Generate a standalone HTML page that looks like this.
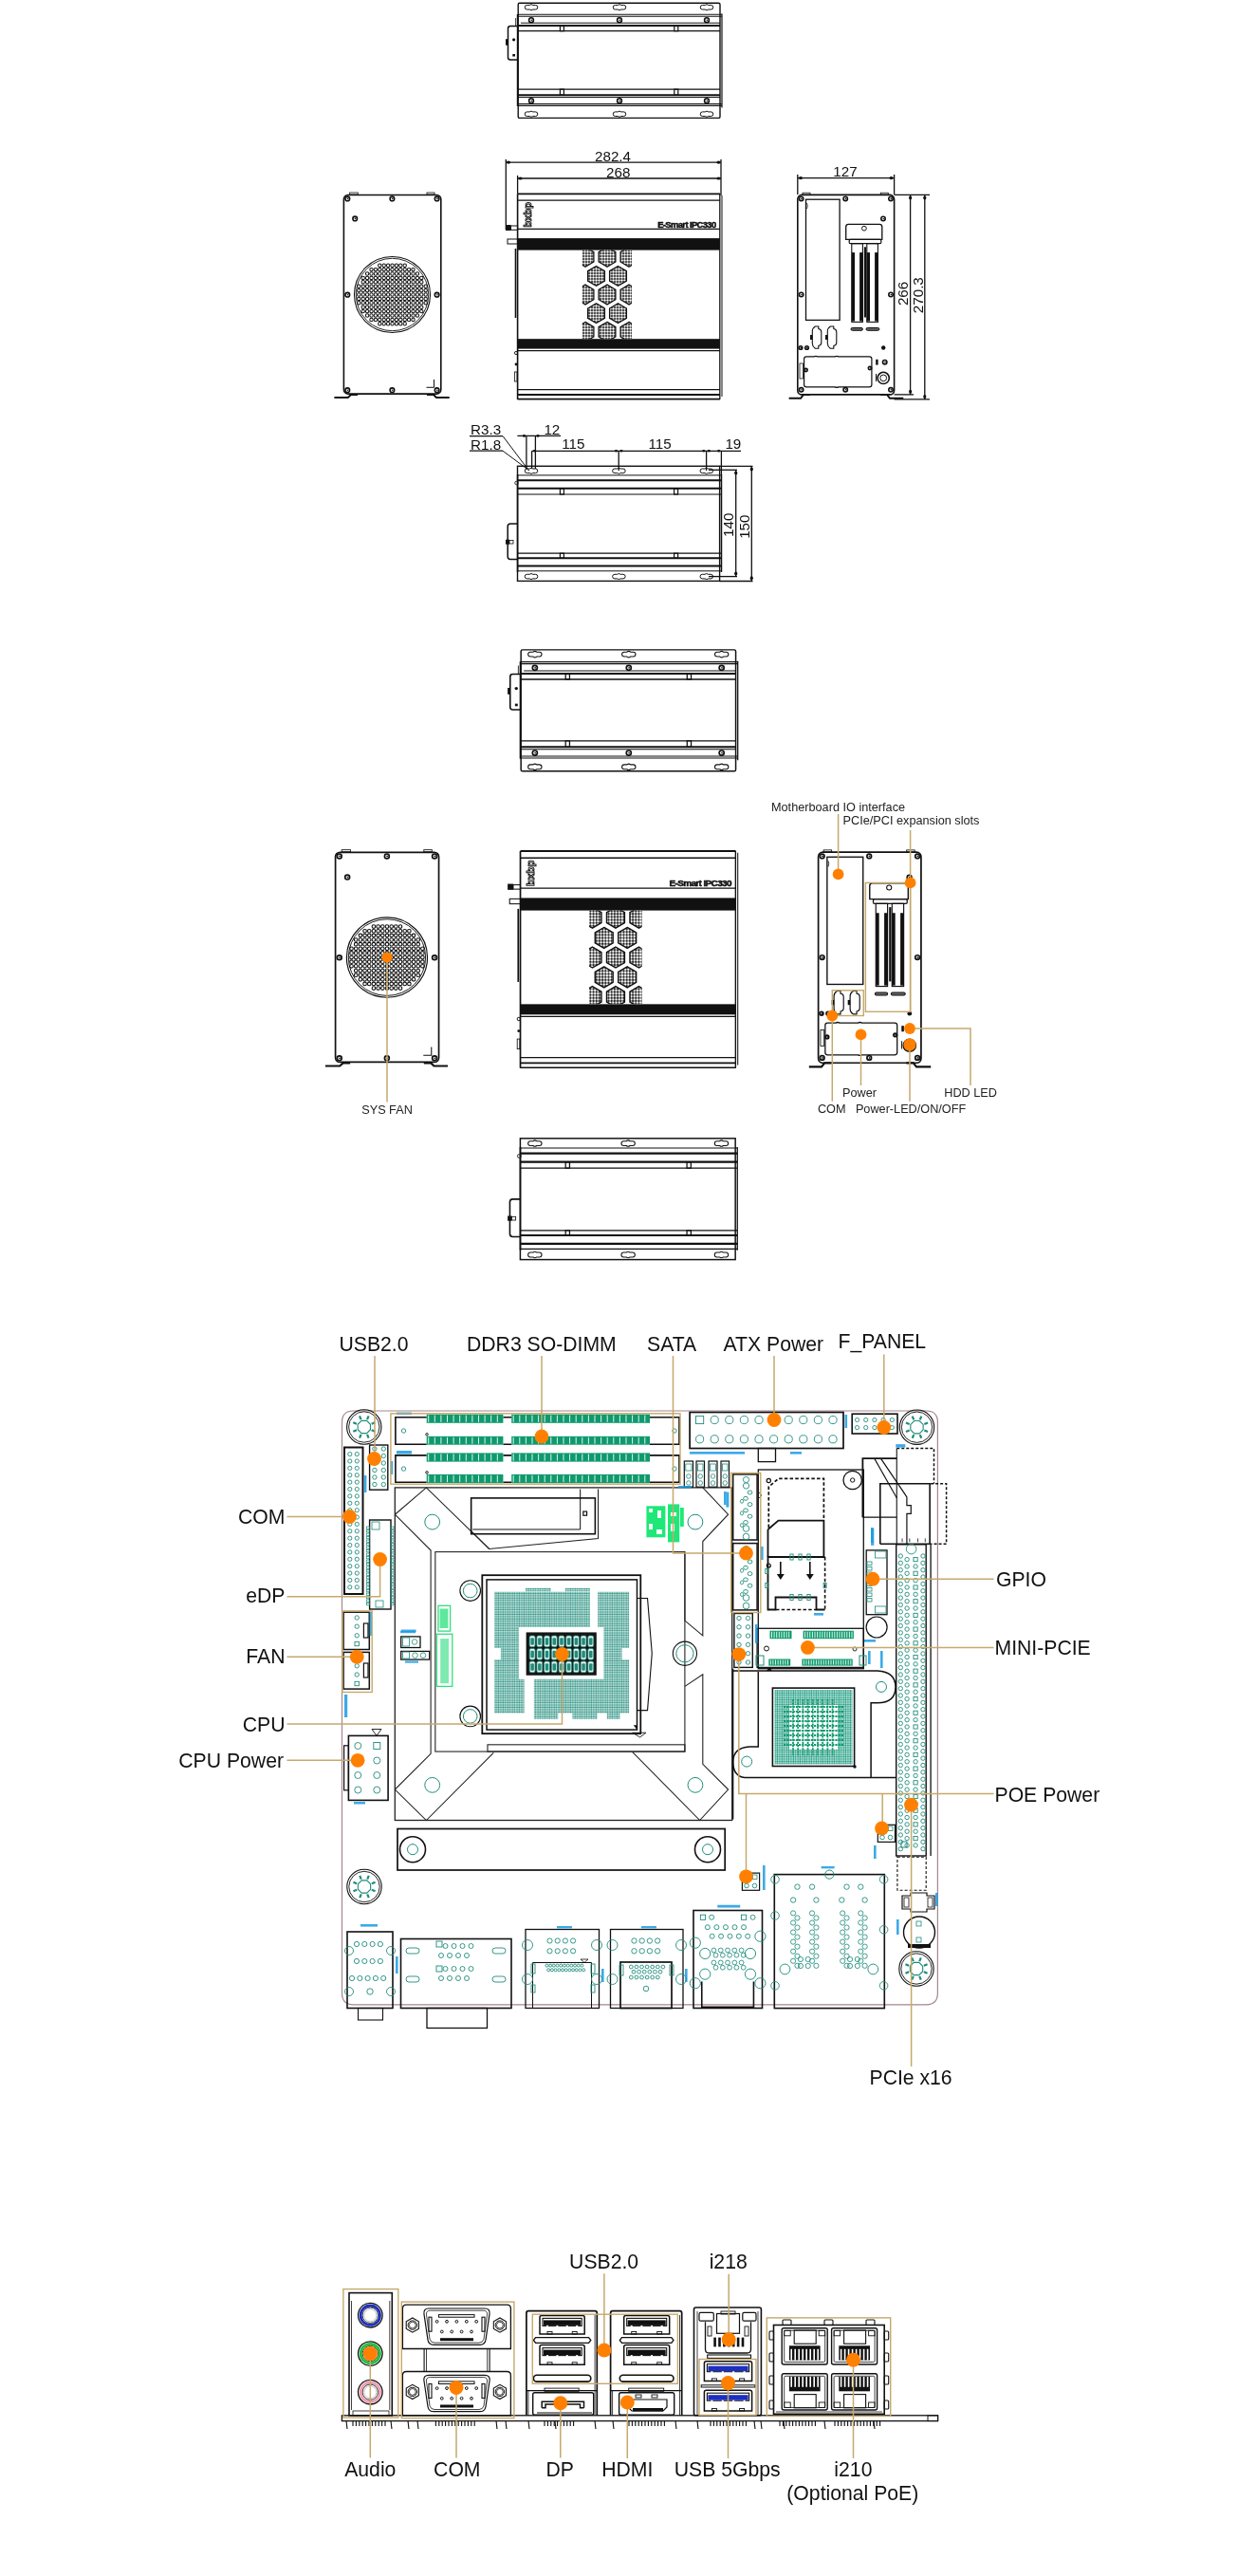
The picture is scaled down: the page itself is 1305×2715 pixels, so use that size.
<!DOCTYPE html>
<html><head><meta charset="utf-8"><style>
html,body{margin:0;padding:0;background:#fff;width:1305px;height:2715px;overflow:hidden}
svg{display:block;font-family:"Liberation Sans",sans-serif;will-change:transform}
</style></head><body>
<svg width="1305" height="2715" viewBox="0 0 1305 2715"><defs><pattern id="mesh" width="3" height="3" patternUnits="userSpaceOnUse"><rect width="3" height="3" fill="#111"/><circle cx="1.5" cy="1.5" r="1.22" fill="#fff"/></pattern><pattern id="pinpat" width="2.45" height="2.45" patternUnits="userSpaceOnUse"><rect x="0.25" y="0.3" width="1.85" height="1.75" fill="#1a8a78"/></pattern><pattern id="bgapat" width="2.4" height="2.4" patternUnits="userSpaceOnUse"><rect x="0.2" y="0.2" width="1.9" height="1.9" rx="0.5" fill="#12987a"/></pattern></defs><g id="topA"><rect x="546.2" y="3.2" width="212.8" height="121.2" rx="1.5" fill="none" stroke="#111" stroke-width="1.4"/><line x1="761" y1="14.5" x2="761" y2="113.5" stroke="#111" stroke-width="1.2"/><line x1="545.6" y1="15" x2="545.6" y2="112" stroke="#111" stroke-width="1.6"/><line x1="545.6" y1="15.3" x2="761" y2="15.3" stroke="#111" stroke-width="1.1"/><line x1="545.6" y1="17.2" x2="761" y2="17.2" stroke="#111" stroke-width="1.1"/><line x1="549" y1="24.2" x2="759" y2="24.2" stroke="#111" stroke-width="1"/><line x1="545.6" y1="27" x2="759" y2="27" stroke="#111" stroke-width="2"/><line x1="545.6" y1="32.7" x2="759" y2="32.7" stroke="#111" stroke-width="1.2"/><line x1="545.6" y1="94.1" x2="759" y2="94.1" stroke="#111" stroke-width="1.2"/><line x1="545.6" y1="100.2" x2="759" y2="100.2" stroke="#111" stroke-width="2"/><line x1="545.6" y1="102.6" x2="759" y2="102.6" stroke="#111" stroke-width="1"/><line x1="545.6" y1="109.5" x2="761" y2="109.5" stroke="#111" stroke-width="1.1"/><line x1="545.6" y1="111.4" x2="761" y2="111.4" stroke="#111" stroke-width="1.1"/><path d="M555.55,5.4 L558.2,5.4 Q560,3.9 561.8,5.4 L564.45,5.4 A2.3,2.3 0 0 1 564.45,10 L561.8,10 Q560,11.5 558.2,10 L555.55,10 A2.3,2.3 0 0 1 555.55,5.4 Z" fill="none" stroke="#111" stroke-width="1"/><path d="M555.55,117.9 L558.2,117.9 Q560,116.4 561.8,117.9 L564.45,117.9 A2.3,2.3 0 0 1 564.45,122.5 L561.8,122.5 Q560,124 558.2,122.5 L555.55,122.5 A2.3,2.3 0 0 1 555.55,117.9 Z" fill="none" stroke="#111" stroke-width="1"/><circle cx="560" cy="21.2" r="2.4" fill="none" stroke="#111" stroke-width="1.6"/><circle cx="560.3" cy="21.2" r="0.8" fill="#111"/><circle cx="560" cy="106.2" r="2.4" fill="none" stroke="#111" stroke-width="1.6"/><circle cx="560.3" cy="106.2" r="0.8" fill="#111"/><path d="M648.55,5.4 L651.2,5.4 Q653,3.9 654.8,5.4 L657.45,5.4 A2.3,2.3 0 0 1 657.45,10 L654.8,10 Q653,11.5 651.2,10 L648.55,10 A2.3,2.3 0 0 1 648.55,5.4 Z" fill="none" stroke="#111" stroke-width="1"/><path d="M648.55,117.9 L651.2,117.9 Q653,116.4 654.8,117.9 L657.45,117.9 A2.3,2.3 0 0 1 657.45,122.5 L654.8,122.5 Q653,124 651.2,122.5 L648.55,122.5 A2.3,2.3 0 0 1 648.55,117.9 Z" fill="none" stroke="#111" stroke-width="1"/><circle cx="653" cy="21.2" r="2.4" fill="none" stroke="#111" stroke-width="1.6"/><circle cx="653.3" cy="21.2" r="0.8" fill="#111"/><circle cx="653" cy="106.2" r="2.4" fill="none" stroke="#111" stroke-width="1.6"/><circle cx="653.3" cy="106.2" r="0.8" fill="#111"/><path d="M740.55,5.4 L743.2,5.4 Q745,3.9 746.8,5.4 L749.45,5.4 A2.3,2.3 0 0 1 749.45,10 L746.8,10 Q745,11.5 743.2,10 L740.55,10 A2.3,2.3 0 0 1 740.55,5.4 Z" fill="none" stroke="#111" stroke-width="1"/><path d="M740.55,117.9 L743.2,117.9 Q745,116.4 746.8,117.9 L749.45,117.9 A2.3,2.3 0 0 1 749.45,122.5 L746.8,122.5 Q745,124 743.2,122.5 L740.55,122.5 A2.3,2.3 0 0 1 740.55,117.9 Z" fill="none" stroke="#111" stroke-width="1"/><circle cx="745" cy="21.2" r="2.4" fill="none" stroke="#111" stroke-width="1.6"/><circle cx="745.3" cy="21.2" r="0.8" fill="#111"/><circle cx="745" cy="106.2" r="2.4" fill="none" stroke="#111" stroke-width="1.6"/><circle cx="745.3" cy="106.2" r="0.8" fill="#111"/><rect x="590.4" y="27.5" width="4" height="5.2" rx="0" fill="none" stroke="#111" stroke-width="1.2"/><rect x="590.4" y="94.1" width="4" height="6.1" rx="0" fill="none" stroke="#111" stroke-width="1.2"/><rect x="710.8" y="27.5" width="4" height="5.2" rx="0" fill="none" stroke="#111" stroke-width="1.2"/><rect x="710.8" y="94.1" width="4" height="6.1" rx="0" fill="none" stroke="#111" stroke-width="1.2"/><path d="M546,27.5 L538,27.5 Q535.5,27.5 535.5,30 L535.5,60.5 Q535.5,63 538,63 L546,63" fill="none" stroke="#111" stroke-width="1.5"/><rect x="533" y="41.2" width="2.5" height="6.5" rx="0" fill="#111" stroke="#111" stroke-width="0"/><circle cx="541.6" cy="41.8" r="1.6" fill="#111"/><rect x="540.3" y="57" width="2.7" height="2.5" rx="0" fill="#111" stroke="#111" stroke-width="0"/><line x1="543.6" y1="19" x2="543.6" y2="27.5" stroke="#111" stroke-width="0.8"/></g><g id="topB"><rect x="545.5" y="491.3" width="213.1" height="121.1" rx="0" fill="none" stroke="#111" stroke-width="1.4"/><line x1="760.6" y1="500" x2="760.6" y2="603" stroke="#111" stroke-width="1.2"/><line x1="545.6" y1="500" x2="545.6" y2="603" stroke="#111" stroke-width="1.6"/><line x1="545.6" y1="500.9" x2="760.6" y2="500.9" stroke="#111" stroke-width="1"/><line x1="545.6" y1="506.3" x2="760.6" y2="506.3" stroke="#111" stroke-width="2"/><line x1="545.6" y1="514.8" x2="760.6" y2="514.8" stroke="#111" stroke-width="2"/><line x1="545.6" y1="521" x2="760.6" y2="521" stroke="#111" stroke-width="1.2"/><line x1="545.6" y1="583.2" x2="760.6" y2="583.2" stroke="#111" stroke-width="1.2"/><line x1="545.6" y1="588.2" x2="760.6" y2="588.2" stroke="#111" stroke-width="2"/><line x1="545.6" y1="596.6" x2="760.6" y2="596.6" stroke="#111" stroke-width="2"/><line x1="545.6" y1="601.8" x2="760.6" y2="601.8" stroke="#111" stroke-width="1"/><path d="M555.55,494 L558.2,494 Q560,492.5 561.8,494 L564.45,494 A2.3,2.3 0 0 1 564.45,498.6 L561.8,498.6 Q560,500.1 558.2,498.6 L555.55,498.6 A2.3,2.3 0 0 1 555.55,494 Z" fill="none" stroke="#111" stroke-width="1"/><path d="M555.55,605.3 L558.2,605.3 Q560,603.8 561.8,605.3 L564.45,605.3 A2.3,2.3 0 0 1 564.45,609.9 L561.8,609.9 Q560,611.4 558.2,609.9 L555.55,609.9 A2.3,2.3 0 0 1 555.55,605.3 Z" fill="none" stroke="#111" stroke-width="1"/><path d="M647.95,494 L650.6,494 Q652.4,492.5 654.2,494 L656.85,494 A2.3,2.3 0 0 1 656.85,498.6 L654.2,498.6 Q652.4,500.1 650.6,498.6 L647.95,498.6 A2.3,2.3 0 0 1 647.95,494 Z" fill="none" stroke="#111" stroke-width="1"/><path d="M647.95,605.3 L650.6,605.3 Q652.4,603.8 654.2,605.3 L656.85,605.3 A2.3,2.3 0 0 1 656.85,609.9 L654.2,609.9 Q652.4,611.4 650.6,609.9 L647.95,609.9 A2.3,2.3 0 0 1 647.95,605.3 Z" fill="none" stroke="#111" stroke-width="1"/><path d="M740.35,494 L743,494 Q744.8,492.5 746.6,494 L749.25,494 A2.3,2.3 0 0 1 749.25,498.6 L746.6,498.6 Q744.8,500.1 743,498.6 L740.35,498.6 A2.3,2.3 0 0 1 740.35,494 Z" fill="none" stroke="#111" stroke-width="1"/><path d="M740.35,605.3 L743,605.3 Q744.8,603.8 746.6,605.3 L749.25,605.3 A2.3,2.3 0 0 1 749.25,609.9 L746.6,609.9 Q744.8,611.4 743,609.9 L740.35,609.9 A2.3,2.3 0 0 1 740.35,605.3 Z" fill="none" stroke="#111" stroke-width="1"/><rect x="590.4" y="515" width="4" height="6" rx="0" fill="none" stroke="#111" stroke-width="1.2"/><rect x="590.4" y="583.2" width="4" height="5" rx="0" fill="none" stroke="#111" stroke-width="1.2"/><rect x="710.6" y="515" width="4" height="6" rx="0" fill="none" stroke="#111" stroke-width="1.2"/><rect x="710.6" y="583.2" width="4" height="5" rx="0" fill="none" stroke="#111" stroke-width="1.2"/><path d="M545.6,552 L538,552 Q535.2,552 535.2,555 L535.2,586.6 Q535.2,589.6 538,589.6 L545.6,589.6" fill="none" stroke="#111" stroke-width="1.5"/><rect x="533" y="568.7" width="4" height="5" rx="0" fill="#111" stroke="#111" stroke-width="0"/><rect x="537" y="569.5" width="4" height="3.5" rx="0" fill="none" stroke="#111" stroke-width="0.8"/><circle cx="544.5" cy="509" r="1.8" fill="none" stroke="#111" stroke-width="0.8"/></g><g id="side"><rect x="362.4" y="205.5" width="102.4" height="209.6" rx="4.5" fill="none" stroke="#111" stroke-width="1.6"/><rect x="368.6" y="203" width="8.7" height="2" rx="0" fill="none" stroke="#111" stroke-width="0.8"/><rect x="450" y="203" width="8" height="2" rx="0" fill="none" stroke="#111" stroke-width="0.8"/><circle cx="366.3" cy="209.4" r="2.3" fill="none" stroke="#111" stroke-width="1.6"/><circle cx="366.6" cy="209.4" r="0.8" fill="#111"/><circle cx="413.4" cy="209.4" r="2.3" fill="none" stroke="#111" stroke-width="1.6"/><circle cx="413.7" cy="209.4" r="0.8" fill="#111"/><circle cx="460.6" cy="209.4" r="2.3" fill="none" stroke="#111" stroke-width="1.6"/><circle cx="460.9" cy="209.4" r="0.8" fill="#111"/><circle cx="366.3" cy="310.7" r="2.3" fill="none" stroke="#111" stroke-width="1.6"/><circle cx="366.6" cy="310.7" r="0.8" fill="#111"/><circle cx="460.6" cy="310.7" r="2.3" fill="none" stroke="#111" stroke-width="1.6"/><circle cx="460.9" cy="310.7" r="0.8" fill="#111"/><circle cx="366.3" cy="411.2" r="2.3" fill="none" stroke="#111" stroke-width="1.6"/><circle cx="366.6" cy="411.2" r="0.8" fill="#111"/><circle cx="413.4" cy="411.2" r="2.3" fill="none" stroke="#111" stroke-width="1.6"/><circle cx="413.7" cy="411.2" r="0.8" fill="#111"/><circle cx="460.6" cy="411.2" r="2.3" fill="none" stroke="#111" stroke-width="1.6"/><circle cx="460.9" cy="411.2" r="0.8" fill="#111"/><circle cx="374.2" cy="230.4" r="2.3" fill="none" stroke="#111" stroke-width="1.6"/><circle cx="374.5" cy="230.4" r="0.8" fill="#111"/><circle cx="413.5" cy="310.5" r="40" fill="none" stroke="#111" stroke-width="1.1"/><circle cx="413.5" cy="310.5" r="38.2" fill="none" stroke="#111" stroke-width="0.9"/><circle cx="378.3" cy="301.7" r="1.7" fill="none" stroke="#111" stroke-width="1.05"/><circle cx="378.3" cy="306.1" r="1.7" fill="none" stroke="#111" stroke-width="1.05"/><circle cx="378.3" cy="310.5" r="1.7" fill="none" stroke="#111" stroke-width="1.05"/><circle cx="378.3" cy="314.9" r="1.7" fill="none" stroke="#111" stroke-width="1.05"/><circle cx="378.3" cy="319.3" r="1.7" fill="none" stroke="#111" stroke-width="1.05"/><circle cx="382.7" cy="292.9" r="1.7" fill="none" stroke="#111" stroke-width="1.05"/><circle cx="382.7" cy="297.3" r="1.7" fill="none" stroke="#111" stroke-width="1.05"/><circle cx="382.7" cy="301.7" r="1.7" fill="none" stroke="#111" stroke-width="1.05"/><circle cx="382.7" cy="306.1" r="1.7" fill="none" stroke="#111" stroke-width="1.05"/><circle cx="382.7" cy="310.5" r="1.7" fill="none" stroke="#111" stroke-width="1.05"/><circle cx="382.7" cy="314.9" r="1.7" fill="none" stroke="#111" stroke-width="1.05"/><circle cx="382.7" cy="319.3" r="1.7" fill="none" stroke="#111" stroke-width="1.05"/><circle cx="382.7" cy="323.7" r="1.7" fill="none" stroke="#111" stroke-width="1.05"/><circle cx="382.7" cy="328.1" r="1.7" fill="none" stroke="#111" stroke-width="1.05"/><circle cx="387.1" cy="288.5" r="1.7" fill="none" stroke="#111" stroke-width="1.05"/><circle cx="387.1" cy="292.9" r="1.7" fill="none" stroke="#111" stroke-width="1.05"/><circle cx="387.1" cy="297.3" r="1.7" fill="none" stroke="#111" stroke-width="1.05"/><circle cx="387.1" cy="301.7" r="1.7" fill="none" stroke="#111" stroke-width="1.05"/><circle cx="387.1" cy="306.1" r="1.7" fill="none" stroke="#111" stroke-width="1.05"/><circle cx="387.1" cy="310.5" r="1.7" fill="none" stroke="#111" stroke-width="1.05"/><circle cx="387.1" cy="314.9" r="1.7" fill="none" stroke="#111" stroke-width="1.05"/><circle cx="387.1" cy="319.3" r="1.7" fill="none" stroke="#111" stroke-width="1.05"/><circle cx="387.1" cy="323.7" r="1.7" fill="none" stroke="#111" stroke-width="1.05"/><circle cx="387.1" cy="328.1" r="1.7" fill="none" stroke="#111" stroke-width="1.05"/><circle cx="387.1" cy="332.5" r="1.7" fill="none" stroke="#111" stroke-width="1.05"/><circle cx="391.5" cy="284.1" r="1.7" fill="none" stroke="#111" stroke-width="1.05"/><circle cx="391.5" cy="288.5" r="1.7" fill="none" stroke="#111" stroke-width="1.05"/><circle cx="391.5" cy="292.9" r="1.7" fill="none" stroke="#111" stroke-width="1.05"/><circle cx="391.5" cy="297.3" r="1.7" fill="none" stroke="#111" stroke-width="1.05"/><circle cx="391.5" cy="301.7" r="1.7" fill="none" stroke="#111" stroke-width="1.05"/><circle cx="391.5" cy="306.1" r="1.7" fill="none" stroke="#111" stroke-width="1.05"/><circle cx="391.5" cy="310.5" r="1.7" fill="none" stroke="#111" stroke-width="1.05"/><circle cx="391.5" cy="314.9" r="1.7" fill="none" stroke="#111" stroke-width="1.05"/><circle cx="391.5" cy="319.3" r="1.7" fill="none" stroke="#111" stroke-width="1.05"/><circle cx="391.5" cy="323.7" r="1.7" fill="none" stroke="#111" stroke-width="1.05"/><circle cx="391.5" cy="328.1" r="1.7" fill="none" stroke="#111" stroke-width="1.05"/><circle cx="391.5" cy="332.5" r="1.7" fill="none" stroke="#111" stroke-width="1.05"/><circle cx="391.5" cy="336.9" r="1.7" fill="none" stroke="#111" stroke-width="1.05"/><circle cx="395.9" cy="284.1" r="1.7" fill="none" stroke="#111" stroke-width="1.05"/><circle cx="395.9" cy="288.5" r="1.7" fill="none" stroke="#111" stroke-width="1.05"/><circle cx="395.9" cy="292.9" r="1.7" fill="none" stroke="#111" stroke-width="1.05"/><circle cx="395.9" cy="297.3" r="1.7" fill="none" stroke="#111" stroke-width="1.05"/><circle cx="395.9" cy="301.7" r="1.7" fill="none" stroke="#111" stroke-width="1.05"/><circle cx="395.9" cy="306.1" r="1.7" fill="none" stroke="#111" stroke-width="1.05"/><circle cx="395.9" cy="310.5" r="1.7" fill="none" stroke="#111" stroke-width="1.05"/><circle cx="395.9" cy="314.9" r="1.7" fill="none" stroke="#111" stroke-width="1.05"/><circle cx="395.9" cy="319.3" r="1.7" fill="none" stroke="#111" stroke-width="1.05"/><circle cx="395.9" cy="323.7" r="1.7" fill="none" stroke="#111" stroke-width="1.05"/><circle cx="395.9" cy="328.1" r="1.7" fill="none" stroke="#111" stroke-width="1.05"/><circle cx="395.9" cy="332.5" r="1.7" fill="none" stroke="#111" stroke-width="1.05"/><circle cx="395.9" cy="336.9" r="1.7" fill="none" stroke="#111" stroke-width="1.05"/><circle cx="400.3" cy="279.7" r="1.7" fill="none" stroke="#111" stroke-width="1.05"/><circle cx="400.3" cy="284.1" r="1.7" fill="none" stroke="#111" stroke-width="1.05"/><circle cx="400.3" cy="288.5" r="1.7" fill="none" stroke="#111" stroke-width="1.05"/><circle cx="400.3" cy="292.9" r="1.7" fill="none" stroke="#111" stroke-width="1.05"/><circle cx="400.3" cy="297.3" r="1.7" fill="none" stroke="#111" stroke-width="1.05"/><circle cx="400.3" cy="301.7" r="1.7" fill="none" stroke="#111" stroke-width="1.05"/><circle cx="400.3" cy="306.1" r="1.7" fill="none" stroke="#111" stroke-width="1.05"/><circle cx="400.3" cy="310.5" r="1.7" fill="none" stroke="#111" stroke-width="1.05"/><circle cx="400.3" cy="314.9" r="1.7" fill="none" stroke="#111" stroke-width="1.05"/><circle cx="400.3" cy="319.3" r="1.7" fill="none" stroke="#111" stroke-width="1.05"/><circle cx="400.3" cy="323.7" r="1.7" fill="none" stroke="#111" stroke-width="1.05"/><circle cx="400.3" cy="328.1" r="1.7" fill="none" stroke="#111" stroke-width="1.05"/><circle cx="400.3" cy="332.5" r="1.7" fill="none" stroke="#111" stroke-width="1.05"/><circle cx="400.3" cy="336.9" r="1.7" fill="none" stroke="#111" stroke-width="1.05"/><circle cx="400.3" cy="341.3" r="1.7" fill="none" stroke="#111" stroke-width="1.05"/><circle cx="404.7" cy="279.7" r="1.7" fill="none" stroke="#111" stroke-width="1.05"/><circle cx="404.7" cy="284.1" r="1.7" fill="none" stroke="#111" stroke-width="1.05"/><circle cx="404.7" cy="288.5" r="1.7" fill="none" stroke="#111" stroke-width="1.05"/><circle cx="404.7" cy="292.9" r="1.7" fill="none" stroke="#111" stroke-width="1.05"/><circle cx="404.7" cy="297.3" r="1.7" fill="none" stroke="#111" stroke-width="1.05"/><circle cx="404.7" cy="301.7" r="1.7" fill="none" stroke="#111" stroke-width="1.05"/><circle cx="404.7" cy="306.1" r="1.7" fill="none" stroke="#111" stroke-width="1.05"/><circle cx="404.7" cy="310.5" r="1.7" fill="none" stroke="#111" stroke-width="1.05"/><circle cx="404.7" cy="314.9" r="1.7" fill="none" stroke="#111" stroke-width="1.05"/><circle cx="404.7" cy="319.3" r="1.7" fill="none" stroke="#111" stroke-width="1.05"/><circle cx="404.7" cy="323.7" r="1.7" fill="none" stroke="#111" stroke-width="1.05"/><circle cx="404.7" cy="328.1" r="1.7" fill="none" stroke="#111" stroke-width="1.05"/><circle cx="404.7" cy="332.5" r="1.7" fill="none" stroke="#111" stroke-width="1.05"/><circle cx="404.7" cy="336.9" r="1.7" fill="none" stroke="#111" stroke-width="1.05"/><circle cx="404.7" cy="341.3" r="1.7" fill="none" stroke="#111" stroke-width="1.05"/><circle cx="409.1" cy="279.7" r="1.7" fill="none" stroke="#111" stroke-width="1.05"/><circle cx="409.1" cy="284.1" r="1.7" fill="none" stroke="#111" stroke-width="1.05"/><circle cx="409.1" cy="288.5" r="1.7" fill="none" stroke="#111" stroke-width="1.05"/><circle cx="409.1" cy="292.9" r="1.7" fill="none" stroke="#111" stroke-width="1.05"/><circle cx="409.1" cy="297.3" r="1.7" fill="none" stroke="#111" stroke-width="1.05"/><circle cx="409.1" cy="301.7" r="1.7" fill="none" stroke="#111" stroke-width="1.05"/><circle cx="409.1" cy="306.1" r="1.7" fill="none" stroke="#111" stroke-width="1.05"/><circle cx="409.1" cy="310.5" r="1.7" fill="none" stroke="#111" stroke-width="1.05"/><circle cx="409.1" cy="314.9" r="1.7" fill="none" stroke="#111" stroke-width="1.05"/><circle cx="409.1" cy="319.3" r="1.7" fill="none" stroke="#111" stroke-width="1.05"/><circle cx="409.1" cy="323.7" r="1.7" fill="none" stroke="#111" stroke-width="1.05"/><circle cx="409.1" cy="328.1" r="1.7" fill="none" stroke="#111" stroke-width="1.05"/><circle cx="409.1" cy="332.5" r="1.7" fill="none" stroke="#111" stroke-width="1.05"/><circle cx="409.1" cy="336.9" r="1.7" fill="none" stroke="#111" stroke-width="1.05"/><circle cx="409.1" cy="341.3" r="1.7" fill="none" stroke="#111" stroke-width="1.05"/><circle cx="413.5" cy="279.7" r="1.7" fill="none" stroke="#111" stroke-width="1.05"/><circle cx="413.5" cy="284.1" r="1.7" fill="none" stroke="#111" stroke-width="1.05"/><circle cx="413.5" cy="288.5" r="1.7" fill="none" stroke="#111" stroke-width="1.05"/><circle cx="413.5" cy="292.9" r="1.7" fill="none" stroke="#111" stroke-width="1.05"/><circle cx="413.5" cy="297.3" r="1.7" fill="none" stroke="#111" stroke-width="1.05"/><circle cx="413.5" cy="301.7" r="1.7" fill="none" stroke="#111" stroke-width="1.05"/><circle cx="413.5" cy="306.1" r="1.7" fill="none" stroke="#111" stroke-width="1.05"/><circle cx="413.5" cy="310.5" r="1.7" fill="none" stroke="#111" stroke-width="1.05"/><circle cx="413.5" cy="314.9" r="1.7" fill="none" stroke="#111" stroke-width="1.05"/><circle cx="413.5" cy="319.3" r="1.7" fill="none" stroke="#111" stroke-width="1.05"/><circle cx="413.5" cy="323.7" r="1.7" fill="none" stroke="#111" stroke-width="1.05"/><circle cx="413.5" cy="328.1" r="1.7" fill="none" stroke="#111" stroke-width="1.05"/><circle cx="413.5" cy="332.5" r="1.7" fill="none" stroke="#111" stroke-width="1.05"/><circle cx="413.5" cy="336.9" r="1.7" fill="none" stroke="#111" stroke-width="1.05"/><circle cx="413.5" cy="341.3" r="1.7" fill="none" stroke="#111" stroke-width="1.05"/><circle cx="417.9" cy="279.7" r="1.7" fill="none" stroke="#111" stroke-width="1.05"/><circle cx="417.9" cy="284.1" r="1.7" fill="none" stroke="#111" stroke-width="1.05"/><circle cx="417.9" cy="288.5" r="1.7" fill="none" stroke="#111" stroke-width="1.05"/><circle cx="417.9" cy="292.9" r="1.7" fill="none" stroke="#111" stroke-width="1.05"/><circle cx="417.9" cy="297.3" r="1.7" fill="none" stroke="#111" stroke-width="1.05"/><circle cx="417.9" cy="301.7" r="1.7" fill="none" stroke="#111" stroke-width="1.05"/><circle cx="417.9" cy="306.1" r="1.7" fill="none" stroke="#111" stroke-width="1.05"/><circle cx="417.9" cy="310.5" r="1.7" fill="none" stroke="#111" stroke-width="1.05"/><circle cx="417.9" cy="314.9" r="1.7" fill="none" stroke="#111" stroke-width="1.05"/><circle cx="417.9" cy="319.3" r="1.7" fill="none" stroke="#111" stroke-width="1.05"/><circle cx="417.9" cy="323.7" r="1.7" fill="none" stroke="#111" stroke-width="1.05"/><circle cx="417.9" cy="328.1" r="1.7" fill="none" stroke="#111" stroke-width="1.05"/><circle cx="417.9" cy="332.5" r="1.7" fill="none" stroke="#111" stroke-width="1.05"/><circle cx="417.9" cy="336.9" r="1.7" fill="none" stroke="#111" stroke-width="1.05"/><circle cx="417.9" cy="341.3" r="1.7" fill="none" stroke="#111" stroke-width="1.05"/><circle cx="422.3" cy="279.7" r="1.7" fill="none" stroke="#111" stroke-width="1.05"/><circle cx="422.3" cy="284.1" r="1.7" fill="none" stroke="#111" stroke-width="1.05"/><circle cx="422.3" cy="288.5" r="1.7" fill="none" stroke="#111" stroke-width="1.05"/><circle cx="422.3" cy="292.9" r="1.7" fill="none" stroke="#111" stroke-width="1.05"/><circle cx="422.3" cy="297.3" r="1.7" fill="none" stroke="#111" stroke-width="1.05"/><circle cx="422.3" cy="301.7" r="1.7" fill="none" stroke="#111" stroke-width="1.05"/><circle cx="422.3" cy="306.1" r="1.7" fill="none" stroke="#111" stroke-width="1.05"/><circle cx="422.3" cy="310.5" r="1.7" fill="none" stroke="#111" stroke-width="1.05"/><circle cx="422.3" cy="314.9" r="1.7" fill="none" stroke="#111" stroke-width="1.05"/><circle cx="422.3" cy="319.3" r="1.7" fill="none" stroke="#111" stroke-width="1.05"/><circle cx="422.3" cy="323.7" r="1.7" fill="none" stroke="#111" stroke-width="1.05"/><circle cx="422.3" cy="328.1" r="1.7" fill="none" stroke="#111" stroke-width="1.05"/><circle cx="422.3" cy="332.5" r="1.7" fill="none" stroke="#111" stroke-width="1.05"/><circle cx="422.3" cy="336.9" r="1.7" fill="none" stroke="#111" stroke-width="1.05"/><circle cx="422.3" cy="341.3" r="1.7" fill="none" stroke="#111" stroke-width="1.05"/><circle cx="426.7" cy="279.7" r="1.7" fill="none" stroke="#111" stroke-width="1.05"/><circle cx="426.7" cy="284.1" r="1.7" fill="none" stroke="#111" stroke-width="1.05"/><circle cx="426.7" cy="288.5" r="1.7" fill="none" stroke="#111" stroke-width="1.05"/><circle cx="426.7" cy="292.9" r="1.7" fill="none" stroke="#111" stroke-width="1.05"/><circle cx="426.7" cy="297.3" r="1.7" fill="none" stroke="#111" stroke-width="1.05"/><circle cx="426.7" cy="301.7" r="1.7" fill="none" stroke="#111" stroke-width="1.05"/><circle cx="426.7" cy="306.1" r="1.7" fill="none" stroke="#111" stroke-width="1.05"/><circle cx="426.7" cy="310.5" r="1.7" fill="none" stroke="#111" stroke-width="1.05"/><circle cx="426.7" cy="314.9" r="1.7" fill="none" stroke="#111" stroke-width="1.05"/><circle cx="426.7" cy="319.3" r="1.7" fill="none" stroke="#111" stroke-width="1.05"/><circle cx="426.7" cy="323.7" r="1.7" fill="none" stroke="#111" stroke-width="1.05"/><circle cx="426.7" cy="328.1" r="1.7" fill="none" stroke="#111" stroke-width="1.05"/><circle cx="426.7" cy="332.5" r="1.7" fill="none" stroke="#111" stroke-width="1.05"/><circle cx="426.7" cy="336.9" r="1.7" fill="none" stroke="#111" stroke-width="1.05"/><circle cx="426.7" cy="341.3" r="1.7" fill="none" stroke="#111" stroke-width="1.05"/><circle cx="431.1" cy="284.1" r="1.7" fill="none" stroke="#111" stroke-width="1.05"/><circle cx="431.1" cy="288.5" r="1.7" fill="none" stroke="#111" stroke-width="1.05"/><circle cx="431.1" cy="292.9" r="1.7" fill="none" stroke="#111" stroke-width="1.05"/><circle cx="431.1" cy="297.3" r="1.7" fill="none" stroke="#111" stroke-width="1.05"/><circle cx="431.1" cy="301.7" r="1.7" fill="none" stroke="#111" stroke-width="1.05"/><circle cx="431.1" cy="306.1" r="1.7" fill="none" stroke="#111" stroke-width="1.05"/><circle cx="431.1" cy="310.5" r="1.7" fill="none" stroke="#111" stroke-width="1.05"/><circle cx="431.1" cy="314.9" r="1.7" fill="none" stroke="#111" stroke-width="1.05"/><circle cx="431.1" cy="319.3" r="1.7" fill="none" stroke="#111" stroke-width="1.05"/><circle cx="431.1" cy="323.7" r="1.7" fill="none" stroke="#111" stroke-width="1.05"/><circle cx="431.1" cy="328.1" r="1.7" fill="none" stroke="#111" stroke-width="1.05"/><circle cx="431.1" cy="332.5" r="1.7" fill="none" stroke="#111" stroke-width="1.05"/><circle cx="431.1" cy="336.9" r="1.7" fill="none" stroke="#111" stroke-width="1.05"/><circle cx="435.5" cy="284.1" r="1.7" fill="none" stroke="#111" stroke-width="1.05"/><circle cx="435.5" cy="288.5" r="1.7" fill="none" stroke="#111" stroke-width="1.05"/><circle cx="435.5" cy="292.9" r="1.7" fill="none" stroke="#111" stroke-width="1.05"/><circle cx="435.5" cy="297.3" r="1.7" fill="none" stroke="#111" stroke-width="1.05"/><circle cx="435.5" cy="301.7" r="1.7" fill="none" stroke="#111" stroke-width="1.05"/><circle cx="435.5" cy="306.1" r="1.7" fill="none" stroke="#111" stroke-width="1.05"/><circle cx="435.5" cy="310.5" r="1.7" fill="none" stroke="#111" stroke-width="1.05"/><circle cx="435.5" cy="314.9" r="1.7" fill="none" stroke="#111" stroke-width="1.05"/><circle cx="435.5" cy="319.3" r="1.7" fill="none" stroke="#111" stroke-width="1.05"/><circle cx="435.5" cy="323.7" r="1.7" fill="none" stroke="#111" stroke-width="1.05"/><circle cx="435.5" cy="328.1" r="1.7" fill="none" stroke="#111" stroke-width="1.05"/><circle cx="435.5" cy="332.5" r="1.7" fill="none" stroke="#111" stroke-width="1.05"/><circle cx="435.5" cy="336.9" r="1.7" fill="none" stroke="#111" stroke-width="1.05"/><circle cx="439.9" cy="288.5" r="1.7" fill="none" stroke="#111" stroke-width="1.05"/><circle cx="439.9" cy="292.9" r="1.7" fill="none" stroke="#111" stroke-width="1.05"/><circle cx="439.9" cy="297.3" r="1.7" fill="none" stroke="#111" stroke-width="1.05"/><circle cx="439.9" cy="301.7" r="1.7" fill="none" stroke="#111" stroke-width="1.05"/><circle cx="439.9" cy="306.1" r="1.7" fill="none" stroke="#111" stroke-width="1.05"/><circle cx="439.9" cy="310.5" r="1.7" fill="none" stroke="#111" stroke-width="1.05"/><circle cx="439.9" cy="314.9" r="1.7" fill="none" stroke="#111" stroke-width="1.05"/><circle cx="439.9" cy="319.3" r="1.7" fill="none" stroke="#111" stroke-width="1.05"/><circle cx="439.9" cy="323.7" r="1.7" fill="none" stroke="#111" stroke-width="1.05"/><circle cx="439.9" cy="328.1" r="1.7" fill="none" stroke="#111" stroke-width="1.05"/><circle cx="439.9" cy="332.5" r="1.7" fill="none" stroke="#111" stroke-width="1.05"/><circle cx="444.3" cy="292.9" r="1.7" fill="none" stroke="#111" stroke-width="1.05"/><circle cx="444.3" cy="297.3" r="1.7" fill="none" stroke="#111" stroke-width="1.05"/><circle cx="444.3" cy="301.7" r="1.7" fill="none" stroke="#111" stroke-width="1.05"/><circle cx="444.3" cy="306.1" r="1.7" fill="none" stroke="#111" stroke-width="1.05"/><circle cx="444.3" cy="310.5" r="1.7" fill="none" stroke="#111" stroke-width="1.05"/><circle cx="444.3" cy="314.9" r="1.7" fill="none" stroke="#111" stroke-width="1.05"/><circle cx="444.3" cy="319.3" r="1.7" fill="none" stroke="#111" stroke-width="1.05"/><circle cx="444.3" cy="323.7" r="1.7" fill="none" stroke="#111" stroke-width="1.05"/><circle cx="444.3" cy="328.1" r="1.7" fill="none" stroke="#111" stroke-width="1.05"/><circle cx="448.7" cy="301.7" r="1.7" fill="none" stroke="#111" stroke-width="1.05"/><circle cx="448.7" cy="306.1" r="1.7" fill="none" stroke="#111" stroke-width="1.05"/><circle cx="448.7" cy="310.5" r="1.7" fill="none" stroke="#111" stroke-width="1.05"/><circle cx="448.7" cy="314.9" r="1.7" fill="none" stroke="#111" stroke-width="1.05"/><circle cx="448.7" cy="319.3" r="1.7" fill="none" stroke="#111" stroke-width="1.05"/><path d="M457.5,400 L457.5,408.3 L449.5,408.3" fill="none" stroke="#111" stroke-width="1"/><path d="M352.4,419 L366.7,419 L370,416 L377,416" fill="none" stroke="#111" stroke-width="2"/><path d="M450,416 L457,416 L460,419 L473.7,419" fill="none" stroke="#111" stroke-width="2"/></g><g id="front"><line x1="545.6" y1="204.3" x2="759" y2="204.3" stroke="#111" stroke-width="1.8"/><line x1="545.6" y1="204.3" x2="545.6" y2="421" stroke="#111" stroke-width="1.6"/><line x1="758.8" y1="204.3" x2="758.8" y2="421" stroke="#111" stroke-width="1.3"/><line x1="761" y1="206" x2="761" y2="418" stroke="#111" stroke-width="1"/><line x1="545.6" y1="211.1" x2="759" y2="211.1" stroke="#111" stroke-width="1.3"/><line x1="545.6" y1="241.4" x2="759" y2="241.4" stroke="#111" stroke-width="1.2"/><rect x="545.6" y="251.1" width="213.2" height="12.5" rx="0" fill="#111" stroke="#111" stroke-width="0"/><rect x="545.6" y="357.2" width="213.2" height="10.4" rx="0" fill="#111" stroke="#111" stroke-width="0"/><line x1="545.6" y1="369.6" x2="759" y2="369.6" stroke="#111" stroke-width="1.2"/><line x1="545.6" y1="410.6" x2="759" y2="410.6" stroke="#111" stroke-width="1.2"/><line x1="545.6" y1="416" x2="759" y2="416" stroke="#111" stroke-width="1.8"/><line x1="545.6" y1="420.6" x2="759" y2="420.6" stroke="#111" stroke-width="1.6"/><clipPath id="hexclip"><rect x="613.8" y="263.6" width="52.2" height="93.6"/></clipPath><g clip-path="url(#hexclip)"><path d="M617,260.4 L625.9,265.6 L625.9,276 L617,281.2 L608.1,276 L608.1,265.6 Z" fill="url(#mesh)" stroke="#111" stroke-width="1.3"/><path d="M640,260.4 L648.9,265.6 L648.9,276 L640,281.2 L631.1,276 L631.1,265.6 Z" fill="url(#mesh)" stroke="#111" stroke-width="1.3"/><path d="M663,260.4 L671.9,265.6 L671.9,276 L663,281.2 L654.1,276 L654.1,265.6 Z" fill="url(#mesh)" stroke="#111" stroke-width="1.3"/><path d="M628.5,280.5 L637.4,285.7 L637.4,296.1 L628.5,301.3 L619.6,296.1 L619.6,285.7 Z" fill="url(#mesh)" stroke="#111" stroke-width="1.3"/><path d="M651.5,280.5 L660.4,285.7 L660.4,296.1 L651.5,301.3 L642.6,296.1 L642.6,285.7 Z" fill="url(#mesh)" stroke="#111" stroke-width="1.3"/><path d="M617,300.1 L625.9,305.3 L625.9,315.7 L617,320.9 L608.1,315.7 L608.1,305.3 Z" fill="url(#mesh)" stroke="#111" stroke-width="1.3"/><path d="M640,300.1 L648.9,305.3 L648.9,315.7 L640,320.9 L631.1,315.7 L631.1,305.3 Z" fill="url(#mesh)" stroke="#111" stroke-width="1.3"/><path d="M663,300.1 L671.9,305.3 L671.9,315.7 L663,320.9 L654.1,315.7 L654.1,305.3 Z" fill="url(#mesh)" stroke="#111" stroke-width="1.3"/><path d="M628.5,319.8 L637.4,325 L637.4,335.4 L628.5,340.6 L619.6,335.4 L619.6,325 Z" fill="url(#mesh)" stroke="#111" stroke-width="1.3"/><path d="M651.5,319.8 L660.4,325 L660.4,335.4 L651.5,340.6 L642.6,335.4 L642.6,325 Z" fill="url(#mesh)" stroke="#111" stroke-width="1.3"/><path d="M617,339.4 L625.9,344.6 L625.9,355 L617,360.2 L608.1,355 L608.1,344.6 Z" fill="url(#mesh)" stroke="#111" stroke-width="1.3"/><path d="M640,339.4 L648.9,344.6 L648.9,355 L640,360.2 L631.1,355 L631.1,344.6 Z" fill="url(#mesh)" stroke="#111" stroke-width="1.3"/><path d="M663,339.4 L671.9,344.6 L671.9,355 L663,360.2 L654.1,355 L654.1,344.6 Z" fill="url(#mesh)" stroke="#111" stroke-width="1.3"/></g><text x="754.6" y="239.8" text-anchor="end" font-weight="bold" font-size="9.4" letter-spacing="-0.6" fill="#111" stroke="#111" stroke-width="0.5">E-Smart IPC330</text><text transform="translate(559.6,239.4) rotate(-90)" font-family="Liberation Sans" font-weight="bold" font-size="11" fill="none" stroke="#111" stroke-width="0.9">bxbp</text><rect x="533" y="237" width="5.5" height="6" rx="0" fill="#111" stroke="#111" stroke-width="0"/><rect x="538.5" y="238" width="7.1" height="4.3" rx="0" fill="none" stroke="#111" stroke-width="1"/><rect x="535" y="252" width="10.6" height="5" rx="0" fill="none" stroke="#111" stroke-width="1"/><line x1="543.5" y1="262" x2="543.5" y2="335" stroke="#111" stroke-width="1.6"/><circle cx="544" cy="372" r="1.6" fill="none" stroke="#111" stroke-width="0.9"/><circle cx="544" cy="384" r="1.4" fill="#111"/><rect x="542.5" y="392" width="2.5" height="10" rx="0" fill="none" stroke="#111" stroke-width="0.8"/></g><g id="back"><rect x="840.8" y="205.4" width="101.8" height="210.5" rx="4.5" fill="none" stroke="#111" stroke-width="1.6"/><rect x="846" y="203.2" width="8" height="2" rx="0" fill="none" stroke="#111" stroke-width="0.8"/><rect x="928.3" y="203.2" width="8" height="2" rx="0" fill="none" stroke="#111" stroke-width="0.8"/><circle cx="844.6" cy="209.4" r="2.2" fill="none" stroke="#111" stroke-width="1.6"/><circle cx="844.9" cy="209.4" r="0.8" fill="#111"/><circle cx="891.2" cy="209.4" r="2.2" fill="none" stroke="#111" stroke-width="1.6"/><circle cx="891.5" cy="209.4" r="0.8" fill="#111"/><circle cx="939" cy="209.4" r="2.2" fill="none" stroke="#111" stroke-width="1.6"/><circle cx="939.3" cy="209.4" r="0.8" fill="#111"/><circle cx="844.6" cy="310.5" r="2.2" fill="none" stroke="#111" stroke-width="1.6"/><circle cx="844.9" cy="310.5" r="0.8" fill="#111"/><circle cx="939" cy="310.5" r="2.2" fill="none" stroke="#111" stroke-width="1.6"/><circle cx="939.3" cy="310.5" r="0.8" fill="#111"/><circle cx="844.6" cy="410.8" r="2.2" fill="none" stroke="#111" stroke-width="1.6"/><circle cx="844.9" cy="410.8" r="0.8" fill="#111"/><circle cx="891.2" cy="410.8" r="2.2" fill="none" stroke="#111" stroke-width="1.6"/><circle cx="891.5" cy="410.8" r="0.8" fill="#111"/><circle cx="939" cy="410.8" r="2.2" fill="none" stroke="#111" stroke-width="1.6"/><circle cx="939.3" cy="410.8" r="0.8" fill="#111"/><circle cx="931" cy="230.5" r="2.2" fill="none" stroke="#111" stroke-width="1.6"/><circle cx="931.3" cy="230.5" r="0.8" fill="#111"/><rect x="849.5" y="210.2" width="35.6" height="127.2" rx="0" fill="none" stroke="#111" stroke-width="1.3"/><path d="M850.5,214 q1.5,3 0,6" fill="none" stroke="#111" stroke-width="0.8"/><path d="M891.7,252.3 L891.7,239 Q891.7,236.3 894.5,236.3 L927,236.3 Q929.8,236.3 929.8,239 L929.8,252.3 Z" fill="none" stroke="#111" stroke-width="1.3"/><rect x="895.2" y="252.3" width="33.6" height="4.4" rx="1.2" fill="none" stroke="#111" stroke-width="1.2"/><circle cx="910.9" cy="240.7" r="2.4" fill="none" stroke="#111" stroke-width="1"/><rect x="897.8" y="256.7" width="11.6" height="82.7" rx="0" fill="none" stroke="#111" stroke-width="1.1"/><rect x="897.8" y="266.1" width="3.2" height="72.4" rx="0" fill="#111" stroke="#111" stroke-width="0"/><rect x="906.1" y="266.1" width="3.3" height="72.4" rx="0" fill="#111" stroke="#111" stroke-width="0"/><rect x="913.8" y="256.7" width="11.6" height="82.7" rx="0" fill="none" stroke="#111" stroke-width="1.1"/><rect x="913.8" y="266.1" width="3.2" height="72.4" rx="0" fill="#111" stroke="#111" stroke-width="0"/><rect x="922.1" y="266.1" width="3.3" height="72.4" rx="0" fill="#111" stroke="#111" stroke-width="0"/><rect x="910.9" y="260.3" width="2.1" height="74.2" rx="0" fill="#111" stroke="#111" stroke-width="0"/><rect x="897" y="345.5" width="12.4" height="2.8" rx="1.4" fill="#666" stroke="#111" stroke-width="1"/><rect x="913" y="345.5" width="13.9" height="2.8" rx="1.4" fill="#666" stroke="#111" stroke-width="1"/><path d="M859.3,344 L862.8,344 L862.8,346.5 Q865.8,347 865.8,350 L865.8,361 Q865.8,364 862.8,364.5 L862.8,367.2 L859.3,367.2 Q856.3,365 856.3,362 L856.3,349 Q856.3,346 859.3,344 Z" fill="none" stroke="#111" stroke-width="1.1"/><rect x="854" y="353" width="2.3" height="5" rx="0" fill="#111" stroke="#111" stroke-width="0"/><path d="M875.3,344 L878.8,344 L878.8,346.5 Q881.8,347 881.8,350 L881.8,361 Q881.8,364 878.8,364.5 L878.8,367.2 L875.3,367.2 Q872.3,365 872.3,362 L872.3,349 Q872.3,346 875.3,344 Z" fill="none" stroke="#111" stroke-width="1.1"/><rect x="870" y="353" width="2.3" height="5" rx="0" fill="#111" stroke="#111" stroke-width="0"/><circle cx="844" cy="366.5" r="1.8" fill="none" stroke="#111" stroke-width="1.6"/><circle cx="844.3" cy="366.5" r="0.8" fill="#111"/><circle cx="850.5" cy="366.5" r="1.8" fill="none" stroke="#111" stroke-width="1.6"/><circle cx="850.8" cy="366.5" r="0.8" fill="#111"/><circle cx="931.2" cy="366.5" r="2.2" fill="#111"/><path d="M850,375.9 L858,375.9 Q860,374.8 862,375.9 L880,375.9 Q882,374.8 884,375.9 L916.5,375.9 Q918.9,375.9 918.9,378.3 L918.9,405.5 Q918.9,407.9 916.5,407.9 L884,407.9 Q882,409 880,407.9 L850,407.9 Q847.6,407.9 847.6,405.5 L847.6,378.3 Q847.6,375.9 850,375.9 Z" fill="none" stroke="#111" stroke-width="1.2"/><circle cx="849.5" cy="390" r="1.7" fill="none" stroke="#111" stroke-width="1.6"/><circle cx="849.8" cy="390" r="0.8" fill="#111"/><circle cx="917" cy="388" r="1.7" fill="none" stroke="#111" stroke-width="1.6"/><circle cx="917.3" cy="388" r="0.8" fill="#111"/><rect x="843" y="383" width="3.5" height="16" rx="0" fill="none" stroke="#111" stroke-width="0.8"/><rect x="923.2" y="378.8" width="2.4" height="5.8" rx="0" fill="#111" stroke="#111" stroke-width="0"/><circle cx="932.7" cy="381.7" r="2.2" fill="none" stroke="#111" stroke-width="1.6"/><circle cx="933" cy="381.7" r="0.8" fill="#111"/><circle cx="931.2" cy="398.4" r="6.1" fill="none" stroke="#111" stroke-width="1.6"/><circle cx="931.2" cy="398.4" r="3.4" fill="none" stroke="#111" stroke-width="1"/><line x1="923.5" y1="394" x2="923.5" y2="402" stroke="#111" stroke-width="1"/><path d="M831.6,419.8 L844,419.8 L847,416 L854,416" fill="none" stroke="#111" stroke-width="2"/><path d="M928,416 L935,416 L938,419.8 L952.3,419.8" fill="none" stroke="#111" stroke-width="2"/></g><line x1="533.3" y1="171.1" x2="760" y2="171.1" stroke="#111" stroke-width="1.3"/><ellipse cx="536" cy="171.1" rx="2.08" ry="1.6" fill="#111"/><ellipse cx="757.5" cy="171.1" rx="2.08" ry="1.6" fill="#111"/><line x1="545.6" y1="188" x2="760" y2="188" stroke="#111" stroke-width="1.3"/><ellipse cx="548.5" cy="188" rx="2.08" ry="1.6" fill="#111"/><ellipse cx="757.5" cy="188" rx="2.08" ry="1.6" fill="#111"/><line x1="533.3" y1="168" x2="533.3" y2="242" stroke="#111" stroke-width="1.3"/><line x1="545.6" y1="185" x2="545.6" y2="204" stroke="#111" stroke-width="1.3"/><line x1="760" y1="168" x2="760" y2="206" stroke="#111" stroke-width="1.3"/><text x="627" y="169.8" text-anchor="start" font-size="15.2" fill="#111" >282.4</text><text x="639" y="186.6" text-anchor="start" font-size="15.2" fill="#111" >268</text><line x1="840.8" y1="187.6" x2="942.6" y2="187.6" stroke="#111" stroke-width="1.3"/><ellipse cx="844" cy="187.6" rx="2.08" ry="1.6" fill="#111"/><ellipse cx="939.5" cy="187.6" rx="2.08" ry="1.6" fill="#111"/><line x1="840.8" y1="184" x2="840.8" y2="205" stroke="#111" stroke-width="1.3"/><line x1="942.6" y1="184" x2="942.6" y2="205" stroke="#111" stroke-width="1.3"/><text x="891" y="186" text-anchor="middle" font-size="15.2" fill="#111" >127</text><line x1="942.6" y1="205.4" x2="980" y2="205.4" stroke="#111" stroke-width="1.3"/><line x1="942.6" y1="415.9" x2="963" y2="415.9" stroke="#111" stroke-width="1.3"/><line x1="942.6" y1="420.9" x2="980" y2="420.9" stroke="#111" stroke-width="1.3"/><line x1="959.6" y1="205.4" x2="959.6" y2="415.9" stroke="#111" stroke-width="1.3"/><ellipse cx="959.6" cy="208.5" rx="1.6" ry="2.08" fill="#111"/><ellipse cx="959.6" cy="412.8" rx="1.6" ry="2.08" fill="#111"/><line x1="974.8" y1="205.4" x2="974.8" y2="420.9" stroke="#111" stroke-width="1.3"/><ellipse cx="974.8" cy="208.5" rx="1.6" ry="2.08" fill="#111"/><ellipse cx="974.8" cy="418" rx="1.6" ry="2.08" fill="#111"/><text transform="translate(951.4,309.4) rotate(-90)" text-anchor="middle" dominant-baseline="central" font-size="15.2" fill="#111">266</text><text transform="translate(967.4,311.2) rotate(-90)" text-anchor="middle" dominant-baseline="central" font-size="15.2" fill="#111">270.3</text><text x="496" y="458.3" text-anchor="start" font-size="15.2" fill="#111" >R3.3</text><line x1="495" y1="459.6" x2="530" y2="459.6" stroke="#111" stroke-width="1.3"/><text x="496" y="473.8" text-anchor="start" font-size="15.2" fill="#111" >R1.8</text><line x1="495" y1="475.2" x2="530" y2="475.2" stroke="#111" stroke-width="1.3"/><line x1="530" y1="459.6" x2="556" y2="494" stroke="#111" stroke-width="1"/><line x1="530" y1="475.2" x2="558" y2="496" stroke="#111" stroke-width="1"/><text x="573.4" y="458.3" text-anchor="start" font-size="15.2" fill="#111" >12</text><line x1="545.4" y1="459.4" x2="591" y2="459.4" stroke="#111" stroke-width="1.3"/><ellipse cx="552.5" cy="459.4" rx="1.69" ry="1.3" fill="#111"/><ellipse cx="567" cy="459.4" rx="1.69" ry="1.3" fill="#111"/><line x1="554.9" y1="459.4" x2="554.9" y2="494" stroke="#111" stroke-width="1.3"/><line x1="564.4" y1="459.4" x2="564.4" y2="494" stroke="#111" stroke-width="1.3"/><line x1="560.6" y1="475.3" x2="781" y2="475.3" stroke="#111" stroke-width="1.3"/><ellipse cx="563.5" cy="475.3" rx="1.69" ry="1.3" fill="#111"/><ellipse cx="649.5" cy="475.3" rx="1.69" ry="1.3" fill="#111"/><ellipse cx="655" cy="475.3" rx="1.69" ry="1.3" fill="#111"/><ellipse cx="741.8" cy="475.3" rx="1.69" ry="1.3" fill="#111"/><ellipse cx="747.3" cy="475.3" rx="1.69" ry="1.3" fill="#111"/><ellipse cx="757.7" cy="475.3" rx="1.69" ry="1.3" fill="#111"/><line x1="560.6" y1="475.3" x2="560.6" y2="494" stroke="#111" stroke-width="1.3"/><line x1="652.2" y1="475.3" x2="652.2" y2="496" stroke="#111" stroke-width="1.3"/><line x1="744.6" y1="475.3" x2="744.6" y2="496" stroke="#111" stroke-width="1.3"/><line x1="760.4" y1="475.3" x2="760.4" y2="602" stroke="#111" stroke-width="1.3"/><text x="592.3" y="473.4" text-anchor="start" font-size="15.2" fill="#111" >115</text><text x="683.5" y="473.4" text-anchor="start" font-size="15.2" fill="#111" >115</text><text x="764.4" y="473.4" text-anchor="start" font-size="15.2" fill="#111" >19</text><line x1="758.6" y1="491.3" x2="793.5" y2="491.3" stroke="#111" stroke-width="1.3"/><line x1="758.6" y1="612.5" x2="793.5" y2="612.5" stroke="#111" stroke-width="1.3"/><line x1="747" y1="495.3" x2="777" y2="495.3" stroke="#111" stroke-width="1.3"/><line x1="747" y1="607.6" x2="777" y2="607.6" stroke="#111" stroke-width="1.3"/><line x1="775.7" y1="495.3" x2="775.7" y2="607.6" stroke="#111" stroke-width="1.3"/><ellipse cx="775.7" cy="498.5" rx="1.6" ry="2.08" fill="#111"/><ellipse cx="775.7" cy="604.5" rx="1.6" ry="2.08" fill="#111"/><line x1="792.3" y1="491.3" x2="792.3" y2="612.5" stroke="#111" stroke-width="1.3"/><ellipse cx="792.3" cy="494.5" rx="1.6" ry="2.08" fill="#111"/><ellipse cx="792.3" cy="609.3" rx="1.6" ry="2.08" fill="#111"/><text transform="translate(767.8,553.3) rotate(-90)" text-anchor="middle" dominant-baseline="central" font-size="15.2" fill="#111">140</text><text transform="translate(784.3,555.2) rotate(-90)" text-anchor="middle" dominant-baseline="central" font-size="15.2" fill="#111">150</text><g transform="matrix(1.064,0,0,1.055,-32,681.5)"><use href="#topA"/><use href="#side"/><use href="#front"/><use href="#back"/><use href="#topB"/></g><polyline points="408,1009 408,1161.5" fill="none" stroke="#c6a96c" stroke-width="1.5"/><circle cx="408" cy="1009" r="5.6" fill="#ff8000"/><text x="408" y="1173.5" text-anchor="middle" font-size="12.7" fill="#222" >SYS FAN</text><polyline points="883.6,858 883.6,921.4" fill="none" stroke="#c6a96c" stroke-width="1.5"/><circle cx="883.6" cy="921.4" r="5.9" fill="#ff8000"/><text x="813" y="854.8" text-anchor="start" font-size="12.7" fill="#222" >Motherboard IO interface</text><text x="888.6" y="868.9" text-anchor="start" font-size="12.7" fill="#222" >PCIe/PCI expansion slots</text><polyline points="959.6,875 959.6,1066.3" fill="none" stroke="#c6a96c" stroke-width="1.5"/><rect x="912.4" y="930.4" width="47.2" height="135.9" fill="none" stroke="#c6a96c" stroke-width="1.4"/><circle cx="959.6" cy="930.4" r="5.9" fill="#ff8000"/><rect x="877.3" y="1043.8" width="33" height="26.7" fill="none" stroke="#c6a96c" stroke-width="1.4"/><polyline points="877.3,1070.5 877.3,1160.8" fill="none" stroke="#c6a96c" stroke-width="1.5"/><circle cx="877.3" cy="1070.5" r="5.9" fill="#ff8000"/><text x="876.7" y="1173.4" text-anchor="middle" font-size="12.7" fill="#222" >COM</text><polyline points="907.5,1090.4 907.5,1144" fill="none" stroke="#c6a96c" stroke-width="1.5"/><circle cx="907.5" cy="1090.4" r="5.9" fill="#ff8000"/><text x="906" y="1155.5" text-anchor="middle" font-size="12.7" fill="#222" >Power</text><polyline points="959,1084 1023,1084 1023,1144" fill="none" stroke="#c6a96c" stroke-width="1.5"/><circle cx="959" cy="1084" r="5.9" fill="#ff8000"/><text x="995.3" y="1155.5" text-anchor="start" font-size="12.7" fill="#222" >HDD LED</text><polyline points="959,1101 959,1160.8" fill="none" stroke="#c6a96c" stroke-width="1.5"/><circle cx="959" cy="1101" r="6.6" fill="#ff8000"/><text x="901.9" y="1173.4" text-anchor="start" font-size="12.7" fill="#222" >Power-LED/ON/OFF</text><path d="M372.5,1487 L976.4,1487 Q988.4,1487 988.4,1499 L988.4,2100.8 Q988.4,2112.8 976.4,2112.8 L372.5,2112.8 Q360.5,2112.8 360.5,2100.8 L360.5,1499 Q360.5,1487 372.5,1487 Z" fill="none" stroke="#a3868c" stroke-width="1.2"/><circle cx="383.8" cy="1504" r="18.2" fill="none" stroke="#111" stroke-width="1.1"/><circle cx="383.8" cy="1504" r="16.2" fill="none" stroke="#111" stroke-width="0.9"/><polygon points="390.45,1506.76 386.56,1510.65 381.04,1510.65 377.15,1506.76 377.15,1501.24 381.04,1497.35 386.56,1497.35 390.45,1501.24" fill="none" stroke="#1f8c7c" stroke-width="1.1"/><path d="M391.65,1507.25L395.35,1508.78M387.05,1511.85L388.58,1515.55M380.55,1511.85L379.02,1515.55M375.95,1507.25L372.25,1508.78M375.95,1500.75L372.25,1499.22M380.55,1496.15L379.02,1492.45M387.05,1496.15L388.58,1492.45M391.65,1500.75L395.35,1499.22" stroke="#1f8c7c" stroke-width="2.2"/><circle cx="966.5" cy="1504.2" r="18.2" fill="none" stroke="#111" stroke-width="1.1"/><circle cx="966.5" cy="1504.2" r="16.2" fill="none" stroke="#111" stroke-width="0.9"/><polygon points="973.15,1506.96 969.26,1510.85 963.74,1510.85 959.85,1506.96 959.85,1501.44 963.74,1497.55 969.26,1497.55 973.15,1501.44" fill="none" stroke="#1f8c7c" stroke-width="1.1"/><path d="M974.35,1507.45L978.05,1508.98M969.75,1512.05L971.28,1515.75M963.25,1512.05L961.72,1515.75M958.65,1507.45L954.95,1508.98M958.65,1500.95L954.95,1499.42M963.25,1496.35L961.72,1492.65M969.75,1496.35L971.28,1492.65M974.35,1500.95L978.05,1499.42" stroke="#1f8c7c" stroke-width="2.2"/><circle cx="384" cy="1988.5" r="18.2" fill="none" stroke="#111" stroke-width="1.1"/><circle cx="384" cy="1988.5" r="16.2" fill="none" stroke="#111" stroke-width="0.9"/><polygon points="390.65,1991.26 386.76,1995.15 381.24,1995.15 377.35,1991.26 377.35,1985.74 381.24,1981.85 386.76,1981.85 390.65,1985.74" fill="none" stroke="#1f8c7c" stroke-width="1.1"/><path d="M391.85,1991.75L395.55,1993.28M387.25,1996.35L388.78,2000.05M380.75,1996.35L379.22,2000.05M376.15,1991.75L372.45,1993.28M376.15,1985.25L372.45,1983.72M380.75,1980.65L379.22,1976.95M387.25,1980.65L388.78,1976.95M391.85,1985.25L395.55,1983.72" stroke="#1f8c7c" stroke-width="2.2"/><circle cx="966" cy="2075" r="18.2" fill="none" stroke="#111" stroke-width="1.1"/><circle cx="966" cy="2075" r="16.2" fill="none" stroke="#111" stroke-width="0.9"/><polygon points="972.65,2077.76 968.76,2081.65 963.24,2081.65 959.35,2077.76 959.35,2072.24 963.24,2068.35 968.76,2068.35 972.65,2072.24" fill="none" stroke="#1f8c7c" stroke-width="1.1"/><path d="M973.85,2078.25L977.55,2079.78M969.25,2082.85L970.78,2086.55M962.75,2082.85L961.22,2086.55M958.15,2078.25L954.45,2079.78M958.15,2071.75L954.45,2070.22M962.75,2067.15L961.22,2063.45M969.25,2067.15L970.78,2063.45M973.85,2071.75L977.55,2070.22" stroke="#1f8c7c" stroke-width="2.2"/><path d="M449.7,1493.8 L416.9,1493.8 L416.9,1522.2 L449.7,1522.2" fill="none" stroke="#111" stroke-width="1.6"/><path d="M530.4,1522.2 L539.2,1522.2 M530.4,1493.8 L539.2,1493.8 M685,1493.8 L716,1493.8 L716,1522.2 L685,1522.2" fill="none" stroke="#111" stroke-width="1.6"/><rect x="449.7" y="1490.6" width="80.7" height="9.2" fill="#10996e"/><path d="M451.7,1491.6V1498.8M458.3,1491.6V1498.8M464.9,1491.6V1498.8M471.5,1491.6V1498.8M478.1,1491.6V1498.8M484.7,1491.6V1498.8M491.3,1491.6V1498.8M497.9,1491.6V1498.8M504.5,1491.6V1498.8M511.1,1491.6V1498.8M517.7,1491.6V1498.8M524.3,1491.6V1498.8" stroke="#d8f8ea" stroke-width="1"/><rect x="539.2" y="1490.6" width="145.8" height="9.2" fill="#10996e"/><path d="M541.2,1491.6V1498.8M547.8,1491.6V1498.8M554.4,1491.6V1498.8M561,1491.6V1498.8M567.6,1491.6V1498.8M574.2,1491.6V1498.8M580.8,1491.6V1498.8M587.4,1491.6V1498.8M594,1491.6V1498.8M600.6,1491.6V1498.8M607.2,1491.6V1498.8M613.8,1491.6V1498.8M620.4,1491.6V1498.8M627,1491.6V1498.8M633.6,1491.6V1498.8M640.2,1491.6V1498.8M646.8,1491.6V1498.8M653.4,1491.6V1498.8M660,1491.6V1498.8M666.6,1491.6V1498.8M673.2,1491.6V1498.8M679.8,1491.6V1498.8" stroke="#d8f8ea" stroke-width="1"/><rect x="449.7" y="1513.8" width="80.7" height="8.9" fill="#10996e"/><path d="M451.7,1514.8V1521.7M458.3,1514.8V1521.7M464.9,1514.8V1521.7M471.5,1514.8V1521.7M478.1,1514.8V1521.7M484.7,1514.8V1521.7M491.3,1514.8V1521.7M497.9,1514.8V1521.7M504.5,1514.8V1521.7M511.1,1514.8V1521.7M517.7,1514.8V1521.7M524.3,1514.8V1521.7" stroke="#d8f8ea" stroke-width="1"/><rect x="539.2" y="1513.8" width="145.8" height="8.9" fill="#10996e"/><path d="M541.2,1514.8V1521.7M547.8,1514.8V1521.7M554.4,1514.8V1521.7M561,1514.8V1521.7M567.6,1514.8V1521.7M574.2,1514.8V1521.7M580.8,1514.8V1521.7M587.4,1514.8V1521.7M594,1514.8V1521.7M600.6,1514.8V1521.7M607.2,1514.8V1521.7M613.8,1514.8V1521.7M620.4,1514.8V1521.7M627,1514.8V1521.7M633.6,1514.8V1521.7M640.2,1514.8V1521.7M646.8,1514.8V1521.7M653.4,1514.8V1521.7M660,1514.8V1521.7M666.6,1514.8V1521.7M673.2,1514.8V1521.7M679.8,1514.8V1521.7" stroke="#d8f8ea" stroke-width="1"/><circle cx="425.5" cy="1508" r="2.2" fill="none" stroke="#1f8c7c" stroke-width="0.9"/><circle cx="711" cy="1508" r="2.2" fill="none" stroke="#1f8c7c" stroke-width="0.9"/><circle cx="450" cy="1511.8" r="1.3" fill="none" stroke="#111" stroke-width="0.9"/><path d="M449.7,1533.9 L416.9,1533.9 L416.9,1562.2 L449.7,1562.2" fill="none" stroke="#111" stroke-width="1.6"/><path d="M530.4,1562.2 L539.2,1562.2 M530.4,1533.9 L539.2,1533.9 M685,1533.9 L716,1533.9 L716,1562.2 L685,1562.2" fill="none" stroke="#111" stroke-width="1.6"/><rect x="449.7" y="1531.4" width="80.7" height="9.2" fill="#10996e"/><path d="M451.7,1532.4V1539.6M458.3,1532.4V1539.6M464.9,1532.4V1539.6M471.5,1532.4V1539.6M478.1,1532.4V1539.6M484.7,1532.4V1539.6M491.3,1532.4V1539.6M497.9,1532.4V1539.6M504.5,1532.4V1539.6M511.1,1532.4V1539.6M517.7,1532.4V1539.6M524.3,1532.4V1539.6" stroke="#d8f8ea" stroke-width="1"/><rect x="539.2" y="1531.4" width="145.8" height="9.2" fill="#10996e"/><path d="M541.2,1532.4V1539.6M547.8,1532.4V1539.6M554.4,1532.4V1539.6M561,1532.4V1539.6M567.6,1532.4V1539.6M574.2,1532.4V1539.6M580.8,1532.4V1539.6M587.4,1532.4V1539.6M594,1532.4V1539.6M600.6,1532.4V1539.6M607.2,1532.4V1539.6M613.8,1532.4V1539.6M620.4,1532.4V1539.6M627,1532.4V1539.6M633.6,1532.4V1539.6M640.2,1532.4V1539.6M646.8,1532.4V1539.6M653.4,1532.4V1539.6M660,1532.4V1539.6M666.6,1532.4V1539.6M673.2,1532.4V1539.6M679.8,1532.4V1539.6" stroke="#d8f8ea" stroke-width="1"/><rect x="449.7" y="1553.9" width="80.7" height="9.3" fill="#10996e"/><path d="M451.7,1554.9V1562.2M458.3,1554.9V1562.2M464.9,1554.9V1562.2M471.5,1554.9V1562.2M478.1,1554.9V1562.2M484.7,1554.9V1562.2M491.3,1554.9V1562.2M497.9,1554.9V1562.2M504.5,1554.9V1562.2M511.1,1554.9V1562.2M517.7,1554.9V1562.2M524.3,1554.9V1562.2" stroke="#d8f8ea" stroke-width="1"/><rect x="539.2" y="1553.9" width="145.8" height="9.3" fill="#10996e"/><path d="M541.2,1554.9V1562.2M547.8,1554.9V1562.2M554.4,1554.9V1562.2M561,1554.9V1562.2M567.6,1554.9V1562.2M574.2,1554.9V1562.2M580.8,1554.9V1562.2M587.4,1554.9V1562.2M594,1554.9V1562.2M600.6,1554.9V1562.2M607.2,1554.9V1562.2M613.8,1554.9V1562.2M620.4,1554.9V1562.2M627,1554.9V1562.2M633.6,1554.9V1562.2M640.2,1554.9V1562.2M646.8,1554.9V1562.2M653.4,1554.9V1562.2M660,1554.9V1562.2M666.6,1554.9V1562.2M673.2,1554.9V1562.2M679.8,1554.9V1562.2" stroke="#d8f8ea" stroke-width="1"/><circle cx="425.5" cy="1548.05" r="2.2" fill="none" stroke="#1f8c7c" stroke-width="0.9"/><circle cx="711" cy="1548.05" r="2.2" fill="none" stroke="#1f8c7c" stroke-width="0.9"/><circle cx="450" cy="1551.9" r="1.3" fill="none" stroke="#111" stroke-width="0.9"/><rect x="418" y="1488.5" width="16" height="2.5" fill="#1b9be3" opacity="0.85"/><rect x="418" y="1529" width="16" height="3.5" fill="#1b9be3" opacity="0.85"/><rect x="363" y="1525.5" width="19.5" height="154.5" rx="0" fill="none" stroke="#111" stroke-width="2"/><circle cx="368.8" cy="1532.6" r="2.1" fill="none" stroke="#1f8c7c" stroke-width="0.9"/><circle cx="376.3" cy="1532.6" r="2.1" fill="none" stroke="#1f8c7c" stroke-width="0.9"/><circle cx="368.8" cy="1539.98" r="2.1" fill="none" stroke="#1f8c7c" stroke-width="0.9"/><circle cx="376.3" cy="1539.98" r="2.1" fill="none" stroke="#1f8c7c" stroke-width="0.9"/><circle cx="368.8" cy="1547.36" r="2.1" fill="none" stroke="#1f8c7c" stroke-width="0.9"/><circle cx="376.3" cy="1547.36" r="2.1" fill="none" stroke="#1f8c7c" stroke-width="0.9"/><circle cx="368.8" cy="1554.74" r="2.1" fill="none" stroke="#1f8c7c" stroke-width="0.9"/><circle cx="376.3" cy="1554.74" r="2.1" fill="none" stroke="#1f8c7c" stroke-width="0.9"/><circle cx="368.8" cy="1562.12" r="2.1" fill="none" stroke="#1f8c7c" stroke-width="0.9"/><circle cx="376.3" cy="1562.12" r="2.1" fill="none" stroke="#1f8c7c" stroke-width="0.9"/><circle cx="368.8" cy="1569.5" r="2.1" fill="none" stroke="#1f8c7c" stroke-width="0.9"/><circle cx="376.3" cy="1569.5" r="2.1" fill="none" stroke="#1f8c7c" stroke-width="0.9"/><circle cx="368.8" cy="1576.88" r="2.1" fill="none" stroke="#1f8c7c" stroke-width="0.9"/><circle cx="376.3" cy="1576.88" r="2.1" fill="none" stroke="#1f8c7c" stroke-width="0.9"/><circle cx="368.8" cy="1584.26" r="2.1" fill="none" stroke="#1f8c7c" stroke-width="0.9"/><circle cx="376.3" cy="1584.26" r="2.1" fill="none" stroke="#1f8c7c" stroke-width="0.9"/><circle cx="368.8" cy="1591.64" r="2.1" fill="none" stroke="#1f8c7c" stroke-width="0.9"/><circle cx="376.3" cy="1591.64" r="2.1" fill="none" stroke="#1f8c7c" stroke-width="0.9"/><circle cx="368.8" cy="1599.02" r="2.1" fill="none" stroke="#1f8c7c" stroke-width="0.9"/><circle cx="376.3" cy="1599.02" r="2.1" fill="none" stroke="#1f8c7c" stroke-width="0.9"/><circle cx="368.8" cy="1606.4" r="2.1" fill="none" stroke="#1f8c7c" stroke-width="0.9"/><circle cx="376.3" cy="1606.4" r="2.1" fill="none" stroke="#1f8c7c" stroke-width="0.9"/><circle cx="368.8" cy="1613.78" r="2.1" fill="none" stroke="#1f8c7c" stroke-width="0.9"/><circle cx="376.3" cy="1613.78" r="2.1" fill="none" stroke="#1f8c7c" stroke-width="0.9"/><circle cx="368.8" cy="1621.16" r="2.1" fill="none" stroke="#1f8c7c" stroke-width="0.9"/><circle cx="376.3" cy="1621.16" r="2.1" fill="none" stroke="#1f8c7c" stroke-width="0.9"/><circle cx="368.8" cy="1628.54" r="2.1" fill="none" stroke="#1f8c7c" stroke-width="0.9"/><circle cx="376.3" cy="1628.54" r="2.1" fill="none" stroke="#1f8c7c" stroke-width="0.9"/><circle cx="368.8" cy="1635.92" r="2.1" fill="none" stroke="#1f8c7c" stroke-width="0.9"/><circle cx="376.3" cy="1635.92" r="2.1" fill="none" stroke="#1f8c7c" stroke-width="0.9"/><circle cx="368.8" cy="1643.3" r="2.1" fill="none" stroke="#1f8c7c" stroke-width="0.9"/><circle cx="376.3" cy="1643.3" r="2.1" fill="none" stroke="#1f8c7c" stroke-width="0.9"/><circle cx="368.8" cy="1650.68" r="2.1" fill="none" stroke="#1f8c7c" stroke-width="0.9"/><circle cx="376.3" cy="1650.68" r="2.1" fill="none" stroke="#1f8c7c" stroke-width="0.9"/><circle cx="368.8" cy="1658.06" r="2.1" fill="none" stroke="#1f8c7c" stroke-width="0.9"/><circle cx="376.3" cy="1658.06" r="2.1" fill="none" stroke="#1f8c7c" stroke-width="0.9"/><circle cx="368.8" cy="1665.44" r="2.1" fill="none" stroke="#1f8c7c" stroke-width="0.9"/><circle cx="376.3" cy="1665.44" r="2.1" fill="none" stroke="#1f8c7c" stroke-width="0.9"/><circle cx="368.8" cy="1672.82" r="2.1" fill="none" stroke="#1f8c7c" stroke-width="0.9"/><circle cx="376.3" cy="1672.82" r="2.1" fill="none" stroke="#1f8c7c" stroke-width="0.9"/><rect x="389.6" y="1523" width="19.2" height="47.2" rx="0" fill="none" stroke="#111" stroke-width="1.4"/><circle cx="394.9" cy="1527" r="2.2" fill="none" stroke="#1f8c7c" stroke-width="0.9"/><circle cx="404.3" cy="1527" r="2.2" fill="none" stroke="#1f8c7c" stroke-width="0.9"/><circle cx="394.9" cy="1534.5" r="2.2" fill="none" stroke="#1f8c7c" stroke-width="0.9"/><circle cx="404.3" cy="1534.5" r="2.2" fill="none" stroke="#1f8c7c" stroke-width="0.9"/><circle cx="394.9" cy="1542" r="2.2" fill="none" stroke="#1f8c7c" stroke-width="0.9"/><circle cx="404.3" cy="1542" r="2.2" fill="none" stroke="#1f8c7c" stroke-width="0.9"/><circle cx="394.9" cy="1549.5" r="2.2" fill="none" stroke="#1f8c7c" stroke-width="0.9"/><circle cx="404.3" cy="1549.5" r="2.2" fill="none" stroke="#1f8c7c" stroke-width="0.9"/><circle cx="394.9" cy="1557" r="2.2" fill="none" stroke="#1f8c7c" stroke-width="0.9"/><circle cx="404.3" cy="1557" r="2.2" fill="none" stroke="#1f8c7c" stroke-width="0.9"/><circle cx="394.9" cy="1564.5" r="2.2" fill="none" stroke="#1f8c7c" stroke-width="0.9"/><circle cx="404.3" cy="1564.5" r="2.2" fill="none" stroke="#1f8c7c" stroke-width="0.9"/><rect x="411.5" y="1540" width="2.6" height="14" fill="#1b9be3" opacity="0.85"/><rect x="383.8" y="1555" width="2.6" height="18" fill="#1b9be3" opacity="0.85"/><rect x="389.6" y="1602" width="22.4" height="94" rx="0" fill="none" stroke="#111" stroke-width="1.4"/><rect x="392" y="1604" width="8" height="8" rx="0" fill="none" stroke="#1f8c7c" stroke-width="0.8"/><rect x="386.5" y="1609" width="3.1" height="2.3" rx="0" fill="none" stroke="#1f8c7c" stroke-width="0.7"/><rect x="412" y="1609" width="3" height="2.3" rx="0" fill="none" stroke="#1f8c7c" stroke-width="0.7"/><rect x="386.5" y="1612.5" width="3.1" height="2.3" rx="0" fill="none" stroke="#1f8c7c" stroke-width="0.7"/><rect x="412" y="1612.5" width="3" height="2.3" rx="0" fill="none" stroke="#1f8c7c" stroke-width="0.7"/><rect x="386.5" y="1616" width="3.1" height="2.3" rx="0" fill="none" stroke="#1f8c7c" stroke-width="0.7"/><rect x="412" y="1616" width="3" height="2.3" rx="0" fill="none" stroke="#1f8c7c" stroke-width="0.7"/><rect x="386.5" y="1619.5" width="3.1" height="2.3" rx="0" fill="none" stroke="#1f8c7c" stroke-width="0.7"/><rect x="412" y="1619.5" width="3" height="2.3" rx="0" fill="none" stroke="#1f8c7c" stroke-width="0.7"/><rect x="386.5" y="1623" width="3.1" height="2.3" rx="0" fill="none" stroke="#1f8c7c" stroke-width="0.7"/><rect x="412" y="1623" width="3" height="2.3" rx="0" fill="none" stroke="#1f8c7c" stroke-width="0.7"/><rect x="386.5" y="1626.5" width="3.1" height="2.3" rx="0" fill="none" stroke="#1f8c7c" stroke-width="0.7"/><rect x="412" y="1626.5" width="3" height="2.3" rx="0" fill="none" stroke="#1f8c7c" stroke-width="0.7"/><rect x="386.5" y="1630" width="3.1" height="2.3" rx="0" fill="none" stroke="#1f8c7c" stroke-width="0.7"/><rect x="412" y="1630" width="3" height="2.3" rx="0" fill="none" stroke="#1f8c7c" stroke-width="0.7"/><rect x="386.5" y="1633.5" width="3.1" height="2.3" rx="0" fill="none" stroke="#1f8c7c" stroke-width="0.7"/><rect x="412" y="1633.5" width="3" height="2.3" rx="0" fill="none" stroke="#1f8c7c" stroke-width="0.7"/><rect x="386.5" y="1637" width="3.1" height="2.3" rx="0" fill="none" stroke="#1f8c7c" stroke-width="0.7"/><rect x="412" y="1637" width="3" height="2.3" rx="0" fill="none" stroke="#1f8c7c" stroke-width="0.7"/><rect x="386.5" y="1640.5" width="3.1" height="2.3" rx="0" fill="none" stroke="#1f8c7c" stroke-width="0.7"/><rect x="412" y="1640.5" width="3" height="2.3" rx="0" fill="none" stroke="#1f8c7c" stroke-width="0.7"/><rect x="386.5" y="1644" width="3.1" height="2.3" rx="0" fill="none" stroke="#1f8c7c" stroke-width="0.7"/><rect x="412" y="1644" width="3" height="2.3" rx="0" fill="none" stroke="#1f8c7c" stroke-width="0.7"/><rect x="386.5" y="1647.5" width="3.1" height="2.3" rx="0" fill="none" stroke="#1f8c7c" stroke-width="0.7"/><rect x="412" y="1647.5" width="3" height="2.3" rx="0" fill="none" stroke="#1f8c7c" stroke-width="0.7"/><rect x="386.5" y="1651" width="3.1" height="2.3" rx="0" fill="none" stroke="#1f8c7c" stroke-width="0.7"/><rect x="412" y="1651" width="3" height="2.3" rx="0" fill="none" stroke="#1f8c7c" stroke-width="0.7"/><rect x="386.5" y="1654.5" width="3.1" height="2.3" rx="0" fill="none" stroke="#1f8c7c" stroke-width="0.7"/><rect x="412" y="1654.5" width="3" height="2.3" rx="0" fill="none" stroke="#1f8c7c" stroke-width="0.7"/><rect x="386.5" y="1658" width="3.1" height="2.3" rx="0" fill="none" stroke="#1f8c7c" stroke-width="0.7"/><rect x="412" y="1658" width="3" height="2.3" rx="0" fill="none" stroke="#1f8c7c" stroke-width="0.7"/><rect x="386.5" y="1661.5" width="3.1" height="2.3" rx="0" fill="none" stroke="#1f8c7c" stroke-width="0.7"/><rect x="412" y="1661.5" width="3" height="2.3" rx="0" fill="none" stroke="#1f8c7c" stroke-width="0.7"/><rect x="386.5" y="1665" width="3.1" height="2.3" rx="0" fill="none" stroke="#1f8c7c" stroke-width="0.7"/><rect x="412" y="1665" width="3" height="2.3" rx="0" fill="none" stroke="#1f8c7c" stroke-width="0.7"/><rect x="386.5" y="1668.5" width="3.1" height="2.3" rx="0" fill="none" stroke="#1f8c7c" stroke-width="0.7"/><rect x="412" y="1668.5" width="3" height="2.3" rx="0" fill="none" stroke="#1f8c7c" stroke-width="0.7"/><rect x="386.5" y="1672" width="3.1" height="2.3" rx="0" fill="none" stroke="#1f8c7c" stroke-width="0.7"/><rect x="412" y="1672" width="3" height="2.3" rx="0" fill="none" stroke="#1f8c7c" stroke-width="0.7"/><rect x="386.5" y="1675.5" width="3.1" height="2.3" rx="0" fill="none" stroke="#1f8c7c" stroke-width="0.7"/><rect x="412" y="1675.5" width="3" height="2.3" rx="0" fill="none" stroke="#1f8c7c" stroke-width="0.7"/><rect x="386.5" y="1679" width="3.1" height="2.3" rx="0" fill="none" stroke="#1f8c7c" stroke-width="0.7"/><rect x="412" y="1679" width="3" height="2.3" rx="0" fill="none" stroke="#1f8c7c" stroke-width="0.7"/><rect x="386.5" y="1682.5" width="3.1" height="2.3" rx="0" fill="none" stroke="#1f8c7c" stroke-width="0.7"/><rect x="412" y="1682.5" width="3" height="2.3" rx="0" fill="none" stroke="#1f8c7c" stroke-width="0.7"/><rect x="386.5" y="1686" width="3.1" height="2.3" rx="0" fill="none" stroke="#1f8c7c" stroke-width="0.7"/><rect x="412" y="1686" width="3" height="2.3" rx="0" fill="none" stroke="#1f8c7c" stroke-width="0.7"/><rect x="386.5" y="1689.5" width="3.1" height="2.3" rx="0" fill="none" stroke="#1f8c7c" stroke-width="0.7"/><rect x="412" y="1689.5" width="3" height="2.3" rx="0" fill="none" stroke="#1f8c7c" stroke-width="0.7"/><rect x="396" y="1687" width="8" height="7" rx="0" fill="none" stroke="#1f8c7c" stroke-width="0.8"/><rect x="362.1" y="1699.2" width="27.2" height="39.3" rx="0" fill="none" stroke="#111" stroke-width="1.5"/><rect x="362.1" y="1741.4" width="27.2" height="38.7" rx="0" fill="none" stroke="#111" stroke-width="1.5"/><circle cx="376.2" cy="1705" r="2.2" fill="none" stroke="#1f8c7c" stroke-width="0.9"/><circle cx="376.2" cy="1714.2" r="2.2" fill="none" stroke="#1f8c7c" stroke-width="0.9"/><circle cx="376.2" cy="1723.8" r="2.2" fill="none" stroke="#1f8c7c" stroke-width="0.9"/><circle cx="376.2" cy="1746.4" r="2.2" fill="none" stroke="#1f8c7c" stroke-width="0.9"/><circle cx="376.2" cy="1755.8" r="2.2" fill="none" stroke="#1f8c7c" stroke-width="0.9"/><circle cx="376.2" cy="1765" r="2.2" fill="none" stroke="#1f8c7c" stroke-width="0.9"/><rect x="374" y="1730.3" width="4.4" height="4.4" rx="0" fill="none" stroke="#1f8c7c" stroke-width="0.9"/><rect x="374" y="1772.3" width="4.4" height="4.4" rx="0" fill="none" stroke="#1f8c7c" stroke-width="0.9"/><rect x="383.4" y="1711" width="4.6" height="15" rx="0" fill="none" stroke="#111" stroke-width="1.2"/><rect x="383.4" y="1753" width="4.6" height="15" rx="0" fill="none" stroke="#111" stroke-width="1.2"/><rect x="389.5" y="1699" width="2.5" height="25" fill="#1b9be3" opacity="0.85"/><rect x="363" y="1786" width="3.2" height="24" fill="#1b9be3" opacity="0.85"/><rect x="367.4" y="1829.4" width="41.7" height="68" rx="0" fill="none" stroke="#111" stroke-width="1.6"/><rect x="362.6" y="1839.8" width="4.8" height="47" rx="0" fill="none" stroke="#111" stroke-width="1.2"/><circle cx="377.3" cy="1855.5" r="3.5" fill="none" stroke="#1f8c7c" stroke-width="0.9"/><circle cx="397.3" cy="1855.5" r="3.5" fill="none" stroke="#1f8c7c" stroke-width="0.9"/><circle cx="377.3" cy="1871" r="3.5" fill="none" stroke="#1f8c7c" stroke-width="0.9"/><circle cx="397.3" cy="1871" r="3.5" fill="none" stroke="#1f8c7c" stroke-width="0.9"/><circle cx="377.3" cy="1886.5" r="3.5" fill="none" stroke="#1f8c7c" stroke-width="0.9"/><circle cx="397.3" cy="1886.5" r="3.5" fill="none" stroke="#1f8c7c" stroke-width="0.9"/><circle cx="377.3" cy="1840" r="3.5" fill="none" stroke="#1f8c7c" stroke-width="0.9"/><rect x="393.8" y="1836.5" width="7" height="7" rx="0" fill="none" stroke="#1f8c7c" stroke-width="0.9"/><path d="M392,1822.5 L402,1822.5 L397,1829.4 Z" fill="none" stroke="#111" stroke-width="0.9"/><rect x="373" y="1899" width="12" height="2.5" fill="#1b9be3" opacity="0.85"/><rect x="422.7" y="1724.9" width="20.3" height="11.6" rx="0" fill="none" stroke="#111" stroke-width="1.3"/><rect x="424.5" y="1726" width="7" height="9" rx="0" fill="none" stroke="#1f8c7c" stroke-width="0.8"/><circle cx="437" cy="1730.5" r="2.8" fill="none" stroke="#1f8c7c" stroke-width="0.8"/><rect x="422.7" y="1740.4" width="30" height="8.7" rx="0" fill="none" stroke="#111" stroke-width="1.3"/><rect x="424.5" y="1741" width="7" height="7" rx="0" fill="none" stroke="#1f8c7c" stroke-width="0.8"/><circle cx="437.5" cy="1744.7" r="2.8" fill="none" stroke="#1f8c7c" stroke-width="0.8"/><circle cx="446" cy="1744.7" r="2.8" fill="none" stroke="#1f8c7c" stroke-width="0.8"/><rect x="422" y="1719" width="16" height="2.2" fill="#1b9be3" opacity="0.85"/><rect x="427" y="1750.5" width="14" height="2.2" fill="#1b9be3" opacity="0.85"/><rect x="416.3" y="1567.9" width="355.4" height="350.6" rx="0" fill="none" stroke="#222" stroke-width="1.3"/><polyline points="416.3,1596.23 449.38,1567.88 515.55,1632.46" fill="none" stroke="#222" stroke-width="1.1"/><polyline points="416.3,1596.23 454.11,1634.04 454.11,1848.28 416.3,1886.09 449.38,1918.54 520.27,1847.33" fill="none" stroke="#222" stroke-width="1.1"/><polyline points="740.81,1567.88 767.59,1596.23 740.81,1624.59 740.81,1723.83 721.91,1708.08 721.91,1635.61" fill="none" stroke="#222" stroke-width="1.1"/><polyline points="721.91,1777.39 740.81,1764.79 740.81,1859.31 767.59,1886.09 737.66,1918.54 666.77,1846.7" fill="none" stroke="#222" stroke-width="1.1"/><polyline points="496.64,1613.56 515.55,1632.46 630.54,1621.44 630.54,1569.45" fill="none" stroke="#222" stroke-width="1.1"/><polyline points="611.64,1569.45 611.64,1611.98" fill="none" stroke="#222" stroke-width="1.1"/><rect x="458.83" y="1635.61" width="263.07" height="210.46" rx="0" fill="none" stroke="#222" stroke-width="1.1"/><rect x="513.97" y="1838.83" width="207.94" height="7.25" rx="0" fill="none" stroke="#222" stroke-width="1.1"/><rect x="496.64" y="1578.9" width="130.75" height="37.81" rx="0" fill="none" stroke="#111" stroke-width="1.6"/><line x1="498.22" y1="1611.98" x2="611.64" y2="1611.98" stroke="#111" stroke-width="1"/><rect x="614.79" y="1593.08" width="3.78" height="4.1" rx="0" fill="none" stroke="#111" stroke-width="1.2"/><circle cx="455.68" cy="1604.11" r="7.9" fill="none" stroke="#1f8c7c" stroke-width="1"/><circle cx="732.94" cy="1604.11" r="7.9" fill="none" stroke="#1f8c7c" stroke-width="1"/><circle cx="455.68" cy="1881.36" r="7.9" fill="none" stroke="#1f8c7c" stroke-width="1"/><circle cx="732.94" cy="1881.36" r="7.9" fill="none" stroke="#1f8c7c" stroke-width="1"/><circle cx="495.7" cy="1676.57" r="10.8" fill="none" stroke="#111" stroke-width="1.1"/><circle cx="495.7" cy="1676.57" r="7.3" fill="none" stroke="#1f8c7c" stroke-width="1"/><circle cx="495.7" cy="1808.9" r="10.8" fill="none" stroke="#111" stroke-width="1.1"/><circle cx="495.7" cy="1808.9" r="7.3" fill="none" stroke="#1f8c7c" stroke-width="1"/><circle cx="721.91" cy="1742.73" r="12.6" fill="none" stroke="#111" stroke-width="1.1"/><circle cx="721.91" cy="1742.73" r="9.1" fill="none" stroke="#1f8c7c" stroke-width="1"/><rect x="508.3" y="1660.19" width="166.98" height="166.98" rx="0" fill="none" stroke="#111" stroke-width="1.8"/><rect x="513.02" y="1664.91" width="158.48" height="158.16" rx="0" fill="none" stroke="#111" stroke-width="1.5"/><polyline points="671.5,1684.45 682.53,1684.45 687.25,1742.73 682.53,1802.6 671.5,1802.6" fill="none" stroke="#111" stroke-width="1.1"/><path d="M666.77,1826.23 L680.95,1826.23 L674.65,1830.95 Z" fill="none" stroke="#111" stroke-width="0.9"/><path d="M667.72,1818.35 L671.5,1818.35 L671.5,1823.07 Z" fill="#111"/><path d="M553.94,1673.73H580.72V1677.17H553.94ZM595.83,1673.73H621.92V1677.17H595.83ZM520.99,1677.85H621.92V1714.93H520.99ZM630.16,1677.85H663.12V1714.93H630.16ZM520.99,1714.93H547.08V1736.9H520.99ZM527.85,1736.9H547.08V1749.26H527.85ZM520.99,1749.26H547.08V1769.86H520.99ZM636.34,1714.93H663.12V1736.9H636.34ZM636.34,1736.9H655.56V1749.26H636.34ZM636.34,1749.26H663.12V1769.86H636.34ZM520.99,1769.86H552.57V1805.56H520.99ZM562.87,1769.86H663.12V1805.56H562.87ZM562.87,1805.56H588.28V1811.74H562.87ZM603.38,1805.56H629.47V1811.74H603.38ZM639.77,1805.56H653.5V1811.74H639.77Z" fill="url(#pinpat)"/><rect x="554.63" y="1720.42" width="74.16" height="45.32" fill="#151515"/><rect x="558.18" y="1723.97" width="5.91" height="11.7" rx="1.6" fill="#e8f4ef" stroke="#1f8c7c" stroke-width="0.8"/><rect x="559.38" y="1726.17" width="3.51" height="7.5" rx="1" fill="#1f8c7c"/><rect x="565.88" y="1723.97" width="5.91" height="11.7" rx="1.6" fill="#e8f4ef" stroke="#1f8c7c" stroke-width="0.8"/><rect x="567.08" y="1726.17" width="3.51" height="7.5" rx="1" fill="#1f8c7c"/><rect x="573.59" y="1723.97" width="5.91" height="11.7" rx="1.6" fill="#e8f4ef" stroke="#1f8c7c" stroke-width="0.8"/><rect x="574.79" y="1726.17" width="3.51" height="7.5" rx="1" fill="#1f8c7c"/><rect x="581.29" y="1723.97" width="5.91" height="11.7" rx="1.6" fill="#e8f4ef" stroke="#1f8c7c" stroke-width="0.8"/><rect x="582.49" y="1726.17" width="3.51" height="7.5" rx="1" fill="#1f8c7c"/><rect x="589" y="1723.97" width="5.91" height="11.7" rx="1.6" fill="#e8f4ef" stroke="#1f8c7c" stroke-width="0.8"/><rect x="590.2" y="1726.17" width="3.51" height="7.5" rx="1" fill="#1f8c7c"/><rect x="596.7" y="1723.97" width="5.91" height="11.7" rx="1.6" fill="#e8f4ef" stroke="#1f8c7c" stroke-width="0.8"/><rect x="597.9" y="1726.17" width="3.51" height="7.5" rx="1" fill="#1f8c7c"/><rect x="604.41" y="1723.97" width="5.91" height="11.7" rx="1.6" fill="#e8f4ef" stroke="#1f8c7c" stroke-width="0.8"/><rect x="605.61" y="1726.17" width="3.51" height="7.5" rx="1" fill="#1f8c7c"/><rect x="612.12" y="1723.97" width="5.91" height="11.7" rx="1.6" fill="#e8f4ef" stroke="#1f8c7c" stroke-width="0.8"/><rect x="613.32" y="1726.17" width="3.51" height="7.5" rx="1" fill="#1f8c7c"/><rect x="619.82" y="1723.97" width="5.91" height="11.7" rx="1.6" fill="#e8f4ef" stroke="#1f8c7c" stroke-width="0.8"/><rect x="621.02" y="1726.17" width="3.51" height="7.5" rx="1" fill="#1f8c7c"/><rect x="558.18" y="1737.47" width="5.91" height="11.7" rx="1.6" fill="#e8f4ef" stroke="#1f8c7c" stroke-width="0.8"/><rect x="559.38" y="1739.67" width="3.51" height="7.5" rx="1" fill="#1f8c7c"/><rect x="565.88" y="1737.47" width="5.91" height="11.7" rx="1.6" fill="#e8f4ef" stroke="#1f8c7c" stroke-width="0.8"/><rect x="567.08" y="1739.67" width="3.51" height="7.5" rx="1" fill="#1f8c7c"/><rect x="573.59" y="1737.47" width="5.91" height="11.7" rx="1.6" fill="#e8f4ef" stroke="#1f8c7c" stroke-width="0.8"/><rect x="574.79" y="1739.67" width="3.51" height="7.5" rx="1" fill="#1f8c7c"/><rect x="581.29" y="1737.47" width="5.91" height="11.7" rx="1.6" fill="#e8f4ef" stroke="#1f8c7c" stroke-width="0.8"/><rect x="582.49" y="1739.67" width="3.51" height="7.5" rx="1" fill="#1f8c7c"/><rect x="589" y="1737.47" width="5.91" height="11.7" rx="1.6" fill="#e8f4ef" stroke="#1f8c7c" stroke-width="0.8"/><rect x="590.2" y="1739.67" width="3.51" height="7.5" rx="1" fill="#1f8c7c"/><rect x="596.7" y="1737.47" width="5.91" height="11.7" rx="1.6" fill="#e8f4ef" stroke="#1f8c7c" stroke-width="0.8"/><rect x="597.9" y="1739.67" width="3.51" height="7.5" rx="1" fill="#1f8c7c"/><rect x="604.41" y="1737.47" width="5.91" height="11.7" rx="1.6" fill="#e8f4ef" stroke="#1f8c7c" stroke-width="0.8"/><rect x="605.61" y="1739.67" width="3.51" height="7.5" rx="1" fill="#1f8c7c"/><rect x="612.12" y="1737.47" width="5.91" height="11.7" rx="1.6" fill="#e8f4ef" stroke="#1f8c7c" stroke-width="0.8"/><rect x="613.32" y="1739.67" width="3.51" height="7.5" rx="1" fill="#1f8c7c"/><rect x="619.82" y="1737.47" width="5.91" height="11.7" rx="1.6" fill="#e8f4ef" stroke="#1f8c7c" stroke-width="0.8"/><rect x="621.02" y="1739.67" width="3.51" height="7.5" rx="1" fill="#1f8c7c"/><rect x="558.18" y="1750.98" width="5.91" height="11.7" rx="1.6" fill="#e8f4ef" stroke="#1f8c7c" stroke-width="0.8"/><rect x="559.38" y="1753.18" width="3.51" height="7.5" rx="1" fill="#1f8c7c"/><rect x="565.88" y="1750.98" width="5.91" height="11.7" rx="1.6" fill="#e8f4ef" stroke="#1f8c7c" stroke-width="0.8"/><rect x="567.08" y="1753.18" width="3.51" height="7.5" rx="1" fill="#1f8c7c"/><rect x="573.59" y="1750.98" width="5.91" height="11.7" rx="1.6" fill="#e8f4ef" stroke="#1f8c7c" stroke-width="0.8"/><rect x="574.79" y="1753.18" width="3.51" height="7.5" rx="1" fill="#1f8c7c"/><rect x="581.29" y="1750.98" width="5.91" height="11.7" rx="1.6" fill="#e8f4ef" stroke="#1f8c7c" stroke-width="0.8"/><rect x="582.49" y="1753.18" width="3.51" height="7.5" rx="1" fill="#1f8c7c"/><rect x="589" y="1750.98" width="5.91" height="11.7" rx="1.6" fill="#e8f4ef" stroke="#1f8c7c" stroke-width="0.8"/><rect x="590.2" y="1753.18" width="3.51" height="7.5" rx="1" fill="#1f8c7c"/><rect x="596.7" y="1750.98" width="5.91" height="11.7" rx="1.6" fill="#e8f4ef" stroke="#1f8c7c" stroke-width="0.8"/><rect x="597.9" y="1753.18" width="3.51" height="7.5" rx="1" fill="#1f8c7c"/><rect x="604.41" y="1750.98" width="5.91" height="11.7" rx="1.6" fill="#e8f4ef" stroke="#1f8c7c" stroke-width="0.8"/><rect x="605.61" y="1753.18" width="3.51" height="7.5" rx="1" fill="#1f8c7c"/><rect x="612.12" y="1750.98" width="5.91" height="11.7" rx="1.6" fill="#e8f4ef" stroke="#1f8c7c" stroke-width="0.8"/><rect x="613.32" y="1753.18" width="3.51" height="7.5" rx="1" fill="#1f8c7c"/><rect x="619.82" y="1750.98" width="5.91" height="11.7" rx="1.6" fill="#e8f4ef" stroke="#1f8c7c" stroke-width="0.8"/><rect x="621.02" y="1753.18" width="3.51" height="7.5" rx="1" fill="#1f8c7c"/><rect x="681.4" y="1587.3" width="20" height="33" rx="0" fill="#1ee878" stroke="#111" stroke-width="0"/><rect x="704" y="1585.4" width="12.2" height="40" rx="0" fill="#1ee878" stroke="#111" stroke-width="0"/><rect x="717" y="1589" width="3.8" height="20" rx="0" fill="#1ee878" stroke="#111" stroke-width="0"/><rect x="684" y="1590" width="4" height="4" rx="0" fill="#fff" stroke="#111" stroke-width="0"/><rect x="693" y="1592" width="4" height="8" rx="0" fill="#fff" stroke="#111" stroke-width="0"/><rect x="684" y="1606" width="4" height="6" rx="0" fill="#fff" stroke="#111" stroke-width="0"/><rect x="692" y="1612" width="6" height="5" rx="0" fill="#fff" stroke="#111" stroke-width="0"/><rect x="707" y="1594" width="6" height="4" rx="0" fill="#fff" stroke="#111" stroke-width="0"/><rect x="707" y="1606" width="4" height="8" rx="0" fill="#fff" stroke="#111" stroke-width="0"/><rect x="461.98" y="1692.33" width="12.6" height="26.78" rx="0" fill="none" stroke="#2ee07c" stroke-width="1.3"/><rect x="460.41" y="1722.26" width="16.38" height="55.14" rx="0" fill="none" stroke="#2ee07c" stroke-width="1.3"/><rect x="463.56" y="1695.48" width="8.82" height="20.48" rx="0" fill="#5ee89c" stroke="#111" stroke-width="0"/><rect x="464.19" y="1726.98" width="8.82" height="47.26" rx="0" fill="#7eeab0" stroke="#111" stroke-width="0"/><rect x="422.6" y="1717.53" width="16" height="2.6" fill="#1b9be3" opacity="0.85"/><rect x="765.39" y="1572.6" width="3" height="16" fill="#1b9be3" opacity="0.85"/><rect x="721.3" y="1540" width="9.2" height="27.2" rx="0" fill="none" stroke="#111" stroke-width="1.2"/><rect x="722.8" y="1543" width="6.2" height="7" rx="0" fill="none" stroke="#1f8c7c" stroke-width="0.8"/><circle cx="725.9" cy="1556" r="2.3" fill="none" stroke="#1f8c7c" stroke-width="0.8"/><circle cx="725.9" cy="1563" r="2.3" fill="none" stroke="#1f8c7c" stroke-width="0.8"/><rect x="734" y="1540" width="8.5" height="27.2" rx="0" fill="none" stroke="#111" stroke-width="1.2"/><rect x="735.5" y="1543" width="5.5" height="7" rx="0" fill="none" stroke="#1f8c7c" stroke-width="0.8"/><circle cx="738.25" cy="1556" r="2.3" fill="none" stroke="#1f8c7c" stroke-width="0.8"/><circle cx="738.25" cy="1563" r="2.3" fill="none" stroke="#1f8c7c" stroke-width="0.8"/><rect x="747" y="1540" width="9" height="27.2" rx="0" fill="none" stroke="#111" stroke-width="1.2"/><rect x="748.5" y="1543" width="6" height="7" rx="0" fill="none" stroke="#1f8c7c" stroke-width="0.8"/><circle cx="751.5" cy="1556" r="2.3" fill="none" stroke="#1f8c7c" stroke-width="0.8"/><circle cx="751.5" cy="1563" r="2.3" fill="none" stroke="#1f8c7c" stroke-width="0.8"/><rect x="760" y="1540" width="8.5" height="27.2" rx="0" fill="none" stroke="#111" stroke-width="1.2"/><rect x="761.5" y="1543" width="5.5" height="7" rx="0" fill="none" stroke="#1f8c7c" stroke-width="0.8"/><circle cx="764.25" cy="1556" r="2.3" fill="none" stroke="#1f8c7c" stroke-width="0.8"/><circle cx="764.25" cy="1563" r="2.3" fill="none" stroke="#1f8c7c" stroke-width="0.8"/><rect x="727" y="1530" width="58" height="2.6" fill="#1b9be3" opacity="0.85"/><rect x="715" y="1566" width="14" height="2.4" fill="#1b9be3" opacity="0.85"/><rect x="727.1" y="1488.5" width="161.9" height="38" rx="0" fill="none" stroke="#111" stroke-width="1.7"/><rect x="733.5" y="1492.4" width="8.2" height="8.2" fill="none" stroke="#1f8c7c" stroke-width="0.9"/><circle cx="753.2" cy="1496.5" r="4.1" fill="none" stroke="#1f8c7c" stroke-width="0.9"/><circle cx="768.8" cy="1496.5" r="4.1" fill="none" stroke="#1f8c7c" stroke-width="0.9"/><circle cx="784.4" cy="1496.5" r="4.1" fill="none" stroke="#1f8c7c" stroke-width="0.9"/><circle cx="800" cy="1496.5" r="4.1" fill="none" stroke="#1f8c7c" stroke-width="0.9"/><circle cx="815.6" cy="1496.5" r="4.1" fill="none" stroke="#1f8c7c" stroke-width="0.9"/><circle cx="831.2" cy="1496.5" r="4.1" fill="none" stroke="#1f8c7c" stroke-width="0.9"/><circle cx="846.8" cy="1496.5" r="4.1" fill="none" stroke="#1f8c7c" stroke-width="0.9"/><circle cx="862.4" cy="1496.5" r="4.1" fill="none" stroke="#1f8c7c" stroke-width="0.9"/><circle cx="878" cy="1496.5" r="4.1" fill="none" stroke="#1f8c7c" stroke-width="0.9"/><circle cx="737.6" cy="1516.8" r="4.1" fill="none" stroke="#1f8c7c" stroke-width="0.9"/><circle cx="753.2" cy="1516.8" r="4.1" fill="none" stroke="#1f8c7c" stroke-width="0.9"/><circle cx="768.8" cy="1516.8" r="4.1" fill="none" stroke="#1f8c7c" stroke-width="0.9"/><circle cx="784.4" cy="1516.8" r="4.1" fill="none" stroke="#1f8c7c" stroke-width="0.9"/><circle cx="800" cy="1516.8" r="4.1" fill="none" stroke="#1f8c7c" stroke-width="0.9"/><circle cx="815.6" cy="1516.8" r="4.1" fill="none" stroke="#1f8c7c" stroke-width="0.9"/><circle cx="831.2" cy="1516.8" r="4.1" fill="none" stroke="#1f8c7c" stroke-width="0.9"/><circle cx="846.8" cy="1516.8" r="4.1" fill="none" stroke="#1f8c7c" stroke-width="0.9"/><circle cx="862.4" cy="1516.8" r="4.1" fill="none" stroke="#1f8c7c" stroke-width="0.9"/><circle cx="878" cy="1516.8" r="4.1" fill="none" stroke="#1f8c7c" stroke-width="0.9"/><rect x="799.3" y="1526.5" width="18.2" height="14.1" rx="0" fill="none" stroke="#111" stroke-width="1.3"/><rect x="833" y="1530" width="12" height="2.6" fill="#1b9be3" opacity="0.85"/><rect x="898.2" y="1490.2" width="47.8" height="20.8" rx="0" fill="none" stroke="#111" stroke-width="1.6"/><circle cx="903.5" cy="1496.5" r="2.1" fill="none" stroke="#1f8c7c" stroke-width="0.9"/><circle cx="912.7" cy="1496.5" r="2.1" fill="none" stroke="#1f8c7c" stroke-width="0.9"/><circle cx="921.9" cy="1496.5" r="2.1" fill="none" stroke="#1f8c7c" stroke-width="0.9"/><circle cx="931.1" cy="1496.5" r="2.1" fill="none" stroke="#1f8c7c" stroke-width="0.9"/><circle cx="940.3" cy="1496.5" r="2.1" fill="none" stroke="#1f8c7c" stroke-width="0.9"/><circle cx="903.5" cy="1504.6" r="2.1" fill="none" stroke="#1f8c7c" stroke-width="0.9"/><circle cx="912.7" cy="1504.6" r="2.1" fill="none" stroke="#1f8c7c" stroke-width="0.9"/><circle cx="921.9" cy="1504.6" r="2.1" fill="none" stroke="#1f8c7c" stroke-width="0.9"/><circle cx="931.1" cy="1504.6" r="2.1" fill="none" stroke="#1f8c7c" stroke-width="0.9"/><circle cx="940.3" cy="1504.6" r="2.1" fill="none" stroke="#1f8c7c" stroke-width="0.9"/><rect x="890.5" y="1491" width="2.6" height="14" fill="#1b9be3" opacity="0.85"/><rect x="772.7" y="1553.9" width="25.4" height="69.1" rx="0" fill="none" stroke="#111" stroke-width="1.5"/><rect x="772.7" y="1626.6" width="25.4" height="70.3" rx="0" fill="none" stroke="#111" stroke-width="1.5"/><circle cx="786.5" cy="1559.5" r="3.1" fill="none" stroke="#1f8c7c" stroke-width="0.9"/><circle cx="786.5" cy="1566" r="3.1" fill="none" stroke="#1f8c7c" stroke-width="0.9"/><ellipse cx="790.5" cy="1573" rx="2.4" ry="2.0" fill="none" stroke="#1f8c7c" stroke-width="0.9"/><ellipse cx="786" cy="1579.3" rx="2.4" ry="2.0" fill="none" stroke="#1f8c7c" stroke-width="0.9"/><ellipse cx="782" cy="1582.3" rx="1.6" ry="2.0" fill="none" stroke="#1f8c7c" stroke-width="0.8"/><ellipse cx="790.5" cy="1585.6" rx="2.4" ry="2.0" fill="none" stroke="#1f8c7c" stroke-width="0.9"/><ellipse cx="786" cy="1591.9" rx="2.4" ry="2.0" fill="none" stroke="#1f8c7c" stroke-width="0.9"/><ellipse cx="782" cy="1594.9" rx="1.6" ry="2.0" fill="none" stroke="#1f8c7c" stroke-width="0.8"/><ellipse cx="790.5" cy="1598.2" rx="2.4" ry="2.0" fill="none" stroke="#1f8c7c" stroke-width="0.9"/><ellipse cx="786" cy="1604.5" rx="2.4" ry="2.0" fill="none" stroke="#1f8c7c" stroke-width="0.9"/><ellipse cx="782" cy="1607.5" rx="1.6" ry="2.0" fill="none" stroke="#1f8c7c" stroke-width="0.8"/><circle cx="786.5" cy="1611" r="3.3" fill="none" stroke="#1f8c7c" stroke-width="0.9"/><circle cx="786.5" cy="1619.5" r="3.3" fill="none" stroke="#1f8c7c" stroke-width="0.9"/><circle cx="786.5" cy="1632.5" r="3.1" fill="none" stroke="#1f8c7c" stroke-width="0.9"/><circle cx="786.5" cy="1639" r="3.1" fill="none" stroke="#1f8c7c" stroke-width="0.9"/><ellipse cx="790.5" cy="1646" rx="2.4" ry="2.0" fill="none" stroke="#1f8c7c" stroke-width="0.9"/><ellipse cx="786" cy="1652.3" rx="2.4" ry="2.0" fill="none" stroke="#1f8c7c" stroke-width="0.9"/><ellipse cx="782" cy="1655.3" rx="1.6" ry="2.0" fill="none" stroke="#1f8c7c" stroke-width="0.8"/><ellipse cx="790.5" cy="1658.6" rx="2.4" ry="2.0" fill="none" stroke="#1f8c7c" stroke-width="0.9"/><ellipse cx="786" cy="1664.9" rx="2.4" ry="2.0" fill="none" stroke="#1f8c7c" stroke-width="0.9"/><ellipse cx="782" cy="1667.9" rx="1.6" ry="2.0" fill="none" stroke="#1f8c7c" stroke-width="0.8"/><ellipse cx="790.5" cy="1671.2" rx="2.4" ry="2.0" fill="none" stroke="#1f8c7c" stroke-width="0.9"/><ellipse cx="786" cy="1677.5" rx="2.4" ry="2.0" fill="none" stroke="#1f8c7c" stroke-width="0.9"/><ellipse cx="782" cy="1680.5" rx="1.6" ry="2.0" fill="none" stroke="#1f8c7c" stroke-width="0.8"/><circle cx="786.5" cy="1684" r="3.3" fill="none" stroke="#1f8c7c" stroke-width="0.9"/><circle cx="786.5" cy="1692.5" r="3.3" fill="none" stroke="#1f8c7c" stroke-width="0.9"/><rect x="763" y="1572" width="2.6" height="14" fill="#1b9be3" opacity="0.85"/><rect x="802" y="1630" width="2.6" height="14" fill="#1b9be3" opacity="0.85"/><path d="M800,1573 l3,3 l-3,3" fill="none" stroke="#111" stroke-width="0.8"/><rect x="799.3" y="1549" width="111" height="209.7" rx="0" fill="none" stroke="#111" stroke-width="1.3"/><path d="M810.3,1610 L810.3,1567 L820.8,1558.3 L868.4,1558.3 L868.4,1601.2" fill="none" stroke="#111" stroke-width="1.7" stroke-dasharray="3.5,2.2"/><circle cx="810.3" cy="1560.5" r="2.1" fill="none" stroke="#111" stroke-width="1.2"/><path d="M809.5,1612 L820.5,1602.6 L868.4,1602.6 L868.4,1640.5 M809.5,1612 L809.5,1641" fill="none" stroke="#111" stroke-width="1.8"/><path d="M869.6,1641 L809.5,1641 L809.5,1696.5 L817.5,1696.5 L817.5,1683.5 L860.5,1683.5 L860.5,1696.5 L869.6,1696.5" fill="none" stroke="#111" stroke-width="1.8"/><path d="M869.6,1641 L869.6,1696.5 M818,1696.5 L860.5,1696.5" fill="none" stroke="#111" stroke-width="1.6" stroke-dasharray="3.5,2.2"/><rect x="832.9" y="1638" width="3.2" height="6" rx="0" fill="none" stroke="#1f8c7c" stroke-width="0.9"/><rect x="832.9" y="1680.5" width="3.2" height="6" rx="0" fill="none" stroke="#1f8c7c" stroke-width="0.9"/><rect x="841.9" y="1638" width="3.2" height="6" rx="0" fill="none" stroke="#1f8c7c" stroke-width="0.9"/><rect x="841.9" y="1680.5" width="3.2" height="6" rx="0" fill="none" stroke="#1f8c7c" stroke-width="0.9"/><rect x="850.9" y="1638" width="3.2" height="6" rx="0" fill="none" stroke="#1f8c7c" stroke-width="0.9"/><rect x="850.9" y="1680.5" width="3.2" height="6" rx="0" fill="none" stroke="#1f8c7c" stroke-width="0.9"/><rect x="806.8" y="1653.5" width="3" height="5" rx="0" fill="none" stroke="#1f8c7c" stroke-width="0.9"/><rect x="806.8" y="1668.5" width="3" height="5" rx="0" fill="none" stroke="#1f8c7c" stroke-width="0.9"/><rect x="868.1" y="1668.5" width="3" height="5" rx="0" fill="none" stroke="#1f8c7c" stroke-width="0.9"/><circle cx="810.3" cy="1650" r="2" fill="none" stroke="#111" stroke-width="1.2"/><path d="M822.8,1646 V1660 M853.8,1646 V1660" fill="none" stroke="#111" stroke-width="1.6"/><path d="M818.8,1659 L826.8,1659 L822.8,1665 Z M849.8,1659 L857.8,1659 L853.8,1665 Z" fill="#111"/><circle cx="898.7" cy="1560" r="9.7" fill="none" stroke="#111" stroke-width="1.3"/><circle cx="898.7" cy="1560" r="2.2" fill="none" stroke="#111" stroke-width="1"/><rect x="858" y="1700" width="10" height="2.6" fill="#1b9be3" opacity="0.85"/><rect x="798.1" y="1716.3" width="112.2" height="41.1" rx="0" fill="none" stroke="#111" stroke-width="1.3"/><rect x="811.5" y="1718.7" width="23" height="8.5" fill="#10996e"/><path d="M813.5,1719.7V1726.2M816.1,1719.7V1726.2M818.7,1719.7V1726.2M821.3,1719.7V1726.2M823.9,1719.7V1726.2M826.5,1719.7V1726.2M829.1,1719.7V1726.2M831.7,1719.7V1726.2" stroke="#d8f8ea" stroke-width="1"/><rect x="846.6" y="1718.7" width="53.3" height="8.5" fill="#10996e"/><path d="M848.6,1719.7V1726.2M851.2,1719.7V1726.2M853.8,1719.7V1726.2M856.4,1719.7V1726.2M859,1719.7V1726.2M861.6,1719.7V1726.2M864.2,1719.7V1726.2M866.8,1719.7V1726.2M869.4,1719.7V1726.2M872,1719.7V1726.2M874.6,1719.7V1726.2M877.2,1719.7V1726.2M879.8,1719.7V1726.2M882.4,1719.7V1726.2M885,1719.7V1726.2M887.6,1719.7V1726.2M890.2,1719.7V1726.2M892.8,1719.7V1726.2M895.4,1719.7V1726.2M898,1719.7V1726.2" stroke="#d8f8ea" stroke-width="1"/><rect x="810.3" y="1748.5" width="22.9" height="7.1" fill="#10996e"/><path d="M812.3,1749.5V1754.6M814.9,1749.5V1754.6M817.5,1749.5V1754.6M820.1,1749.5V1754.6M822.7,1749.5V1754.6M825.3,1749.5V1754.6M827.9,1749.5V1754.6M830.5,1749.5V1754.6" stroke="#d8f8ea" stroke-width="1"/><rect x="845.4" y="1748.5" width="53.3" height="7.1" fill="#10996e"/><path d="M847.4,1749.5V1754.6M850,1749.5V1754.6M852.6,1749.5V1754.6M855.2,1749.5V1754.6M857.8,1749.5V1754.6M860.4,1749.5V1754.6M863,1749.5V1754.6M865.6,1749.5V1754.6M868.2,1749.5V1754.6M870.8,1749.5V1754.6M873.4,1749.5V1754.6M876,1749.5V1754.6M878.6,1749.5V1754.6M881.2,1749.5V1754.6M883.8,1749.5V1754.6M886.4,1749.5V1754.6M889,1749.5V1754.6M891.6,1749.5V1754.6M894.2,1749.5V1754.6M896.8,1749.5V1754.6" stroke="#d8f8ea" stroke-width="1"/><rect x="797" y="1745" width="8" height="10" rx="0" fill="none" stroke="#1f8c7c" stroke-width="1"/><rect x="906" y="1745" width="7" height="10" rx="0" fill="none" stroke="#1f8c7c" stroke-width="1"/><circle cx="808" cy="1737.5" r="2.5" fill="none" stroke="#111" stroke-width="1"/><circle cx="901" cy="1738" r="2" fill="none" stroke="#111" stroke-width="0.9"/><path d="M808,1761 l3,-4 l3,4 Z" fill="#111"/><rect x="911" y="1728" width="12" height="2.6" fill="#1b9be3" opacity="0.85"/><rect x="915" y="1740" width="2.6" height="14" fill="#1b9be3" opacity="0.85"/><rect x="928" y="1740" width="2.6" height="18" fill="#1b9be3" opacity="0.85"/><rect x="773.9" y="1700.5" width="19.4" height="56.9" rx="0" fill="none" stroke="#111" stroke-width="1.4"/><circle cx="779" cy="1705.5" r="2.2" fill="none" stroke="#1f8c7c" stroke-width="0.9"/><circle cx="788.5" cy="1705.5" r="2.2" fill="none" stroke="#1f8c7c" stroke-width="0.9"/><circle cx="779" cy="1714.8" r="2.2" fill="none" stroke="#1f8c7c" stroke-width="0.9"/><circle cx="788.5" cy="1714.8" r="2.2" fill="none" stroke="#1f8c7c" stroke-width="0.9"/><circle cx="779" cy="1724.1" r="2.2" fill="none" stroke="#1f8c7c" stroke-width="0.9"/><circle cx="788.5" cy="1724.1" r="2.2" fill="none" stroke="#1f8c7c" stroke-width="0.9"/><circle cx="779" cy="1733.4" r="2.2" fill="none" stroke="#1f8c7c" stroke-width="0.9"/><circle cx="788.5" cy="1733.4" r="2.2" fill="none" stroke="#1f8c7c" stroke-width="0.9"/><circle cx="779" cy="1742.7" r="2.2" fill="none" stroke="#1f8c7c" stroke-width="0.9"/><circle cx="788.5" cy="1742.7" r="2.2" fill="none" stroke="#1f8c7c" stroke-width="0.9"/><circle cx="779" cy="1752" r="2.2" fill="none" stroke="#1f8c7c" stroke-width="0.9"/><circle cx="788.5" cy="1752" r="2.2" fill="none" stroke="#1f8c7c" stroke-width="0.9"/><rect x="796" y="1712" width="2.6" height="20" fill="#1b9be3" opacity="0.85"/><rect x="913.2" y="1633.9" width="21.8" height="67.8" rx="0" fill="none" stroke="#111" stroke-width="1.3"/><rect x="922.5" y="1635" width="11.5" height="7" rx="0" fill="none" stroke="#1f8c7c" stroke-width="0.8"/><rect x="922.5" y="1693" width="11.5" height="7" rx="0" fill="none" stroke="#1f8c7c" stroke-width="0.8"/><rect x="914" y="1646" width="5" height="3.5" rx="0" fill="none" stroke="#1f8c7c" stroke-width="0.8"/><rect x="914" y="1651.5" width="5" height="3.5" rx="0" fill="none" stroke="#1f8c7c" stroke-width="0.8"/><rect x="914" y="1657" width="5" height="3.5" rx="0" fill="none" stroke="#1f8c7c" stroke-width="0.8"/><rect x="914" y="1662.5" width="5" height="3.5" rx="0" fill="none" stroke="#1f8c7c" stroke-width="0.8"/><rect x="914" y="1668" width="5" height="3.5" rx="0" fill="none" stroke="#1f8c7c" stroke-width="0.8"/><rect x="914" y="1673.5" width="5" height="3.5" rx="0" fill="none" stroke="#1f8c7c" stroke-width="0.8"/><rect x="914" y="1679" width="5" height="3.5" rx="0" fill="none" stroke="#1f8c7c" stroke-width="0.8"/><rect x="914" y="1684.5" width="5" height="3.5" rx="0" fill="none" stroke="#1f8c7c" stroke-width="0.8"/><rect x="918" y="1610" width="2.6" height="16" fill="#1b9be3" opacity="0.85"/><circle cx="924.1" cy="1715" r="11" fill="none" stroke="#111" stroke-width="1.2"/><polyline points="909.39,1599.17 909.39,1537.14 945.25,1537.14" fill="none" stroke="#111" stroke-width="1.8"/><line x1="909.39" y1="1599.17" x2="945.25" y2="1599.17" stroke="#111" stroke-width="1.2"/><line x1="921.99" y1="1537.62" x2="945.25" y2="1578.82" stroke="#111" stroke-width="1.1"/><polyline points="928.77,1537.62 953.97,1574.94 955.91,1577.85 955.91,1586.57 960.27,1586.57 960.27,1595.3 955.91,1595.3 955.91,1627.28" fill="none" stroke="#111" stroke-width="1.2"/><polyline points="927.8,1627.28 927.8,1563.79 980.14,1563.79 980.14,1627.28 927.8,1627.28" fill="none" stroke="#111" stroke-width="1.6"/><line x1="945.25" y1="1526.48" x2="945.25" y2="1627.28" stroke="#111" stroke-width="1.1"/><path d="M945.25,1526.48H984.5V1563.79 M981.11,1563.79H997.59V1627.28H981.11" fill="none" stroke="#111" stroke-width="1.5" stroke-dasharray="3,2"/><line x1="951.06" y1="1621.47" x2="951.06" y2="1625.34" stroke="#111" stroke-width="0.8"/><line x1="958.82" y1="1621.47" x2="958.82" y2="1625.34" stroke="#111" stroke-width="0.8"/><line x1="967.54" y1="1621.47" x2="967.54" y2="1625.34" stroke="#111" stroke-width="0.8"/><line x1="975.3" y1="1621.47" x2="975.3" y2="1625.34" stroke="#111" stroke-width="0.8"/><rect x="944.28" y="1522.12" width="10" height="3.5" fill="#1b9be3" opacity="0.85"/><rect x="918.11" y="1610.8" width="3.2" height="18" fill="#1b9be3" opacity="0.85"/><rect x="944.7" y="1627.8" width="31.5" height="328.2" rx="0" fill="none" stroke="#111" stroke-width="1.4"/><line x1="981.1" y1="1627.8" x2="981.1" y2="1956" stroke="#111" stroke-width="1.3"/><circle cx="949.3" cy="1640" r="2.2" fill="none" stroke="#1f8c7c" stroke-width="0.9"/><circle cx="973" cy="1640" r="2.2" fill="none" stroke="#1f8c7c" stroke-width="0.9"/><circle cx="956.1" cy="1643.6" r="2.2" fill="none" stroke="#1f8c7c" stroke-width="0.9"/><rect x="963" y="1641.5" width="4.2" height="4.2" rx="0" fill="none" stroke="#1f8c7c" stroke-width="0.9"/><circle cx="949.3" cy="1647.35" r="2.2" fill="none" stroke="#1f8c7c" stroke-width="0.9"/><circle cx="973" cy="1647.35" r="2.2" fill="none" stroke="#1f8c7c" stroke-width="0.9"/><circle cx="956.1" cy="1650.95" r="2.2" fill="none" stroke="#1f8c7c" stroke-width="0.9"/><circle cx="965.1" cy="1650.95" r="2.2" fill="none" stroke="#1f8c7c" stroke-width="0.9"/><circle cx="949.3" cy="1654.7" r="2.2" fill="none" stroke="#1f8c7c" stroke-width="0.9"/><circle cx="973" cy="1654.7" r="2.2" fill="none" stroke="#1f8c7c" stroke-width="0.9"/><circle cx="956.1" cy="1658.3" r="2.2" fill="none" stroke="#1f8c7c" stroke-width="0.9"/><rect x="963" y="1656.2" width="4.2" height="4.2" rx="0" fill="none" stroke="#1f8c7c" stroke-width="0.9"/><circle cx="949.3" cy="1662.05" r="2.2" fill="none" stroke="#1f8c7c" stroke-width="0.9"/><circle cx="973" cy="1662.05" r="2.2" fill="none" stroke="#1f8c7c" stroke-width="0.9"/><circle cx="956.1" cy="1665.65" r="2.2" fill="none" stroke="#1f8c7c" stroke-width="0.9"/><circle cx="965.1" cy="1665.65" r="2.2" fill="none" stroke="#1f8c7c" stroke-width="0.9"/><circle cx="949.3" cy="1669.4" r="2.2" fill="none" stroke="#1f8c7c" stroke-width="0.9"/><circle cx="973" cy="1669.4" r="2.2" fill="none" stroke="#1f8c7c" stroke-width="0.9"/><circle cx="956.1" cy="1673" r="2.2" fill="none" stroke="#1f8c7c" stroke-width="0.9"/><rect x="963" y="1670.9" width="4.2" height="4.2" rx="0" fill="none" stroke="#1f8c7c" stroke-width="0.9"/><circle cx="949.3" cy="1676.75" r="2.2" fill="none" stroke="#1f8c7c" stroke-width="0.9"/><circle cx="973" cy="1676.75" r="2.2" fill="none" stroke="#1f8c7c" stroke-width="0.9"/><circle cx="956.1" cy="1680.35" r="2.2" fill="none" stroke="#1f8c7c" stroke-width="0.9"/><circle cx="965.1" cy="1680.35" r="2.2" fill="none" stroke="#1f8c7c" stroke-width="0.9"/><circle cx="949.3" cy="1684.1" r="2.2" fill="none" stroke="#1f8c7c" stroke-width="0.9"/><circle cx="973" cy="1684.1" r="2.2" fill="none" stroke="#1f8c7c" stroke-width="0.9"/><circle cx="956.1" cy="1687.7" r="2.2" fill="none" stroke="#1f8c7c" stroke-width="0.9"/><rect x="963" y="1685.6" width="4.2" height="4.2" rx="0" fill="none" stroke="#1f8c7c" stroke-width="0.9"/><circle cx="949.3" cy="1691.45" r="2.2" fill="none" stroke="#1f8c7c" stroke-width="0.9"/><circle cx="973" cy="1691.45" r="2.2" fill="none" stroke="#1f8c7c" stroke-width="0.9"/><circle cx="956.1" cy="1695.05" r="2.2" fill="none" stroke="#1f8c7c" stroke-width="0.9"/><circle cx="965.1" cy="1695.05" r="2.2" fill="none" stroke="#1f8c7c" stroke-width="0.9"/><circle cx="949.3" cy="1698.8" r="2.2" fill="none" stroke="#1f8c7c" stroke-width="0.9"/><circle cx="973" cy="1698.8" r="2.2" fill="none" stroke="#1f8c7c" stroke-width="0.9"/><circle cx="956.1" cy="1702.4" r="2.2" fill="none" stroke="#1f8c7c" stroke-width="0.9"/><rect x="963" y="1700.3" width="4.2" height="4.2" rx="0" fill="none" stroke="#1f8c7c" stroke-width="0.9"/><circle cx="949.3" cy="1706.15" r="2.2" fill="none" stroke="#1f8c7c" stroke-width="0.9"/><circle cx="973" cy="1706.15" r="2.2" fill="none" stroke="#1f8c7c" stroke-width="0.9"/><circle cx="956.1" cy="1709.75" r="2.2" fill="none" stroke="#1f8c7c" stroke-width="0.9"/><circle cx="965.1" cy="1709.75" r="2.2" fill="none" stroke="#1f8c7c" stroke-width="0.9"/><circle cx="949.3" cy="1713.5" r="2.2" fill="none" stroke="#1f8c7c" stroke-width="0.9"/><circle cx="973" cy="1713.5" r="2.2" fill="none" stroke="#1f8c7c" stroke-width="0.9"/><circle cx="956.1" cy="1717.1" r="2.2" fill="none" stroke="#1f8c7c" stroke-width="0.9"/><rect x="963" y="1715" width="4.2" height="4.2" rx="0" fill="none" stroke="#1f8c7c" stroke-width="0.9"/><circle cx="949.3" cy="1720.85" r="2.2" fill="none" stroke="#1f8c7c" stroke-width="0.9"/><circle cx="973" cy="1720.85" r="2.2" fill="none" stroke="#1f8c7c" stroke-width="0.9"/><circle cx="956.1" cy="1724.45" r="2.2" fill="none" stroke="#1f8c7c" stroke-width="0.9"/><circle cx="965.1" cy="1724.45" r="2.2" fill="none" stroke="#1f8c7c" stroke-width="0.9"/><circle cx="949.3" cy="1728.2" r="2.2" fill="none" stroke="#1f8c7c" stroke-width="0.9"/><circle cx="973" cy="1728.2" r="2.2" fill="none" stroke="#1f8c7c" stroke-width="0.9"/><circle cx="956.1" cy="1731.8" r="2.2" fill="none" stroke="#1f8c7c" stroke-width="0.9"/><rect x="963" y="1729.7" width="4.2" height="4.2" rx="0" fill="none" stroke="#1f8c7c" stroke-width="0.9"/><circle cx="949.3" cy="1735.55" r="2.2" fill="none" stroke="#1f8c7c" stroke-width="0.9"/><circle cx="973" cy="1735.55" r="2.2" fill="none" stroke="#1f8c7c" stroke-width="0.9"/><circle cx="956.1" cy="1739.15" r="2.2" fill="none" stroke="#1f8c7c" stroke-width="0.9"/><circle cx="965.1" cy="1739.15" r="2.2" fill="none" stroke="#1f8c7c" stroke-width="0.9"/><circle cx="949.3" cy="1742.9" r="2.2" fill="none" stroke="#1f8c7c" stroke-width="0.9"/><circle cx="973" cy="1742.9" r="2.2" fill="none" stroke="#1f8c7c" stroke-width="0.9"/><circle cx="956.1" cy="1746.5" r="2.2" fill="none" stroke="#1f8c7c" stroke-width="0.9"/><rect x="963" y="1744.4" width="4.2" height="4.2" rx="0" fill="none" stroke="#1f8c7c" stroke-width="0.9"/><circle cx="949.3" cy="1750.25" r="2.2" fill="none" stroke="#1f8c7c" stroke-width="0.9"/><circle cx="973" cy="1750.25" r="2.2" fill="none" stroke="#1f8c7c" stroke-width="0.9"/><circle cx="956.1" cy="1753.85" r="2.2" fill="none" stroke="#1f8c7c" stroke-width="0.9"/><circle cx="965.1" cy="1753.85" r="2.2" fill="none" stroke="#1f8c7c" stroke-width="0.9"/><circle cx="949.3" cy="1757.6" r="2.2" fill="none" stroke="#1f8c7c" stroke-width="0.9"/><circle cx="973" cy="1757.6" r="2.2" fill="none" stroke="#1f8c7c" stroke-width="0.9"/><circle cx="956.1" cy="1761.2" r="2.2" fill="none" stroke="#1f8c7c" stroke-width="0.9"/><rect x="963" y="1759.1" width="4.2" height="4.2" rx="0" fill="none" stroke="#1f8c7c" stroke-width="0.9"/><circle cx="949.3" cy="1764.95" r="2.2" fill="none" stroke="#1f8c7c" stroke-width="0.9"/><circle cx="973" cy="1764.95" r="2.2" fill="none" stroke="#1f8c7c" stroke-width="0.9"/><circle cx="956.1" cy="1768.55" r="2.2" fill="none" stroke="#1f8c7c" stroke-width="0.9"/><circle cx="965.1" cy="1768.55" r="2.2" fill="none" stroke="#1f8c7c" stroke-width="0.9"/><circle cx="949.3" cy="1772.3" r="2.2" fill="none" stroke="#1f8c7c" stroke-width="0.9"/><circle cx="973" cy="1772.3" r="2.2" fill="none" stroke="#1f8c7c" stroke-width="0.9"/><circle cx="956.1" cy="1775.9" r="2.2" fill="none" stroke="#1f8c7c" stroke-width="0.9"/><rect x="963" y="1773.8" width="4.2" height="4.2" rx="0" fill="none" stroke="#1f8c7c" stroke-width="0.9"/><circle cx="949.3" cy="1779.65" r="2.2" fill="none" stroke="#1f8c7c" stroke-width="0.9"/><circle cx="973" cy="1779.65" r="2.2" fill="none" stroke="#1f8c7c" stroke-width="0.9"/><circle cx="956.1" cy="1783.25" r="2.2" fill="none" stroke="#1f8c7c" stroke-width="0.9"/><circle cx="965.1" cy="1783.25" r="2.2" fill="none" stroke="#1f8c7c" stroke-width="0.9"/><circle cx="949.3" cy="1787" r="2.2" fill="none" stroke="#1f8c7c" stroke-width="0.9"/><circle cx="973" cy="1787" r="2.2" fill="none" stroke="#1f8c7c" stroke-width="0.9"/><circle cx="956.1" cy="1790.6" r="2.2" fill="none" stroke="#1f8c7c" stroke-width="0.9"/><rect x="963" y="1788.5" width="4.2" height="4.2" rx="0" fill="none" stroke="#1f8c7c" stroke-width="0.9"/><circle cx="949.3" cy="1794.35" r="2.2" fill="none" stroke="#1f8c7c" stroke-width="0.9"/><circle cx="973" cy="1794.35" r="2.2" fill="none" stroke="#1f8c7c" stroke-width="0.9"/><circle cx="956.1" cy="1797.95" r="2.2" fill="none" stroke="#1f8c7c" stroke-width="0.9"/><circle cx="965.1" cy="1797.95" r="2.2" fill="none" stroke="#1f8c7c" stroke-width="0.9"/><circle cx="949.3" cy="1801.7" r="2.2" fill="none" stroke="#1f8c7c" stroke-width="0.9"/><circle cx="973" cy="1801.7" r="2.2" fill="none" stroke="#1f8c7c" stroke-width="0.9"/><circle cx="956.1" cy="1805.3" r="2.2" fill="none" stroke="#1f8c7c" stroke-width="0.9"/><rect x="963" y="1803.2" width="4.2" height="4.2" rx="0" fill="none" stroke="#1f8c7c" stroke-width="0.9"/><circle cx="949.3" cy="1809.05" r="2.2" fill="none" stroke="#1f8c7c" stroke-width="0.9"/><circle cx="973" cy="1809.05" r="2.2" fill="none" stroke="#1f8c7c" stroke-width="0.9"/><circle cx="956.1" cy="1812.65" r="2.2" fill="none" stroke="#1f8c7c" stroke-width="0.9"/><circle cx="965.1" cy="1812.65" r="2.2" fill="none" stroke="#1f8c7c" stroke-width="0.9"/><circle cx="949.3" cy="1816.4" r="2.2" fill="none" stroke="#1f8c7c" stroke-width="0.9"/><circle cx="973" cy="1816.4" r="2.2" fill="none" stroke="#1f8c7c" stroke-width="0.9"/><circle cx="956.1" cy="1820" r="2.2" fill="none" stroke="#1f8c7c" stroke-width="0.9"/><rect x="963" y="1817.9" width="4.2" height="4.2" rx="0" fill="none" stroke="#1f8c7c" stroke-width="0.9"/><circle cx="949.3" cy="1823.75" r="2.2" fill="none" stroke="#1f8c7c" stroke-width="0.9"/><circle cx="973" cy="1823.75" r="2.2" fill="none" stroke="#1f8c7c" stroke-width="0.9"/><circle cx="956.1" cy="1827.35" r="2.2" fill="none" stroke="#1f8c7c" stroke-width="0.9"/><circle cx="965.1" cy="1827.35" r="2.2" fill="none" stroke="#1f8c7c" stroke-width="0.9"/><circle cx="949.3" cy="1831.1" r="2.2" fill="none" stroke="#1f8c7c" stroke-width="0.9"/><circle cx="973" cy="1831.1" r="2.2" fill="none" stroke="#1f8c7c" stroke-width="0.9"/><circle cx="956.1" cy="1834.7" r="2.2" fill="none" stroke="#1f8c7c" stroke-width="0.9"/><rect x="963" y="1832.6" width="4.2" height="4.2" rx="0" fill="none" stroke="#1f8c7c" stroke-width="0.9"/><circle cx="949.3" cy="1838.45" r="2.2" fill="none" stroke="#1f8c7c" stroke-width="0.9"/><circle cx="973" cy="1838.45" r="2.2" fill="none" stroke="#1f8c7c" stroke-width="0.9"/><circle cx="956.1" cy="1842.05" r="2.2" fill="none" stroke="#1f8c7c" stroke-width="0.9"/><circle cx="965.1" cy="1842.05" r="2.2" fill="none" stroke="#1f8c7c" stroke-width="0.9"/><circle cx="949.3" cy="1845.8" r="2.2" fill="none" stroke="#1f8c7c" stroke-width="0.9"/><circle cx="973" cy="1845.8" r="2.2" fill="none" stroke="#1f8c7c" stroke-width="0.9"/><circle cx="956.1" cy="1849.4" r="2.2" fill="none" stroke="#1f8c7c" stroke-width="0.9"/><rect x="963" y="1847.3" width="4.2" height="4.2" rx="0" fill="none" stroke="#1f8c7c" stroke-width="0.9"/><circle cx="949.3" cy="1853.15" r="2.2" fill="none" stroke="#1f8c7c" stroke-width="0.9"/><circle cx="973" cy="1853.15" r="2.2" fill="none" stroke="#1f8c7c" stroke-width="0.9"/><circle cx="956.1" cy="1856.75" r="2.2" fill="none" stroke="#1f8c7c" stroke-width="0.9"/><circle cx="965.1" cy="1856.75" r="2.2" fill="none" stroke="#1f8c7c" stroke-width="0.9"/><circle cx="949.3" cy="1860.5" r="2.2" fill="none" stroke="#1f8c7c" stroke-width="0.9"/><circle cx="973" cy="1860.5" r="2.2" fill="none" stroke="#1f8c7c" stroke-width="0.9"/><circle cx="956.1" cy="1864.1" r="2.2" fill="none" stroke="#1f8c7c" stroke-width="0.9"/><rect x="963" y="1862" width="4.2" height="4.2" rx="0" fill="none" stroke="#1f8c7c" stroke-width="0.9"/><circle cx="949.3" cy="1867.85" r="2.2" fill="none" stroke="#1f8c7c" stroke-width="0.9"/><circle cx="973" cy="1867.85" r="2.2" fill="none" stroke="#1f8c7c" stroke-width="0.9"/><circle cx="956.1" cy="1871.45" r="2.2" fill="none" stroke="#1f8c7c" stroke-width="0.9"/><circle cx="965.1" cy="1871.45" r="2.2" fill="none" stroke="#1f8c7c" stroke-width="0.9"/><circle cx="949.3" cy="1875.2" r="2.2" fill="none" stroke="#1f8c7c" stroke-width="0.9"/><circle cx="973" cy="1875.2" r="2.2" fill="none" stroke="#1f8c7c" stroke-width="0.9"/><circle cx="956.1" cy="1878.8" r="2.2" fill="none" stroke="#1f8c7c" stroke-width="0.9"/><rect x="963" y="1876.7" width="4.2" height="4.2" rx="0" fill="none" stroke="#1f8c7c" stroke-width="0.9"/><circle cx="949.3" cy="1882.55" r="2.2" fill="none" stroke="#1f8c7c" stroke-width="0.9"/><circle cx="973" cy="1882.55" r="2.2" fill="none" stroke="#1f8c7c" stroke-width="0.9"/><circle cx="956.1" cy="1886.15" r="2.2" fill="none" stroke="#1f8c7c" stroke-width="0.9"/><circle cx="965.1" cy="1886.15" r="2.2" fill="none" stroke="#1f8c7c" stroke-width="0.9"/><circle cx="949.3" cy="1889.9" r="2.2" fill="none" stroke="#1f8c7c" stroke-width="0.9"/><circle cx="973" cy="1889.9" r="2.2" fill="none" stroke="#1f8c7c" stroke-width="0.9"/><circle cx="956.1" cy="1893.5" r="2.2" fill="none" stroke="#1f8c7c" stroke-width="0.9"/><rect x="963" y="1891.4" width="4.2" height="4.2" rx="0" fill="none" stroke="#1f8c7c" stroke-width="0.9"/><circle cx="949.3" cy="1897.25" r="2.2" fill="none" stroke="#1f8c7c" stroke-width="0.9"/><circle cx="973" cy="1897.25" r="2.2" fill="none" stroke="#1f8c7c" stroke-width="0.9"/><circle cx="956.1" cy="1900.85" r="2.2" fill="none" stroke="#1f8c7c" stroke-width="0.9"/><circle cx="965.1" cy="1900.85" r="2.2" fill="none" stroke="#1f8c7c" stroke-width="0.9"/><circle cx="949.3" cy="1904.6" r="2.2" fill="none" stroke="#1f8c7c" stroke-width="0.9"/><circle cx="973" cy="1904.6" r="2.2" fill="none" stroke="#1f8c7c" stroke-width="0.9"/><circle cx="956.1" cy="1908.2" r="2.2" fill="none" stroke="#1f8c7c" stroke-width="0.9"/><rect x="963" y="1906.1" width="4.2" height="4.2" rx="0" fill="none" stroke="#1f8c7c" stroke-width="0.9"/><circle cx="949.3" cy="1911.95" r="2.2" fill="none" stroke="#1f8c7c" stroke-width="0.9"/><circle cx="973" cy="1911.95" r="2.2" fill="none" stroke="#1f8c7c" stroke-width="0.9"/><circle cx="956.1" cy="1915.55" r="2.2" fill="none" stroke="#1f8c7c" stroke-width="0.9"/><circle cx="965.1" cy="1915.55" r="2.2" fill="none" stroke="#1f8c7c" stroke-width="0.9"/><circle cx="949.3" cy="1919.3" r="2.2" fill="none" stroke="#1f8c7c" stroke-width="0.9"/><circle cx="973" cy="1919.3" r="2.2" fill="none" stroke="#1f8c7c" stroke-width="0.9"/><circle cx="956.1" cy="1922.9" r="2.2" fill="none" stroke="#1f8c7c" stroke-width="0.9"/><rect x="963" y="1920.8" width="4.2" height="4.2" rx="0" fill="none" stroke="#1f8c7c" stroke-width="0.9"/><circle cx="949.3" cy="1926.65" r="2.2" fill="none" stroke="#1f8c7c" stroke-width="0.9"/><circle cx="973" cy="1926.65" r="2.2" fill="none" stroke="#1f8c7c" stroke-width="0.9"/><circle cx="956.1" cy="1930.25" r="2.2" fill="none" stroke="#1f8c7c" stroke-width="0.9"/><circle cx="965.1" cy="1930.25" r="2.2" fill="none" stroke="#1f8c7c" stroke-width="0.9"/><circle cx="949.3" cy="1934" r="2.2" fill="none" stroke="#1f8c7c" stroke-width="0.9"/><circle cx="973" cy="1934" r="2.2" fill="none" stroke="#1f8c7c" stroke-width="0.9"/><circle cx="956.1" cy="1937.6" r="2.2" fill="none" stroke="#1f8c7c" stroke-width="0.9"/><rect x="963" y="1935.5" width="4.2" height="4.2" rx="0" fill="none" stroke="#1f8c7c" stroke-width="0.9"/><circle cx="949.3" cy="1941.35" r="2.2" fill="none" stroke="#1f8c7c" stroke-width="0.9"/><circle cx="973" cy="1941.35" r="2.2" fill="none" stroke="#1f8c7c" stroke-width="0.9"/><circle cx="956.1" cy="1944.95" r="2.2" fill="none" stroke="#1f8c7c" stroke-width="0.9"/><circle cx="965.1" cy="1944.95" r="2.2" fill="none" stroke="#1f8c7c" stroke-width="0.9"/><circle cx="949.3" cy="1948.7" r="2.2" fill="none" stroke="#1f8c7c" stroke-width="0.9"/><circle cx="973" cy="1948.7" r="2.2" fill="none" stroke="#1f8c7c" stroke-width="0.9"/><circle cx="960.6" cy="1632.6" r="5.3" fill="none" stroke="#1f8c7c" stroke-width="0.9"/><rect x="945.9" y="1957.2" width="30.3" height="35.1" fill="none" stroke="#111" stroke-width="1.1" stroke-dasharray="3,2"/><rect x="950" y="1941" width="6" height="6" rx="0" fill="none" stroke="#1f8c7c" stroke-width="1"/><path d="M772.7,1760.9 L925,1760.9 Q944,1762 944,1778 Q944,1794.8 925,1794.8 L918.1,1794.8 L918.1,1873.6 M799.3,1762 L799.3,1840.9 L790,1840.9 Q772.7,1842 772.7,1857 Q772.7,1872 785,1873.6 L944.7,1873.6" fill="none" stroke="#111" stroke-width="1.5"/><line x1="772.7" y1="1758.7" x2="772.7" y2="1917.5" stroke="#111" stroke-width="1.3"/><rect x="814.4" y="1779.1" width="86.2" height="82.4" rx="0" fill="none" stroke="#111" stroke-width="1.6"/><rect x="816.5" y="1781" width="82" height="78.5" fill="url(#bgapat)"/><rect x="832" y="1797" width="51" height="47" fill="#fff"/><path d="M826,1799H889M826,1804H889M826,1809H889M826,1814H889M826,1819H889M826,1824H889M826,1829H889M826,1834H889M826,1839H889M836,1791V1850M841.2,1791V1850M846.4,1791V1850M851.6,1791V1850M856.8,1791V1850M862,1791V1850M867.2,1791V1850M872.4,1791V1850M877.6,1791V1850" stroke="#10996e" stroke-width="1.8" stroke-dasharray="2.2,1"/><circle cx="929" cy="1777.9" r="5.5" fill="none" stroke="#1f8c7c" stroke-width="1"/><circle cx="787.2" cy="1856.6" r="5.5" fill="none" stroke="#1f8c7c" stroke-width="1"/><circle cx="901" cy="1862" r="1.7" fill="#111"/><rect x="419" y="1927.5" width="345.2" height="43.5" rx="0" fill="none" stroke="#111" stroke-width="1.7"/><circle cx="435" cy="1949.2" r="13.5" fill="none" stroke="#111" stroke-width="1.6"/><circle cx="435" cy="1949.2" r="5.5" fill="none" stroke="#1f8c7c" stroke-width="1"/><circle cx="746" cy="1949.2" r="13.5" fill="none" stroke="#111" stroke-width="1.6"/><circle cx="746" cy="1949.2" r="5.5" fill="none" stroke="#1f8c7c" stroke-width="1"/><rect x="925.3" y="1923.3" width="18.2" height="18.1" rx="0" fill="none" stroke="#111" stroke-width="1.2"/><circle cx="930" cy="1936.5" r="2.3" fill="none" stroke="#1f8c7c" stroke-width="0.9"/><circle cx="938.5" cy="1936.5" r="2.3" fill="none" stroke="#1f8c7c" stroke-width="0.9"/><rect x="936.5" y="1925" width="4.5" height="4.5" rx="0" fill="none" stroke="#1f8c7c" stroke-width="0.8"/><rect x="921" y="1945" width="2.6" height="14" fill="#1b9be3" opacity="0.85"/><rect x="782.4" y="1974.1" width="18.2" height="18.2" rx="0" fill="none" stroke="#111" stroke-width="1.2"/><circle cx="787" cy="1987.5" r="2.3" fill="none" stroke="#1f8c7c" stroke-width="0.9"/><circle cx="795.5" cy="1987.5" r="2.3" fill="none" stroke="#1f8c7c" stroke-width="0.9"/><rect x="793.5" y="1976" width="4.5" height="4.5" rx="0" fill="none" stroke="#1f8c7c" stroke-width="0.8"/><rect x="804" y="1966" width="2.6" height="26" fill="#1b9be3" opacity="0.85"/><circle cx="969" cy="2036.5" r="16.5" fill="none" stroke="#111" stroke-width="1.4"/><rect x="966" y="2025" width="5" height="5" rx="0" fill="none" stroke="#1f8c7c" stroke-width="0.8"/><rect x="966" y="2042" width="5" height="5" rx="0" fill="none" stroke="#1f8c7c" stroke-width="0.8"/><rect x="957" y="2049" width="24" height="4" rx="0" fill="#111" stroke="#111" stroke-width="0"/><path d="M951,1998 L960,1998 L960,1995 L977,1995 L977,1998 L985,1998 L985,2012 L977,2012 L977,2015 L960,2015 L960,2012 L951,2012 Z" fill="none" stroke="#111" stroke-width="1.2"/><rect x="953" y="2000" width="5" height="10" rx="0" fill="none" stroke="#111" stroke-width="0.8"/><rect x="978" y="2000" width="5" height="10" rx="0" fill="none" stroke="#111" stroke-width="0.8"/><rect x="945" y="2023" width="2.6" height="16" fill="#1b9be3" opacity="0.85"/><rect x="986" y="1995" width="2.6" height="14" fill="#1b9be3" opacity="0.85"/><rect x="366" y="2036" width="48" height="80.5" rx="0" fill="none" stroke="#111" stroke-width="1.6"/><rect x="377.5" y="2116.5" width="26" height="12.5" rx="0" fill="none" stroke="#111" stroke-width="1.1"/><circle cx="376" cy="2049" r="2.6" fill="none" stroke="#1f8c7c" stroke-width="0.9"/><circle cx="384.3" cy="2049" r="2.6" fill="none" stroke="#1f8c7c" stroke-width="0.9"/><circle cx="392.6" cy="2049" r="2.6" fill="none" stroke="#1f8c7c" stroke-width="0.9"/><circle cx="400.9" cy="2049" r="2.6" fill="none" stroke="#1f8c7c" stroke-width="0.9"/><circle cx="376" cy="2067" r="2.6" fill="none" stroke="#1f8c7c" stroke-width="0.9"/><circle cx="384.3" cy="2067" r="2.6" fill="none" stroke="#1f8c7c" stroke-width="0.9"/><circle cx="392.6" cy="2067" r="2.6" fill="none" stroke="#1f8c7c" stroke-width="0.9"/><circle cx="400.9" cy="2067" r="2.6" fill="none" stroke="#1f8c7c" stroke-width="0.9"/><circle cx="371" cy="2085" r="2.6" fill="none" stroke="#1f8c7c" stroke-width="0.9"/><circle cx="379.3" cy="2085" r="2.6" fill="none" stroke="#1f8c7c" stroke-width="0.9"/><circle cx="387.6" cy="2085" r="2.6" fill="none" stroke="#1f8c7c" stroke-width="0.9"/><circle cx="395.9" cy="2085" r="2.6" fill="none" stroke="#1f8c7c" stroke-width="0.9"/><circle cx="404.2" cy="2085" r="2.6" fill="none" stroke="#1f8c7c" stroke-width="0.9"/><circle cx="390" cy="2099" r="3.2" fill="none" stroke="#1f8c7c" stroke-width="0.9"/><circle cx="368" cy="2056" r="4.5" fill="none" stroke="#1f8c7c" stroke-width="0.9"/><circle cx="412" cy="2056" r="4.5" fill="none" stroke="#1f8c7c" stroke-width="0.9"/><circle cx="368" cy="2099" r="4.5" fill="none" stroke="#1f8c7c" stroke-width="0.9"/><circle cx="412" cy="2099" r="4.5" fill="none" stroke="#1f8c7c" stroke-width="0.9"/><rect x="380" y="2028" width="18" height="2.6" fill="#1b9be3" opacity="0.85"/><rect x="417" y="2062" width="2.6" height="18" fill="#1b9be3" opacity="0.85"/><rect x="422.5" y="2043.5" width="116.5" height="73" rx="0" fill="none" stroke="#111" stroke-width="1.6"/><rect x="450" y="2116.5" width="63.5" height="21" rx="0" fill="none" stroke="#111" stroke-width="1.3"/><rect x="460" y="2046" width="6" height="6" rx="0" fill="none" stroke="#1f8c7c" stroke-width="0.9"/><circle cx="469.5" cy="2051" r="2.5" fill="none" stroke="#1f8c7c" stroke-width="0.9"/><circle cx="478.5" cy="2051" r="2.5" fill="none" stroke="#1f8c7c" stroke-width="0.9"/><circle cx="487.5" cy="2051" r="2.5" fill="none" stroke="#1f8c7c" stroke-width="0.9"/><circle cx="496.5" cy="2051" r="2.5" fill="none" stroke="#1f8c7c" stroke-width="0.9"/><circle cx="465" cy="2061" r="2.5" fill="none" stroke="#1f8c7c" stroke-width="0.9"/><circle cx="474" cy="2061" r="2.5" fill="none" stroke="#1f8c7c" stroke-width="0.9"/><circle cx="483" cy="2061" r="2.5" fill="none" stroke="#1f8c7c" stroke-width="0.9"/><circle cx="492" cy="2061" r="2.5" fill="none" stroke="#1f8c7c" stroke-width="0.9"/><rect x="460" y="2072" width="6" height="6" rx="0" fill="none" stroke="#1f8c7c" stroke-width="0.9"/><circle cx="469.5" cy="2075" r="2.5" fill="none" stroke="#1f8c7c" stroke-width="0.9"/><circle cx="478.5" cy="2075" r="2.5" fill="none" stroke="#1f8c7c" stroke-width="0.9"/><circle cx="487.5" cy="2075" r="2.5" fill="none" stroke="#1f8c7c" stroke-width="0.9"/><circle cx="496.5" cy="2075" r="2.5" fill="none" stroke="#1f8c7c" stroke-width="0.9"/><circle cx="465" cy="2085" r="2.5" fill="none" stroke="#1f8c7c" stroke-width="0.9"/><circle cx="474" cy="2085" r="2.5" fill="none" stroke="#1f8c7c" stroke-width="0.9"/><circle cx="483" cy="2085" r="2.5" fill="none" stroke="#1f8c7c" stroke-width="0.9"/><circle cx="492" cy="2085" r="2.5" fill="none" stroke="#1f8c7c" stroke-width="0.9"/><rect x="428" y="2053" width="14" height="6" rx="3" fill="none" stroke="#1f8c7c" stroke-width="0.9"/><rect x="519" y="2053" width="14" height="6" rx="3" fill="none" stroke="#1f8c7c" stroke-width="0.9"/><rect x="428" y="2083" width="14" height="6" rx="3" fill="none" stroke="#1f8c7c" stroke-width="0.9"/><rect x="519" y="2083" width="14" height="6" rx="3" fill="none" stroke="#1f8c7c" stroke-width="0.9"/><rect x="554" y="2033.5" width="77.5" height="83" rx="0" fill="none" stroke="#111" stroke-width="1.3"/><path d="M561.5,2116.5 V2068.5 H623.5 V2116.5" fill="none" stroke="#111" stroke-width="1"/><circle cx="579.5" cy="2045.5" r="2.6" fill="none" stroke="#1f8c7c" stroke-width="0.9"/><circle cx="587.7" cy="2045.5" r="2.6" fill="none" stroke="#1f8c7c" stroke-width="0.9"/><circle cx="595.9" cy="2045.5" r="2.6" fill="none" stroke="#1f8c7c" stroke-width="0.9"/><circle cx="604.1" cy="2045.5" r="2.6" fill="none" stroke="#1f8c7c" stroke-width="0.9"/><circle cx="579.5" cy="2056.3" r="2.6" fill="none" stroke="#1f8c7c" stroke-width="0.9"/><circle cx="587.7" cy="2056.3" r="2.6" fill="none" stroke="#1f8c7c" stroke-width="0.9"/><circle cx="595.9" cy="2056.3" r="2.6" fill="none" stroke="#1f8c7c" stroke-width="0.9"/><circle cx="604.1" cy="2056.3" r="2.6" fill="none" stroke="#1f8c7c" stroke-width="0.9"/><circle cx="576.4" cy="2071.6" r="1.5" fill="none" stroke="#1f8c7c" stroke-width="0.9"/><circle cx="578.2" cy="2076.3" r="1.5" fill="none" stroke="#1f8c7c" stroke-width="0.9"/><circle cx="580.1" cy="2071.6" r="1.5" fill="none" stroke="#1f8c7c" stroke-width="0.9"/><circle cx="581.9" cy="2076.3" r="1.5" fill="none" stroke="#1f8c7c" stroke-width="0.9"/><circle cx="583.8" cy="2071.6" r="1.5" fill="none" stroke="#1f8c7c" stroke-width="0.9"/><circle cx="585.6" cy="2076.3" r="1.5" fill="none" stroke="#1f8c7c" stroke-width="0.9"/><circle cx="587.5" cy="2071.6" r="1.5" fill="none" stroke="#1f8c7c" stroke-width="0.9"/><circle cx="589.3" cy="2076.3" r="1.5" fill="none" stroke="#1f8c7c" stroke-width="0.9"/><circle cx="591.2" cy="2071.6" r="1.5" fill="none" stroke="#1f8c7c" stroke-width="0.9"/><circle cx="593" cy="2076.3" r="1.5" fill="none" stroke="#1f8c7c" stroke-width="0.9"/><circle cx="594.9" cy="2071.6" r="1.5" fill="none" stroke="#1f8c7c" stroke-width="0.9"/><circle cx="596.7" cy="2076.3" r="1.5" fill="none" stroke="#1f8c7c" stroke-width="0.9"/><circle cx="598.6" cy="2071.6" r="1.5" fill="none" stroke="#1f8c7c" stroke-width="0.9"/><circle cx="600.4" cy="2076.3" r="1.5" fill="none" stroke="#1f8c7c" stroke-width="0.9"/><circle cx="602.3" cy="2071.6" r="1.5" fill="none" stroke="#1f8c7c" stroke-width="0.9"/><circle cx="604.1" cy="2076.3" r="1.5" fill="none" stroke="#1f8c7c" stroke-width="0.9"/><circle cx="606" cy="2071.6" r="1.5" fill="none" stroke="#1f8c7c" stroke-width="0.9"/><circle cx="607.8" cy="2076.3" r="1.5" fill="none" stroke="#1f8c7c" stroke-width="0.9"/><circle cx="609.7" cy="2071.6" r="1.5" fill="none" stroke="#1f8c7c" stroke-width="0.9"/><circle cx="611.5" cy="2076.3" r="1.5" fill="none" stroke="#1f8c7c" stroke-width="0.9"/><circle cx="613.4" cy="2071.6" r="1.5" fill="none" stroke="#1f8c7c" stroke-width="0.9"/><circle cx="615.2" cy="2076.3" r="1.5" fill="none" stroke="#1f8c7c" stroke-width="0.9"/><circle cx="556" cy="2050" r="5.5" fill="none" stroke="#1f8c7c" stroke-width="0.9"/><circle cx="629" cy="2050" r="5.5" fill="none" stroke="#1f8c7c" stroke-width="0.9"/><circle cx="556" cy="2086" r="5.5" fill="none" stroke="#1f8c7c" stroke-width="0.9"/><circle cx="629" cy="2086" r="5.5" fill="none" stroke="#1f8c7c" stroke-width="0.9"/><rect x="560" y="2070" width="4" height="10" rx="0" fill="none" stroke="#1f8c7c" stroke-width="0.9"/><rect x="623" y="2070" width="4" height="10" rx="0" fill="none" stroke="#1f8c7c" stroke-width="0.9"/><rect x="560" y="2092" width="4" height="8" rx="0" fill="none" stroke="#1f8c7c" stroke-width="0.9"/><rect x="623" y="2092" width="4" height="8" rx="0" fill="none" stroke="#1f8c7c" stroke-width="0.9"/><path d="M612,2065 l4,3.5 l4,-3.5 Z" fill="none" stroke="#111" stroke-width="0.8"/><rect x="587" y="2030" width="16" height="2.4" fill="#1b9be3" opacity="0.85"/><rect x="634" y="2075" width="2.6" height="14" fill="#1b9be3" opacity="0.85"/><rect x="643.5" y="2033.5" width="76.5" height="83" rx="0" fill="none" stroke="#111" stroke-width="1.3"/><rect x="654" y="2068" width="54" height="48.5" rx="0" fill="none" stroke="#111" stroke-width="1.7"/><circle cx="668.5" cy="2045.5" r="2.7" fill="none" stroke="#1f8c7c" stroke-width="0.9"/><circle cx="676.7" cy="2045.5" r="2.7" fill="none" stroke="#1f8c7c" stroke-width="0.9"/><circle cx="684.9" cy="2045.5" r="2.7" fill="none" stroke="#1f8c7c" stroke-width="0.9"/><circle cx="693.1" cy="2045.5" r="2.7" fill="none" stroke="#1f8c7c" stroke-width="0.9"/><circle cx="668.5" cy="2056.3" r="2.7" fill="none" stroke="#1f8c7c" stroke-width="0.9"/><circle cx="676.7" cy="2056.3" r="2.7" fill="none" stroke="#1f8c7c" stroke-width="0.9"/><circle cx="684.9" cy="2056.3" r="2.7" fill="none" stroke="#1f8c7c" stroke-width="0.9"/><circle cx="693.1" cy="2056.3" r="2.7" fill="none" stroke="#1f8c7c" stroke-width="0.9"/><circle cx="665.3" cy="2073" r="1.9" fill="none" stroke="#1f8c7c" stroke-width="0.9"/><circle cx="670.9" cy="2073" r="1.9" fill="none" stroke="#1f8c7c" stroke-width="0.9"/><circle cx="676.5" cy="2073" r="1.9" fill="none" stroke="#1f8c7c" stroke-width="0.9"/><circle cx="682.1" cy="2073" r="1.9" fill="none" stroke="#1f8c7c" stroke-width="0.9"/><circle cx="687.7" cy="2073" r="1.9" fill="none" stroke="#1f8c7c" stroke-width="0.9"/><circle cx="693.3" cy="2073" r="1.9" fill="none" stroke="#1f8c7c" stroke-width="0.9"/><circle cx="698.9" cy="2073" r="1.9" fill="none" stroke="#1f8c7c" stroke-width="0.9"/><circle cx="668" cy="2078.2" r="1.9" fill="none" stroke="#1f8c7c" stroke-width="0.9"/><circle cx="673.6" cy="2078.2" r="1.9" fill="none" stroke="#1f8c7c" stroke-width="0.9"/><circle cx="679.2" cy="2078.2" r="1.9" fill="none" stroke="#1f8c7c" stroke-width="0.9"/><circle cx="684.8" cy="2078.2" r="1.9" fill="none" stroke="#1f8c7c" stroke-width="0.9"/><circle cx="690.4" cy="2078.2" r="1.9" fill="none" stroke="#1f8c7c" stroke-width="0.9"/><circle cx="696" cy="2078.2" r="1.9" fill="none" stroke="#1f8c7c" stroke-width="0.9"/><circle cx="665.3" cy="2084" r="1.9" fill="none" stroke="#1f8c7c" stroke-width="0.9"/><circle cx="670.9" cy="2084" r="1.9" fill="none" stroke="#1f8c7c" stroke-width="0.9"/><circle cx="676.5" cy="2084" r="1.9" fill="none" stroke="#1f8c7c" stroke-width="0.9"/><circle cx="682.1" cy="2084" r="1.9" fill="none" stroke="#1f8c7c" stroke-width="0.9"/><circle cx="687.7" cy="2084" r="1.9" fill="none" stroke="#1f8c7c" stroke-width="0.9"/><circle cx="693.3" cy="2084" r="1.9" fill="none" stroke="#1f8c7c" stroke-width="0.9"/><circle cx="681" cy="2096" r="2.8" fill="none" stroke="#1f8c7c" stroke-width="0.9"/><circle cx="645.5" cy="2050" r="5.5" fill="none" stroke="#1f8c7c" stroke-width="0.9"/><circle cx="718" cy="2050" r="5.5" fill="none" stroke="#1f8c7c" stroke-width="0.9"/><circle cx="645.5" cy="2086" r="5.5" fill="none" stroke="#1f8c7c" stroke-width="0.9"/><circle cx="718" cy="2086" r="5.5" fill="none" stroke="#1f8c7c" stroke-width="0.9"/><rect x="653" y="2071" width="4" height="11" rx="0" fill="none" stroke="#1f8c7c" stroke-width="0.9"/><rect x="706" y="2071" width="4" height="11" rx="0" fill="none" stroke="#1f8c7c" stroke-width="0.9"/><rect x="676" y="2030" width="16" height="2.4" fill="#1b9be3" opacity="0.85"/><rect x="722" y="2075" width="2.6" height="14" fill="#1b9be3" opacity="0.85"/><rect x="731" y="2013.5" width="72.5" height="103" rx="0" fill="none" stroke="#111" stroke-width="1.6"/><line x1="739.76" y1="2088.47" x2="739.76" y2="2116.25" stroke="#111" stroke-width="1.6"/><line x1="794.44" y1="2088.47" x2="794.44" y2="2116.25" stroke="#111" stroke-width="1.6"/><line x1="739.76" y1="2115.38" x2="794.44" y2="2115.38" stroke="#111" stroke-width="1.6"/><rect x="738.37" y="2018.16" width="5.2" height="5.2" rx="0" fill="none" stroke="#1f8c7c" stroke-width="0.9"/><rect x="781.43" y="2018.16" width="5.2" height="5.2" rx="0" fill="none" stroke="#1f8c7c" stroke-width="0.9"/><circle cx="750.17" cy="2020.76" r="2.5" fill="none" stroke="#1f8c7c" stroke-width="0.9"/><circle cx="793.58" cy="2020.76" r="2.5" fill="none" stroke="#1f8c7c" stroke-width="0.9"/><circle cx="745.83" cy="2031.18" r="2.5" fill="none" stroke="#1f8c7c" stroke-width="0.9"/><circle cx="750.69" cy="2040.73" r="2.5" fill="none" stroke="#1f8c7c" stroke-width="0.9"/><circle cx="755.38" cy="2031.18" r="2.5" fill="none" stroke="#1f8c7c" stroke-width="0.9"/><circle cx="760.07" cy="2040.73" r="2.5" fill="none" stroke="#1f8c7c" stroke-width="0.9"/><circle cx="764.93" cy="2031.18" r="2.5" fill="none" stroke="#1f8c7c" stroke-width="0.9"/><circle cx="769.44" cy="2040.73" r="2.5" fill="none" stroke="#1f8c7c" stroke-width="0.9"/><circle cx="774.48" cy="2031.18" r="2.5" fill="none" stroke="#1f8c7c" stroke-width="0.9"/><circle cx="778.82" cy="2040.73" r="2.5" fill="none" stroke="#1f8c7c" stroke-width="0.9"/><circle cx="784.03" cy="2031.18" r="2.5" fill="none" stroke="#1f8c7c" stroke-width="0.9"/><circle cx="788.19" cy="2040.73" r="2.5" fill="none" stroke="#1f8c7c" stroke-width="0.9"/><circle cx="752.43" cy="2055.49" r="2.4" fill="none" stroke="#1f8c7c" stroke-width="0.85"/><circle cx="759.72" cy="2055.49" r="2.4" fill="none" stroke="#1f8c7c" stroke-width="0.85"/><circle cx="767.01" cy="2055.49" r="2.4" fill="none" stroke="#1f8c7c" stroke-width="0.85"/><circle cx="774.31" cy="2055.49" r="2.4" fill="none" stroke="#1f8c7c" stroke-width="0.85"/><circle cx="781.6" cy="2055.49" r="2.4" fill="none" stroke="#1f8c7c" stroke-width="0.85"/><circle cx="754.51" cy="2060.69" r="2.4" fill="none" stroke="#1f8c7c" stroke-width="0.85"/><circle cx="761.81" cy="2060.69" r="2.4" fill="none" stroke="#1f8c7c" stroke-width="0.85"/><circle cx="769.1" cy="2060.69" r="2.4" fill="none" stroke="#1f8c7c" stroke-width="0.85"/><circle cx="776.39" cy="2060.69" r="2.4" fill="none" stroke="#1f8c7c" stroke-width="0.85"/><circle cx="783.68" cy="2060.69" r="2.4" fill="none" stroke="#1f8c7c" stroke-width="0.85"/><circle cx="752.43" cy="2068.51" r="2.4" fill="none" stroke="#1f8c7c" stroke-width="0.85"/><circle cx="759.72" cy="2068.51" r="2.4" fill="none" stroke="#1f8c7c" stroke-width="0.85"/><circle cx="767.01" cy="2068.51" r="2.4" fill="none" stroke="#1f8c7c" stroke-width="0.85"/><circle cx="774.31" cy="2068.51" r="2.4" fill="none" stroke="#1f8c7c" stroke-width="0.85"/><circle cx="781.6" cy="2068.51" r="2.4" fill="none" stroke="#1f8c7c" stroke-width="0.85"/><circle cx="754.51" cy="2073.72" r="2.4" fill="none" stroke="#1f8c7c" stroke-width="0.85"/><circle cx="761.81" cy="2073.72" r="2.4" fill="none" stroke="#1f8c7c" stroke-width="0.85"/><circle cx="769.1" cy="2073.72" r="2.4" fill="none" stroke="#1f8c7c" stroke-width="0.85"/><circle cx="776.39" cy="2073.72" r="2.4" fill="none" stroke="#1f8c7c" stroke-width="0.85"/><circle cx="783.68" cy="2073.72" r="2.4" fill="none" stroke="#1f8c7c" stroke-width="0.85"/><circle cx="732.81" cy="2047.67" r="5.6" fill="none" stroke="#1f8c7c" stroke-width="0.95"/><circle cx="801.39" cy="2040.73" r="5.6" fill="none" stroke="#1f8c7c" stroke-width="0.95"/><circle cx="743.23" cy="2058.96" r="5.6" fill="none" stroke="#1f8c7c" stroke-width="0.95"/><circle cx="790.97" cy="2058.96" r="5.6" fill="none" stroke="#1f8c7c" stroke-width="0.95"/><circle cx="743.23" cy="2080.66" r="5.6" fill="none" stroke="#1f8c7c" stroke-width="0.95"/><circle cx="790.97" cy="2080.66" r="5.6" fill="none" stroke="#1f8c7c" stroke-width="0.95"/><circle cx="732.81" cy="2090.21" r="5.6" fill="none" stroke="#1f8c7c" stroke-width="0.95"/><circle cx="801.39" cy="2090.21" r="5.6" fill="none" stroke="#1f8c7c" stroke-width="0.95"/><rect x="756.25" y="2007.74" width="24" height="2.8" fill="#1b9be3" opacity="0.85"/><rect x="816.3" y="1975.6" width="116" height="141" rx="0" fill="none" stroke="#111" stroke-width="1.6"/><circle cx="874.31" cy="1975.62" r="4.6" fill="none" stroke="#1f8c7c" stroke-width="1"/><circle cx="817.01" cy="1980.83" r="4.3" fill="none" stroke="#1f8c7c" stroke-width="0.9"/><circle cx="931.6" cy="1980.83" r="4.3" fill="none" stroke="#1f8c7c" stroke-width="0.9"/><circle cx="817.01" cy="2019.03" r="4.3" fill="none" stroke="#1f8c7c" stroke-width="0.9"/><circle cx="931.6" cy="2033.78" r="4.3" fill="none" stroke="#1f8c7c" stroke-width="0.9"/><circle cx="817.01" cy="2092.81" r="4.3" fill="none" stroke="#1f8c7c" stroke-width="0.9"/><circle cx="931.6" cy="2092.81" r="4.3" fill="none" stroke="#1f8c7c" stroke-width="0.9"/><circle cx="840.45" cy="1988.65" r="2.7" fill="none" stroke="#1f8c7c" stroke-width="0.9"/><circle cx="856.08" cy="1988.65" r="2.7" fill="none" stroke="#1f8c7c" stroke-width="0.9"/><circle cx="892.53" cy="1988.65" r="2.7" fill="none" stroke="#1f8c7c" stroke-width="0.9"/><circle cx="907.29" cy="1988.65" r="2.7" fill="none" stroke="#1f8c7c" stroke-width="0.9"/><circle cx="836.11" cy="2002.53" r="2.7" fill="none" stroke="#1f8c7c" stroke-width="0.9"/><circle cx="860.42" cy="2002.53" r="2.7" fill="none" stroke="#1f8c7c" stroke-width="0.9"/><circle cx="887.33" cy="2002.53" r="2.7" fill="none" stroke="#1f8c7c" stroke-width="0.9"/><circle cx="911.63" cy="2002.53" r="2.7" fill="none" stroke="#1f8c7c" stroke-width="0.9"/><circle cx="836.11" cy="2016.42" r="2.6" fill="none" stroke="#1f8c7c" stroke-width="0.85"/><circle cx="856.08" cy="2016.42" r="2.6" fill="none" stroke="#1f8c7c" stroke-width="0.85"/><circle cx="840.45" cy="2021.46" r="2.6" fill="none" stroke="#1f8c7c" stroke-width="0.85"/><circle cx="860.42" cy="2021.46" r="2.6" fill="none" stroke="#1f8c7c" stroke-width="0.85"/><circle cx="836.11" cy="2026.49" r="2.6" fill="none" stroke="#1f8c7c" stroke-width="0.85"/><circle cx="856.08" cy="2026.49" r="2.6" fill="none" stroke="#1f8c7c" stroke-width="0.85"/><circle cx="840.45" cy="2031.53" r="2.6" fill="none" stroke="#1f8c7c" stroke-width="0.85"/><circle cx="860.42" cy="2031.53" r="2.6" fill="none" stroke="#1f8c7c" stroke-width="0.85"/><circle cx="836.11" cy="2036.56" r="2.6" fill="none" stroke="#1f8c7c" stroke-width="0.85"/><circle cx="856.08" cy="2036.56" r="2.6" fill="none" stroke="#1f8c7c" stroke-width="0.85"/><circle cx="840.45" cy="2041.6" r="2.6" fill="none" stroke="#1f8c7c" stroke-width="0.85"/><circle cx="860.42" cy="2041.6" r="2.6" fill="none" stroke="#1f8c7c" stroke-width="0.85"/><circle cx="836.11" cy="2046.63" r="2.6" fill="none" stroke="#1f8c7c" stroke-width="0.85"/><circle cx="856.08" cy="2046.63" r="2.6" fill="none" stroke="#1f8c7c" stroke-width="0.85"/><circle cx="840.45" cy="2051.67" r="2.6" fill="none" stroke="#1f8c7c" stroke-width="0.85"/><circle cx="860.42" cy="2051.67" r="2.6" fill="none" stroke="#1f8c7c" stroke-width="0.85"/><circle cx="836.11" cy="2056.7" r="2.6" fill="none" stroke="#1f8c7c" stroke-width="0.85"/><circle cx="856.08" cy="2056.7" r="2.6" fill="none" stroke="#1f8c7c" stroke-width="0.85"/><circle cx="840.45" cy="2061.74" r="2.6" fill="none" stroke="#1f8c7c" stroke-width="0.85"/><circle cx="860.42" cy="2061.74" r="2.6" fill="none" stroke="#1f8c7c" stroke-width="0.85"/><circle cx="836.11" cy="2066.77" r="2.6" fill="none" stroke="#1f8c7c" stroke-width="0.85"/><circle cx="856.08" cy="2066.77" r="2.6" fill="none" stroke="#1f8c7c" stroke-width="0.85"/><circle cx="840.45" cy="2071.81" r="2.6" fill="none" stroke="#1f8c7c" stroke-width="0.85"/><circle cx="860.42" cy="2071.81" r="2.6" fill="none" stroke="#1f8c7c" stroke-width="0.85"/><circle cx="888.19" cy="2016.42" r="2.6" fill="none" stroke="#1f8c7c" stroke-width="0.85"/><circle cx="907.29" cy="2016.42" r="2.6" fill="none" stroke="#1f8c7c" stroke-width="0.85"/><circle cx="892.53" cy="2021.46" r="2.6" fill="none" stroke="#1f8c7c" stroke-width="0.85"/><circle cx="911.63" cy="2021.46" r="2.6" fill="none" stroke="#1f8c7c" stroke-width="0.85"/><circle cx="888.19" cy="2026.49" r="2.6" fill="none" stroke="#1f8c7c" stroke-width="0.85"/><circle cx="907.29" cy="2026.49" r="2.6" fill="none" stroke="#1f8c7c" stroke-width="0.85"/><circle cx="892.53" cy="2031.53" r="2.6" fill="none" stroke="#1f8c7c" stroke-width="0.85"/><circle cx="911.63" cy="2031.53" r="2.6" fill="none" stroke="#1f8c7c" stroke-width="0.85"/><circle cx="888.19" cy="2036.56" r="2.6" fill="none" stroke="#1f8c7c" stroke-width="0.85"/><circle cx="907.29" cy="2036.56" r="2.6" fill="none" stroke="#1f8c7c" stroke-width="0.85"/><circle cx="892.53" cy="2041.6" r="2.6" fill="none" stroke="#1f8c7c" stroke-width="0.85"/><circle cx="911.63" cy="2041.6" r="2.6" fill="none" stroke="#1f8c7c" stroke-width="0.85"/><circle cx="888.19" cy="2046.63" r="2.6" fill="none" stroke="#1f8c7c" stroke-width="0.85"/><circle cx="907.29" cy="2046.63" r="2.6" fill="none" stroke="#1f8c7c" stroke-width="0.85"/><circle cx="892.53" cy="2051.67" r="2.6" fill="none" stroke="#1f8c7c" stroke-width="0.85"/><circle cx="911.63" cy="2051.67" r="2.6" fill="none" stroke="#1f8c7c" stroke-width="0.85"/><circle cx="888.19" cy="2056.7" r="2.6" fill="none" stroke="#1f8c7c" stroke-width="0.85"/><circle cx="907.29" cy="2056.7" r="2.6" fill="none" stroke="#1f8c7c" stroke-width="0.85"/><circle cx="892.53" cy="2061.74" r="2.6" fill="none" stroke="#1f8c7c" stroke-width="0.85"/><circle cx="911.63" cy="2061.74" r="2.6" fill="none" stroke="#1f8c7c" stroke-width="0.85"/><circle cx="888.19" cy="2066.77" r="2.6" fill="none" stroke="#1f8c7c" stroke-width="0.85"/><circle cx="907.29" cy="2066.77" r="2.6" fill="none" stroke="#1f8c7c" stroke-width="0.85"/><circle cx="892.53" cy="2071.81" r="2.6" fill="none" stroke="#1f8c7c" stroke-width="0.85"/><circle cx="911.63" cy="2071.81" r="2.6" fill="none" stroke="#1f8c7c" stroke-width="0.85"/><circle cx="843.92" cy="2065.03" r="2.6" fill="none" stroke="#1f8c7c" stroke-width="0.85"/><circle cx="843.92" cy="2071.98" r="2.6" fill="none" stroke="#1f8c7c" stroke-width="0.85"/><circle cx="851.74" cy="2065.03" r="2.6" fill="none" stroke="#1f8c7c" stroke-width="0.85"/><circle cx="851.74" cy="2071.98" r="2.6" fill="none" stroke="#1f8c7c" stroke-width="0.85"/><circle cx="896.01" cy="2065.03" r="2.6" fill="none" stroke="#1f8c7c" stroke-width="0.85"/><circle cx="896.01" cy="2071.98" r="2.6" fill="none" stroke="#1f8c7c" stroke-width="0.85"/><circle cx="903.82" cy="2065.03" r="2.6" fill="none" stroke="#1f8c7c" stroke-width="0.85"/><circle cx="903.82" cy="2071.98" r="2.6" fill="none" stroke="#1f8c7c" stroke-width="0.85"/><circle cx="827.43" cy="2075.45" r="5.4" fill="none" stroke="#1f8c7c" stroke-width="0.95"/><circle cx="920.31" cy="2075.45" r="5.4" fill="none" stroke="#1f8c7c" stroke-width="0.95"/><rect x="865.62" y="1966.94" width="14" height="2.4" fill="#1b9be3" opacity="0.85"/><text x="357.5" y="1424.3" text-anchor="start" font-size="21.2" fill="#111" >USB2.0</text><text x="492" y="1424.3" text-anchor="start" font-size="21.2" fill="#111" >DDR3 SO-DIMM</text><text x="682" y="1424.3" text-anchor="start" font-size="21.2" fill="#111" >SATA</text><text x="762.5" y="1424.3" text-anchor="start" font-size="21.2" fill="#111" >ATX Power</text><text x="883.5" y="1420.5" text-anchor="start" font-size="21.2" fill="#111" >F_PANEL</text><text x="300.5" y="1606" text-anchor="end" font-size="21.2" fill="#111" >COM</text><text x="300.5" y="1689" text-anchor="end" font-size="21.2" fill="#111" >eDP</text><text x="300.5" y="1752.5" text-anchor="end" font-size="21.2" fill="#111" >FAN</text><text x="300.5" y="1825" text-anchor="end" font-size="21.2" fill="#111" >CPU</text><text x="299" y="1862.5" text-anchor="end" font-size="21.2" fill="#111" >CPU Power</text><text x="1050" y="1671.5" text-anchor="start" font-size="21.2" fill="#111" >GPIO</text><text x="1048.5" y="1744" text-anchor="start" font-size="21.2" fill="#111" >MINI-PCIE</text><text x="1048.5" y="1898.5" text-anchor="start" font-size="21.2" fill="#111" >POE Power</text><text x="916.5" y="2196.8" text-anchor="start" font-size="21.2" fill="#111" >PCIe x16</text><rect x="411.9" y="1489.8" width="305.1" height="74.4" fill="none" stroke="#c6a96c" stroke-width="1.4"/><rect x="770.6" y="1552.5" width="31.2" height="147" fill="none" stroke="#c6a96c" stroke-width="1.4"/><rect x="360.9" y="1697.9" width="31.3" height="85.6" fill="none" stroke="#c6a96c" stroke-width="1.4"/><polyline points="395,1429 395,1537.5" fill="none" stroke="#c6a96c" stroke-width="1.5"/><polyline points="571,1429 571,1514" fill="none" stroke="#c6a96c" stroke-width="1.5"/><polyline points="709.5,1429 709.5,1637 786.5,1637" fill="none" stroke="#c6a96c" stroke-width="1.5"/><polyline points="816,1429 816,1496.5" fill="none" stroke="#c6a96c" stroke-width="1.5"/><polyline points="931.8,1427.5 931.8,1504.5" fill="none" stroke="#c6a96c" stroke-width="1.5"/><polyline points="302.5,1598.5 368.5,1598.5" fill="none" stroke="#c6a96c" stroke-width="1.5"/><polyline points="302.5,1682.8 400.6,1682.8 400.6,1643.5" fill="none" stroke="#c6a96c" stroke-width="1.5"/><polyline points="302.5,1746.2 376.2,1746.2" fill="none" stroke="#c6a96c" stroke-width="1.5"/><polyline points="302.5,1817 592.5,1817 592.5,1743.5" fill="none" stroke="#c6a96c" stroke-width="1.5"/><polyline points="302.5,1855.3 377.1,1855.3" fill="none" stroke="#c6a96c" stroke-width="1.5"/><polyline points="1047.5,1664.2 920,1664.2" fill="none" stroke="#c6a96c" stroke-width="1.5"/><polyline points="1047.5,1736.4 851.4,1736.4" fill="none" stroke="#c6a96c" stroke-width="1.5"/><polyline points="1047.5,1890.5 778.8,1890.5 778.8,1743.6" fill="none" stroke="#c6a96c" stroke-width="1.5"/><polyline points="786.5,1890.5 786.5,1977.8" fill="none" stroke="#c6a96c" stroke-width="1.5"/><polyline points="930.2,1890.5 930.2,1926.9" fill="none" stroke="#c6a96c" stroke-width="1.5"/><polyline points="960.6,1902.2 960.6,2178" fill="none" stroke="#c6a96c" stroke-width="1.5"/><circle cx="394.5" cy="1537.5" r="7.4" fill="#ff8000"/><circle cx="571" cy="1514" r="7.4" fill="#ff8000"/><circle cx="786.5" cy="1637" r="7.4" fill="#ff8000"/><circle cx="816" cy="1496.5" r="7.4" fill="#ff8000"/><circle cx="931.8" cy="1504.5" r="7.4" fill="#ff8000"/><circle cx="368.5" cy="1598.5" r="7.4" fill="#ff8000"/><circle cx="400.6" cy="1643.5" r="7.4" fill="#ff8000"/><circle cx="376.2" cy="1746.2" r="7.4" fill="#ff8000"/><circle cx="592.5" cy="1743.5" r="7.4" fill="#ff8000"/><circle cx="377.1" cy="1855.3" r="7.4" fill="#ff8000"/><circle cx="920" cy="1664.2" r="7.4" fill="#ff8000"/><circle cx="851.4" cy="1736.4" r="7.4" fill="#ff8000"/><circle cx="778.8" cy="1743.6" r="7.4" fill="#ff8000"/><circle cx="929.5" cy="1926.9" r="7.4" fill="#ff8000"/><circle cx="786.5" cy="1977.8" r="7.4" fill="#ff8000"/><circle cx="960.5" cy="1902.2" r="7.4" fill="#ff8000"/><rect x="360.4" y="2545.8" width="628.2" height="5.8" rx="0" fill="none" stroke="#111" stroke-width="1.3"/><rect x="978" y="2545.8" width="10.6" height="5.8" rx="0" fill="none" stroke="#111" stroke-width="1"/><path d="M372,2552 V2557M375.4,2552 V2557M378.8,2552 V2557M382.2,2552 V2557M385.6,2552 V2557M389,2552 V2557M392.4,2552 V2557M395.8,2552 V2557M399.2,2552 V2557M402.6,2552 V2557M406,2552 V2557M459.4,2552 V2557M462.8,2552 V2557M466.2,2552 V2557M469.6,2552 V2557M473,2552 V2557M476.4,2552 V2557M479.8,2552 V2557M483.2,2552 V2557M486.6,2552 V2557M490,2552 V2557M493.4,2552 V2557M496.8,2552 V2557M500.2,2552 V2557M574,2552 V2557M577.4,2552 V2557M580.8,2552 V2557M584.2,2552 V2557M587.6,2552 V2557M591,2552 V2557M594.4,2552 V2557M597.8,2552 V2557M601.2,2552 V2557M604.6,2552 V2557M663,2552 V2557M666.4,2552 V2557M669.8,2552 V2557M673.2,2552 V2557M676.6,2552 V2557M680,2552 V2557M683.4,2552 V2557M686.8,2552 V2557M690.2,2552 V2557M693.6,2552 V2557M697,2552 V2557M700.4,2552 V2557M749,2552 V2557M752.4,2552 V2557M755.8,2552 V2557M759.2,2552 V2557M762.6,2552 V2557M766,2552 V2557M769.4,2552 V2557M772.8,2552 V2557M776.2,2552 V2557M779.6,2552 V2557M783,2552 V2557M786.4,2552 V2557M822,2552 V2557M825.4,2552 V2557M828.8,2552 V2557M832.2,2552 V2557M835.6,2552 V2557M839,2552 V2557M842.4,2552 V2557M845.8,2552 V2557M849.2,2552 V2557M852.6,2552 V2557M856,2552 V2557M859.4,2552 V2557M880,2552 V2557M883.4,2552 V2557M886.8,2552 V2557M890.2,2552 V2557M893.6,2552 V2557M897,2552 V2557M900.4,2552 V2557M903.8,2552 V2557M907.2,2552 V2557M910.6,2552 V2557M914,2552 V2557M917.4,2552 V2557M920.8,2552 V2557M924.2,2552 V2557M927.6,2552 V2557" stroke="#111" stroke-width="1.1"/><line x1="365" y1="2551.6" x2="366" y2="2560" stroke="#111" stroke-width="1.1"/><line x1="412" y1="2551.6" x2="413" y2="2560" stroke="#111" stroke-width="1.1"/><line x1="430" y1="2551.6" x2="431" y2="2560" stroke="#111" stroke-width="1.1"/><line x1="440" y1="2551.6" x2="441" y2="2560" stroke="#111" stroke-width="1.1"/><line x1="523" y1="2551.6" x2="524" y2="2560" stroke="#111" stroke-width="1.1"/><line x1="533" y1="2551.6" x2="534" y2="2560" stroke="#111" stroke-width="1.1"/><line x1="557" y1="2551.6" x2="558" y2="2560" stroke="#111" stroke-width="1.1"/><line x1="585" y1="2551.6" x2="586" y2="2560" stroke="#111" stroke-width="1.1"/><line x1="627" y1="2551.6" x2="628" y2="2560" stroke="#111" stroke-width="1.1"/><line x1="646" y1="2551.6" x2="647" y2="2560" stroke="#111" stroke-width="1.1"/><line x1="712" y1="2551.6" x2="713" y2="2560" stroke="#111" stroke-width="1.1"/><line x1="735" y1="2551.6" x2="736" y2="2560" stroke="#111" stroke-width="1.1"/><line x1="795" y1="2551.6" x2="796" y2="2560" stroke="#111" stroke-width="1.1"/><line x1="802" y1="2551.6" x2="803" y2="2560" stroke="#111" stroke-width="1.1"/><line x1="826" y1="2551.6" x2="827" y2="2560" stroke="#111" stroke-width="1.1"/><line x1="869" y1="2551.6" x2="870" y2="2560" stroke="#111" stroke-width="1.1"/><line x1="921" y1="2551.6" x2="922" y2="2560" stroke="#111" stroke-width="1.1"/><rect x="368" y="2416.6" width="45.3" height="129.2" rx="0" fill="none" stroke="#111" stroke-width="1.6"/><line x1="370.5" y1="2425" x2="370.5" y2="2540" stroke="#111" stroke-width="0.8"/><line x1="410.8" y1="2425" x2="410.8" y2="2540" stroke="#111" stroke-width="0.8"/><circle cx="390.3" cy="2440.2" r="12.8" fill="none" stroke="#111" stroke-width="1.3"/><circle cx="390.3" cy="2440.2" r="10.2" fill="none" stroke="#1d2fbf" stroke-width="2.8"/><circle cx="390.3" cy="2440.2" r="8.2" fill="none" stroke="#111" stroke-width="0.8"/><circle cx="390.3" cy="2440.2" r="6.5" fill="none" stroke="#999" stroke-width="0.6"/><circle cx="390.3" cy="2480.6" r="12.8" fill="none" stroke="#111" stroke-width="1.3"/><circle cx="390.3" cy="2480.6" r="10.2" fill="none" stroke="#22c23a" stroke-width="2.8"/><circle cx="390.3" cy="2480.6" r="8.2" fill="none" stroke="#111" stroke-width="0.8"/><circle cx="390.3" cy="2480.6" r="6.5" fill="none" stroke="#999" stroke-width="0.6"/><circle cx="390.3" cy="2521.2" r="12.8" fill="none" stroke="#111" stroke-width="1.3"/><circle cx="390.3" cy="2521.2" r="10.2" fill="none" stroke="#f0a0b4" stroke-width="2.8"/><circle cx="390.3" cy="2521.2" r="8.2" fill="none" stroke="#111" stroke-width="0.8"/><circle cx="390.3" cy="2521.2" r="6.5" fill="none" stroke="#999" stroke-width="0.6"/><rect x="372" y="2541" width="38" height="4.8" rx="0" fill="none" stroke="#111" stroke-width="0.8"/><path d="M424.4,2475.5 L424.4,2433.2 Q424.4,2429.2 428.4,2429.2 L534.4,2429.2 Q538.4,2429.2 538.4,2433.2 L538.4,2475.5 Z" fill="none" stroke="#111" stroke-width="1.3"/><polygon points="441.38,2454.4 434.8,2458.2 428.22,2454.4 428.22,2446.8 434.8,2443 441.38,2446.8" fill="none" stroke="#111" stroke-width="1.1"/><circle cx="434.8" cy="2450.6" r="4.71" fill="none" stroke="#111" stroke-width="1"/><circle cx="434.8" cy="2450.6" r="3.42" fill="none" stroke="#111" stroke-width="0.8"/><polygon points="533.48,2454.4 526.9,2458.2 520.32,2454.4 520.32,2446.8 526.9,2443 533.48,2446.8" fill="none" stroke="#111" stroke-width="1.1"/><circle cx="526.9" cy="2450.6" r="4.71" fill="none" stroke="#111" stroke-width="1"/><circle cx="526.9" cy="2450.6" r="3.42" fill="none" stroke="#111" stroke-width="0.8"/><path d="M452,2433 L511,2433 Q517,2433 516,2439.2 L512,2466.2 Q511,2471.4 506,2471.4 L457,2471.4 Q452,2471.4 451,2466.2 L447,2439.2 Q446,2433 452,2433 Z" fill="none" stroke="#111" stroke-width="1.2"/><path d="M453.5,2435.2 L509.5,2435.2 Q514,2435.2 513.5,2439.7 L510,2465.2 Q509,2469.2 505,2469.2 L458,2469.2 Q454,2469.2 453,2465.2 L449.5,2439.7 Q449,2435.2 453.5,2435.2 Z" fill="none" stroke="#111" stroke-width="0.8"/><rect x="462.4" y="2439.6" width="37.6" height="2.6" rx="0" fill="none" stroke="#111" stroke-width="1"/><rect x="464" y="2464.2" width="35" height="3" rx="0" fill="#111" stroke="#111" stroke-width="0"/><rect x="452" y="2442.2" width="3" height="15" rx="0" fill="none" stroke="#111" stroke-width="1.1"/><rect x="508" y="2442.2" width="3" height="15" rx="0" fill="none" stroke="#111" stroke-width="1.1"/><circle cx="460.6" cy="2446.8" r="1.4" fill="none" stroke="#111" stroke-width="1"/><circle cx="471" cy="2446.8" r="1.4" fill="none" stroke="#111" stroke-width="1"/><circle cx="481.4" cy="2446.8" r="1.4" fill="none" stroke="#111" stroke-width="1"/><circle cx="491.8" cy="2446.8" r="1.4" fill="none" stroke="#111" stroke-width="1"/><circle cx="502.2" cy="2446.8" r="1.4" fill="none" stroke="#111" stroke-width="1"/><circle cx="465.8" cy="2457.5" r="1.4" fill="none" stroke="#111" stroke-width="1"/><circle cx="476.2" cy="2457.5" r="1.4" fill="none" stroke="#111" stroke-width="1"/><circle cx="486.6" cy="2457.5" r="1.4" fill="none" stroke="#111" stroke-width="1"/><circle cx="497" cy="2457.5" r="1.4" fill="none" stroke="#111" stroke-width="1"/><path d="M424.4,2545.8 L424.4,2503.5 Q424.4,2499.5 428.4,2499.5 L534.4,2499.5 Q538.4,2499.5 538.4,2503.5 L538.4,2545.8 Z" fill="none" stroke="#111" stroke-width="1.3"/><polygon points="441.38,2524.7 434.8,2528.5 428.22,2524.7 428.22,2517.1 434.8,2513.3 441.38,2517.1" fill="none" stroke="#111" stroke-width="1.1"/><circle cx="434.8" cy="2520.9" r="4.71" fill="none" stroke="#111" stroke-width="1"/><circle cx="434.8" cy="2520.9" r="3.42" fill="none" stroke="#111" stroke-width="0.8"/><polygon points="533.48,2524.7 526.9,2528.5 520.32,2524.7 520.32,2517.1 526.9,2513.3 533.48,2517.1" fill="none" stroke="#111" stroke-width="1.1"/><circle cx="526.9" cy="2520.9" r="4.71" fill="none" stroke="#111" stroke-width="1"/><circle cx="526.9" cy="2520.9" r="3.42" fill="none" stroke="#111" stroke-width="0.8"/><path d="M452,2503.3 L511,2503.3 Q517,2503.3 516,2509.5 L512,2536.5 Q511,2541.7 506,2541.7 L457,2541.7 Q452,2541.7 451,2536.5 L447,2509.5 Q446,2503.3 452,2503.3 Z" fill="none" stroke="#111" stroke-width="1.2"/><path d="M453.5,2505.5 L509.5,2505.5 Q514,2505.5 513.5,2510 L510,2535.5 Q509,2539.5 505,2539.5 L458,2539.5 Q454,2539.5 453,2535.5 L449.5,2510 Q449,2505.5 453.5,2505.5 Z" fill="none" stroke="#111" stroke-width="0.8"/><rect x="462.4" y="2509.9" width="37.6" height="2.6" rx="0" fill="none" stroke="#111" stroke-width="1"/><rect x="464" y="2534.5" width="35" height="3" rx="0" fill="#111" stroke="#111" stroke-width="0"/><rect x="452" y="2512.5" width="3" height="15" rx="0" fill="none" stroke="#111" stroke-width="1.1"/><rect x="508" y="2512.5" width="3" height="15" rx="0" fill="none" stroke="#111" stroke-width="1.1"/><circle cx="460.6" cy="2517.1" r="1.4" fill="none" stroke="#111" stroke-width="1"/><circle cx="471" cy="2517.1" r="1.4" fill="none" stroke="#111" stroke-width="1"/><circle cx="481.4" cy="2517.1" r="1.4" fill="none" stroke="#111" stroke-width="1"/><circle cx="491.8" cy="2517.1" r="1.4" fill="none" stroke="#111" stroke-width="1"/><circle cx="502.2" cy="2517.1" r="1.4" fill="none" stroke="#111" stroke-width="1"/><circle cx="465.8" cy="2527.8" r="1.4" fill="none" stroke="#111" stroke-width="1"/><circle cx="476.2" cy="2527.8" r="1.4" fill="none" stroke="#111" stroke-width="1"/><circle cx="486.6" cy="2527.8" r="1.4" fill="none" stroke="#111" stroke-width="1"/><circle cx="497" cy="2527.8" r="1.4" fill="none" stroke="#111" stroke-width="1"/><line x1="447.1" y1="2475.5" x2="447.1" y2="2499.5" stroke="#111" stroke-width="1.1"/><line x1="449.5" y1="2475.5" x2="449.5" y2="2499.5" stroke="#111" stroke-width="0.8"/><line x1="516.1" y1="2475.5" x2="516.1" y2="2499.5" stroke="#111" stroke-width="1.1"/><line x1="513.7" y1="2475.5" x2="513.7" y2="2499.5" stroke="#111" stroke-width="0.8"/><path d="M554.9,2545.8 L554.9,2438 Q554.9,2435.7 557.2,2435.7 L627,2435.7 Q629.3,2435.7 629.3,2438 L629.3,2545.8" fill="none" stroke="#111" stroke-width="1.7"/><line x1="627.1" y1="2440" x2="627.1" y2="2545.8" stroke="#111" stroke-width="0.8"/><line x1="556.9" y1="2520" x2="556.9" y2="2545.8" stroke="#111" stroke-width="0.8"/><path d="M569,2460 L569,2442.4 Q569,2440.4 571,2440.4 L614.2,2440.4 Q616.2,2440.4 616.2,2442.4 L616.2,2460 Z" fill="none" stroke="#111" stroke-width="1.5"/><rect x="572" y="2443.4" width="41.2" height="8" rx="0" fill="none" stroke="#111" stroke-width="1.1"/><rect x="573" y="2445.4" width="39.2" height="5.5" rx="0" fill="#111" stroke="#111" stroke-width="0"/><rect x="576" y="2450.9" width="2" height="2.5" rx="0" fill="#fff" stroke="#111" stroke-width="0"/><rect x="586.4" y="2450.9" width="2" height="2.5" rx="0" fill="#fff" stroke="#111" stroke-width="0"/><rect x="596.8" y="2450.9" width="2" height="2.5" rx="0" fill="#fff" stroke="#111" stroke-width="0"/><rect x="607.2" y="2450.9" width="2" height="2.5" rx="0" fill="#fff" stroke="#111" stroke-width="0"/><rect x="577" y="2457.5" width="5" height="2.5" rx="0" fill="none" stroke="#111" stroke-width="0.9"/><rect x="603.2" y="2457.5" width="5" height="2.5" rx="0" fill="none" stroke="#111" stroke-width="0.9"/><path d="M569,2492.3 L569,2473.6 Q569,2471.6 571,2471.6 L614.2,2471.6 Q616.2,2471.6 616.2,2473.6 L616.2,2492.3 Z" fill="none" stroke="#111" stroke-width="1.5"/><rect x="572" y="2474.6" width="41.2" height="8" rx="0" fill="none" stroke="#111" stroke-width="1.1"/><rect x="573" y="2476.6" width="39.2" height="5.5" rx="0" fill="#111" stroke="#111" stroke-width="0"/><rect x="576" y="2482.1" width="2" height="2.5" rx="0" fill="#fff" stroke="#111" stroke-width="0"/><rect x="586.4" y="2482.1" width="2" height="2.5" rx="0" fill="#fff" stroke="#111" stroke-width="0"/><rect x="596.8" y="2482.1" width="2" height="2.5" rx="0" fill="#fff" stroke="#111" stroke-width="0"/><rect x="607.2" y="2482.1" width="2" height="2.5" rx="0" fill="#fff" stroke="#111" stroke-width="0"/><rect x="577" y="2489.8" width="5" height="2.5" rx="0" fill="none" stroke="#111" stroke-width="0.9"/><rect x="603.2" y="2489.8" width="5" height="2.5" rx="0" fill="none" stroke="#111" stroke-width="0.9"/><path d="M564.6,2463.6 L620.6,2463.6 L622.8,2466.5 L620.6,2469.4 L564.6,2469.4 L562.4,2466.5 Z" fill="none" stroke="#111" stroke-width="1.3"/><rect x="562.4" y="2503.2" width="60.4" height="6.9" rx="3.45" fill="none" stroke="#111" stroke-width="1.6"/><line x1="554.9" y1="2519.6" x2="629.3" y2="2519.6" stroke="#111" stroke-width="1.2"/><rect x="574" y="2517.1" width="36.2" height="3.2" rx="0" fill="none" stroke="#111" stroke-width="0.9"/><path d="M643.6,2545.8 L643.6,2438 Q643.6,2435.7 645.9,2435.7 L716.4,2435.7 Q718.7,2435.7 718.7,2438 L718.7,2545.8" fill="none" stroke="#111" stroke-width="1.7"/><line x1="716.5" y1="2440" x2="716.5" y2="2545.8" stroke="#111" stroke-width="0.8"/><line x1="645.6" y1="2520" x2="645.6" y2="2545.8" stroke="#111" stroke-width="0.8"/><path d="M657.7,2460 L657.7,2442.4 Q657.7,2440.4 659.7,2440.4 L703.7,2440.4 Q705.7,2440.4 705.7,2442.4 L705.7,2460 Z" fill="none" stroke="#111" stroke-width="1.5"/><rect x="660.7" y="2443.4" width="42" height="8" rx="0" fill="none" stroke="#111" stroke-width="1.1"/><rect x="661.7" y="2445.4" width="40" height="5.5" rx="0" fill="#111" stroke="#111" stroke-width="0"/><rect x="664.7" y="2450.9" width="2" height="2.5" rx="0" fill="#fff" stroke="#111" stroke-width="0"/><rect x="675.37" y="2450.9" width="2" height="2.5" rx="0" fill="#fff" stroke="#111" stroke-width="0"/><rect x="686.03" y="2450.9" width="2" height="2.5" rx="0" fill="#fff" stroke="#111" stroke-width="0"/><rect x="696.7" y="2450.9" width="2" height="2.5" rx="0" fill="#fff" stroke="#111" stroke-width="0"/><rect x="665.7" y="2457.5" width="5" height="2.5" rx="0" fill="none" stroke="#111" stroke-width="0.9"/><rect x="692.7" y="2457.5" width="5" height="2.5" rx="0" fill="none" stroke="#111" stroke-width="0.9"/><path d="M657.7,2492.3 L657.7,2473.6 Q657.7,2471.6 659.7,2471.6 L703.7,2471.6 Q705.7,2471.6 705.7,2473.6 L705.7,2492.3 Z" fill="none" stroke="#111" stroke-width="1.5"/><rect x="660.7" y="2474.6" width="42" height="8" rx="0" fill="none" stroke="#111" stroke-width="1.1"/><rect x="661.7" y="2476.6" width="40" height="5.5" rx="0" fill="#111" stroke="#111" stroke-width="0"/><rect x="664.7" y="2482.1" width="2" height="2.5" rx="0" fill="#fff" stroke="#111" stroke-width="0"/><rect x="675.37" y="2482.1" width="2" height="2.5" rx="0" fill="#fff" stroke="#111" stroke-width="0"/><rect x="686.03" y="2482.1" width="2" height="2.5" rx="0" fill="#fff" stroke="#111" stroke-width="0"/><rect x="696.7" y="2482.1" width="2" height="2.5" rx="0" fill="#fff" stroke="#111" stroke-width="0"/><rect x="665.7" y="2489.8" width="5" height="2.5" rx="0" fill="none" stroke="#111" stroke-width="0.9"/><rect x="692.7" y="2489.8" width="5" height="2.5" rx="0" fill="none" stroke="#111" stroke-width="0.9"/><path d="M655.5,2463.6 L707.8,2463.6 L710,2466.5 L707.8,2469.4 L655.5,2469.4 L653.3,2466.5 Z" fill="none" stroke="#111" stroke-width="1.3"/><rect x="653.3" y="2503.2" width="56.7" height="6.9" rx="3.45" fill="none" stroke="#111" stroke-width="1.6"/><line x1="643.6" y1="2519.6" x2="718.7" y2="2519.6" stroke="#111" stroke-width="1.2"/><rect x="662.7" y="2517.1" width="37" height="3.2" rx="0" fill="none" stroke="#111" stroke-width="0.9"/><rect x="561.7" y="2521.8" width="64" height="23.5" rx="2" fill="none" stroke="#111" stroke-width="1.4"/><path d="M571.2,2537.8 L571.2,2531.2 L615.5,2531.2 L615.5,2537.8 M571.2,2537.8 L575,2537.8 L575,2534 L611.5,2534 L611.5,2537.8 L615.5,2537.8" fill="none" stroke="#111" stroke-width="1.5"/><line x1="566" y1="2543" x2="624" y2="2543" stroke="#111" stroke-width="1.1"/><rect x="652.6" y="2521.8" width="58.1" height="23.5" rx="2" fill="none" stroke="#111" stroke-width="1.4"/><path d="M662,2529 L703,2529 L703,2537 L699,2541 L666,2541 L662,2537 Z" fill="none" stroke="#111" stroke-width="1.2"/><rect x="667" y="2538" width="32" height="3.5" rx="0" fill="#111" stroke="#111" stroke-width="0"/><rect x="670" y="2524" width="6" height="3" rx="0" fill="none" stroke="#111" stroke-width="0.9"/><rect x="687" y="2524" width="6" height="3" rx="0" fill="none" stroke="#111" stroke-width="0.9"/><rect x="731.5" y="2432" width="70.9" height="113.8" rx="2" fill="none" stroke="#111" stroke-width="1.6"/><line x1="735" y1="2436" x2="735" y2="2545.8" stroke="#111" stroke-width="0.8"/><line x1="799" y1="2436" x2="799" y2="2545.8" stroke="#111" stroke-width="0.8"/><rect x="737" y="2437.4" width="15.3" height="8.8" rx="1.5" fill="none" stroke="#111" stroke-width="1.2"/><rect x="782.8" y="2437.4" width="14.2" height="8.8" rx="1.5" fill="none" stroke="#111" stroke-width="1.2"/><rect x="755.5" y="2438.5" width="24" height="20.8" rx="0" fill="none" stroke="#111" stroke-width="1.2"/><rect x="760" y="2436" width="15" height="3" rx="0" fill="none" stroke="#111" stroke-width="0.9"/><path d="M743.5,2447.3 L743.5,2476 Q743.5,2480 747.5,2480 L787.5,2480 Q791.5,2480 791.5,2476 L791.5,2447.3" fill="none" stroke="#111" stroke-width="1.3"/><rect x="746" y="2452" width="4" height="10" rx="0" fill="none" stroke="#111" stroke-width="0.9"/><rect x="785" y="2452" width="4" height="10" rx="0" fill="none" stroke="#111" stroke-width="0.9"/><rect x="752.3" y="2463.6" width="2.6" height="9.8" rx="0" fill="#111" stroke="#111" stroke-width="0"/><rect x="757.2" y="2463.6" width="2.6" height="9.8" rx="0" fill="#111" stroke="#111" stroke-width="0"/><rect x="762.1" y="2463.6" width="2.6" height="9.8" rx="0" fill="#111" stroke="#111" stroke-width="0"/><rect x="767" y="2463.6" width="2.6" height="9.8" rx="0" fill="#111" stroke="#111" stroke-width="0"/><rect x="771.9" y="2463.6" width="2.6" height="9.8" rx="0" fill="#111" stroke="#111" stroke-width="0"/><rect x="776.8" y="2463.6" width="2.6" height="9.8" rx="0" fill="#111" stroke="#111" stroke-width="0"/><rect x="781.7" y="2463.6" width="2.6" height="9.8" rx="0" fill="#111" stroke="#111" stroke-width="0"/><rect x="745.7" y="2482" width="45.8" height="3.4" rx="0" fill="none" stroke="#111" stroke-width="1.1"/><path d="M742.4,2509.4 L742.4,2490.7 Q742.4,2488.7 744.4,2488.7 L790.6,2488.7 Q792.6,2488.7 792.6,2490.7 L792.6,2509.4 Z" fill="none" stroke="#111" stroke-width="1.5"/><rect x="745.4" y="2491.7" width="44.2" height="8" rx="0" fill="none" stroke="#111" stroke-width="1.1"/><rect x="746.4" y="2493.7" width="42.2" height="5.5" rx="0" fill="#1d2fbf" stroke="#111" stroke-width="0"/><rect x="749.4" y="2499.2" width="2" height="2.5" rx="0" fill="#fff" stroke="#111" stroke-width="0"/><rect x="760.8" y="2499.2" width="2" height="2.5" rx="0" fill="#fff" stroke="#111" stroke-width="0"/><rect x="772.2" y="2499.2" width="2" height="2.5" rx="0" fill="#fff" stroke="#111" stroke-width="0"/><rect x="783.6" y="2499.2" width="2" height="2.5" rx="0" fill="#fff" stroke="#111" stroke-width="0"/><rect x="750.4" y="2506.9" width="5" height="2.5" rx="0" fill="none" stroke="#111" stroke-width="0.9"/><rect x="779.6" y="2506.9" width="5" height="2.5" rx="0" fill="none" stroke="#111" stroke-width="0.9"/><rect x="739.2" y="2513.8" width="56.7" height="2.2" rx="0" fill="none" stroke="#111" stroke-width="1"/><path d="M742.4,2541 L742.4,2521.2 Q742.4,2519.2 744.4,2519.2 L790.6,2519.2 Q792.6,2519.2 792.6,2521.2 L792.6,2541 Z" fill="none" stroke="#111" stroke-width="1.5"/><rect x="745.4" y="2522.2" width="44.2" height="8" rx="0" fill="none" stroke="#111" stroke-width="1.1"/><rect x="746.4" y="2524.2" width="42.2" height="5.5" rx="0" fill="#1d2fbf" stroke="#111" stroke-width="0"/><rect x="749.4" y="2529.7" width="2" height="2.5" rx="0" fill="#fff" stroke="#111" stroke-width="0"/><rect x="760.8" y="2529.7" width="2" height="2.5" rx="0" fill="#fff" stroke="#111" stroke-width="0"/><rect x="772.2" y="2529.7" width="2" height="2.5" rx="0" fill="#fff" stroke="#111" stroke-width="0"/><rect x="783.6" y="2529.7" width="2" height="2.5" rx="0" fill="#fff" stroke="#111" stroke-width="0"/><rect x="750.4" y="2538.5" width="5" height="2.5" rx="0" fill="none" stroke="#111" stroke-width="0.9"/><rect x="779.6" y="2538.5" width="5" height="2.5" rx="0" fill="none" stroke="#111" stroke-width="0.9"/><rect x="815.5" y="2450.5" width="116.7" height="93.8" rx="0" fill="none" stroke="#111" stroke-width="1.6"/><rect x="825" y="2445" width="9" height="5.5" rx="1" fill="none" stroke="#111" stroke-width="1.1"/><rect x="869" y="2445" width="9" height="5.5" rx="1" fill="none" stroke="#111" stroke-width="1.1"/><rect x="913" y="2445" width="9" height="5.5" rx="1" fill="none" stroke="#111" stroke-width="1.1"/><rect x="811" y="2457" width="4.5" height="9" rx="1" fill="none" stroke="#111" stroke-width="1.1"/><rect x="932.2" y="2457" width="4.5" height="9" rx="1" fill="none" stroke="#111" stroke-width="1.1"/><rect x="811" y="2480" width="4.5" height="9" rx="1" fill="none" stroke="#111" stroke-width="1.1"/><rect x="932.2" y="2480" width="4.5" height="9" rx="1" fill="none" stroke="#111" stroke-width="1.1"/><rect x="811" y="2504" width="4.5" height="9" rx="1" fill="none" stroke="#111" stroke-width="1.1"/><rect x="932.2" y="2504" width="4.5" height="9" rx="1" fill="none" stroke="#111" stroke-width="1.1"/><rect x="811" y="2530" width="4.5" height="9" rx="1" fill="none" stroke="#111" stroke-width="1.1"/><rect x="932.2" y="2530" width="4.5" height="9" rx="1" fill="none" stroke="#111" stroke-width="1.1"/><rect x="824.2" y="2453.8" width="48" height="38.2" rx="2" fill="none" stroke="#111" stroke-width="1.4"/><rect x="826.7" y="2456.3" width="43" height="33.2" rx="1.5" fill="none" stroke="#111" stroke-width="0.8"/><rect x="837.2" y="2456" width="23" height="14.2" rx="0" fill="none" stroke="#111" stroke-width="1.1"/><rect x="831.9" y="2472.3" width="32.7" height="15.3" rx="0" fill="#111" stroke="#111" stroke-width="0"/><rect x="833.4" y="2475.8" width="1.6" height="11.8" rx="0" fill="#fff" stroke="#111" stroke-width="0"/><rect x="837.4" y="2475.8" width="1.6" height="11.8" rx="0" fill="#fff" stroke="#111" stroke-width="0"/><rect x="841.4" y="2475.8" width="1.6" height="11.8" rx="0" fill="#fff" stroke="#111" stroke-width="0"/><rect x="845.4" y="2475.8" width="1.6" height="11.8" rx="0" fill="#fff" stroke="#111" stroke-width="0"/><rect x="849.4" y="2475.8" width="1.6" height="11.8" rx="0" fill="#fff" stroke="#111" stroke-width="0"/><rect x="853.4" y="2475.8" width="1.6" height="11.8" rx="0" fill="#fff" stroke="#111" stroke-width="0"/><rect x="857.4" y="2475.8" width="1.6" height="11.8" rx="0" fill="#fff" stroke="#111" stroke-width="0"/><rect x="861.4" y="2475.8" width="1.6" height="11.8" rx="0" fill="#fff" stroke="#111" stroke-width="0"/><rect x="826.7" y="2456.3" width="6.5" height="5.5" rx="0" fill="none" stroke="#111" stroke-width="0.9"/><rect x="863.2" y="2456.3" width="6.5" height="5.5" rx="0" fill="none" stroke="#111" stroke-width="0.9"/><rect x="876.6" y="2453.8" width="48" height="38.2" rx="2" fill="none" stroke="#111" stroke-width="1.4"/><rect x="879.1" y="2456.3" width="43" height="33.2" rx="1.5" fill="none" stroke="#111" stroke-width="0.8"/><rect x="889.6" y="2456" width="23" height="14.2" rx="0" fill="none" stroke="#111" stroke-width="1.1"/><rect x="884.3" y="2472.3" width="32.7" height="15.3" rx="0" fill="#111" stroke="#111" stroke-width="0"/><rect x="885.8" y="2475.8" width="1.6" height="11.8" rx="0" fill="#fff" stroke="#111" stroke-width="0"/><rect x="889.8" y="2475.8" width="1.6" height="11.8" rx="0" fill="#fff" stroke="#111" stroke-width="0"/><rect x="893.8" y="2475.8" width="1.6" height="11.8" rx="0" fill="#fff" stroke="#111" stroke-width="0"/><rect x="897.8" y="2475.8" width="1.6" height="11.8" rx="0" fill="#fff" stroke="#111" stroke-width="0"/><rect x="901.8" y="2475.8" width="1.6" height="11.8" rx="0" fill="#fff" stroke="#111" stroke-width="0"/><rect x="905.8" y="2475.8" width="1.6" height="11.8" rx="0" fill="#fff" stroke="#111" stroke-width="0"/><rect x="909.8" y="2475.8" width="1.6" height="11.8" rx="0" fill="#fff" stroke="#111" stroke-width="0"/><rect x="913.8" y="2475.8" width="1.6" height="11.8" rx="0" fill="#fff" stroke="#111" stroke-width="0"/><rect x="879.1" y="2456.3" width="6.5" height="5.5" rx="0" fill="none" stroke="#111" stroke-width="0.9"/><rect x="915.6" y="2456.3" width="6.5" height="5.5" rx="0" fill="none" stroke="#111" stroke-width="0.9"/><rect x="824.2" y="2501.8" width="48" height="38.2" rx="2" fill="none" stroke="#111" stroke-width="1.4"/><rect x="826.7" y="2504.3" width="43" height="33.2" rx="1.5" fill="none" stroke="#111" stroke-width="0.8"/><rect x="831.9" y="2505" width="32.7" height="15.3" rx="0" fill="#111" stroke="#111" stroke-width="0"/><rect x="833.4" y="2505" width="1.6" height="10.8" rx="0" fill="#fff" stroke="#111" stroke-width="0"/><rect x="837.4" y="2505" width="1.6" height="10.8" rx="0" fill="#fff" stroke="#111" stroke-width="0"/><rect x="841.4" y="2505" width="1.6" height="10.8" rx="0" fill="#fff" stroke="#111" stroke-width="0"/><rect x="845.4" y="2505" width="1.6" height="10.8" rx="0" fill="#fff" stroke="#111" stroke-width="0"/><rect x="849.4" y="2505" width="1.6" height="10.8" rx="0" fill="#fff" stroke="#111" stroke-width="0"/><rect x="853.4" y="2505" width="1.6" height="10.8" rx="0" fill="#fff" stroke="#111" stroke-width="0"/><rect x="857.4" y="2505" width="1.6" height="10.8" rx="0" fill="#fff" stroke="#111" stroke-width="0"/><rect x="861.4" y="2505" width="1.6" height="10.8" rx="0" fill="#fff" stroke="#111" stroke-width="0"/><rect x="837.2" y="2523.6" width="23" height="14.2" rx="0" fill="none" stroke="#111" stroke-width="1.1"/><rect x="826.7" y="2532" width="6.5" height="5.5" rx="0" fill="none" stroke="#111" stroke-width="0.9"/><rect x="863.2" y="2532" width="6.5" height="5.5" rx="0" fill="none" stroke="#111" stroke-width="0.9"/><rect x="876.6" y="2501.8" width="48" height="38.2" rx="2" fill="none" stroke="#111" stroke-width="1.4"/><rect x="879.1" y="2504.3" width="43" height="33.2" rx="1.5" fill="none" stroke="#111" stroke-width="0.8"/><rect x="884.3" y="2505" width="32.7" height="15.3" rx="0" fill="#111" stroke="#111" stroke-width="0"/><rect x="885.8" y="2505" width="1.6" height="10.8" rx="0" fill="#fff" stroke="#111" stroke-width="0"/><rect x="889.8" y="2505" width="1.6" height="10.8" rx="0" fill="#fff" stroke="#111" stroke-width="0"/><rect x="893.8" y="2505" width="1.6" height="10.8" rx="0" fill="#fff" stroke="#111" stroke-width="0"/><rect x="897.8" y="2505" width="1.6" height="10.8" rx="0" fill="#fff" stroke="#111" stroke-width="0"/><rect x="901.8" y="2505" width="1.6" height="10.8" rx="0" fill="#fff" stroke="#111" stroke-width="0"/><rect x="905.8" y="2505" width="1.6" height="10.8" rx="0" fill="#fff" stroke="#111" stroke-width="0"/><rect x="909.8" y="2505" width="1.6" height="10.8" rx="0" fill="#fff" stroke="#111" stroke-width="0"/><rect x="913.8" y="2505" width="1.6" height="10.8" rx="0" fill="#fff" stroke="#111" stroke-width="0"/><rect x="889.6" y="2523.6" width="23" height="14.2" rx="0" fill="none" stroke="#111" stroke-width="1.1"/><rect x="879.1" y="2532" width="6.5" height="5.5" rx="0" fill="none" stroke="#111" stroke-width="0.9"/><rect x="915.6" y="2532" width="6.5" height="5.5" rx="0" fill="none" stroke="#111" stroke-width="0.9"/><line x1="818" y1="2542" x2="930" y2="2542" stroke="#111" stroke-width="0.8"/><rect x="361.9" y="2412.6" width="57.9" height="135.5" fill="none" stroke="#c6a96c" stroke-width="1.4"/><rect x="423.3" y="2426.1" width="118.6" height="122.5" fill="none" stroke="#c6a96c" stroke-width="1.4"/><rect x="561.3" y="2439.2" width="153.1" height="73.1" fill="none" stroke="#c6a96c" stroke-width="1.4"/><rect x="737" y="2486.5" width="60" height="58.9" fill="none" stroke="#c6a96c" stroke-width="1.4"/><rect x="808.3" y="2442.9" width="130.4" height="103.6" fill="none" stroke="#c6a96c" stroke-width="1.4"/><polyline points="390.3,2480.6 390.3,2590.4" fill="none" stroke="#c6a96c" stroke-width="1.5"/><polyline points="481,2516.5 481,2590.4" fill="none" stroke="#c6a96c" stroke-width="1.5"/><polyline points="590.8,2532.7 590.8,2590.4" fill="none" stroke="#c6a96c" stroke-width="1.5"/><polyline points="661.3,2532 661.3,2591" fill="none" stroke="#c6a96c" stroke-width="1.5"/><polyline points="767.5,2511.6 767.5,2591" fill="none" stroke="#c6a96c" stroke-width="1.5"/><polyline points="899.5,2487.2 899.5,2591" fill="none" stroke="#c6a96c" stroke-width="1.5"/><polyline points="636.9,2396.3 636.9,2477" fill="none" stroke="#c6a96c" stroke-width="1.5"/><polyline points="768.2,2396.7 768.2,2465.8" fill="none" stroke="#c6a96c" stroke-width="1.5"/><circle cx="390.3" cy="2480.6" r="7.5" fill="#ff8000"/><circle cx="481" cy="2516.5" r="7.5" fill="#ff8000"/><circle cx="590.8" cy="2532.7" r="7.5" fill="#ff8000"/><circle cx="661.3" cy="2532" r="7.5" fill="#ff8000"/><circle cx="767.5" cy="2511.6" r="7.5" fill="#ff8000"/><circle cx="899.5" cy="2487.2" r="7.5" fill="#ff8000"/><circle cx="636.9" cy="2477" r="7.5" fill="#ff8000"/><circle cx="768.2" cy="2465.8" r="7.5" fill="#ff8000"/><text x="390.3" y="2610.4" text-anchor="middle" font-size="21.2" fill="#111" >Audio</text><text x="481.8" y="2610.4" text-anchor="middle" font-size="21.2" fill="#111" >COM</text><text x="590.2" y="2610.4" text-anchor="middle" font-size="21.2" fill="#111" >DP</text><text x="661.2" y="2610.4" text-anchor="middle" font-size="21.2" fill="#111" >HDMI</text><text x="766.7" y="2610.4" text-anchor="middle" font-size="21.2" fill="#111" >USB 5Gbps</text><text x="899.4" y="2610.4" text-anchor="middle" font-size="21.2" fill="#111" >i210</text><text x="898.8" y="2635.1" text-anchor="middle" font-size="21.2" fill="#111" >(Optional PoE)</text><text x="636.6" y="2390.9" text-anchor="middle" font-size="21.2" fill="#111" >USB2.0</text><text x="767.7" y="2390.9" text-anchor="middle" font-size="21.2" fill="#111" >i218</text></svg>
</body></html>
